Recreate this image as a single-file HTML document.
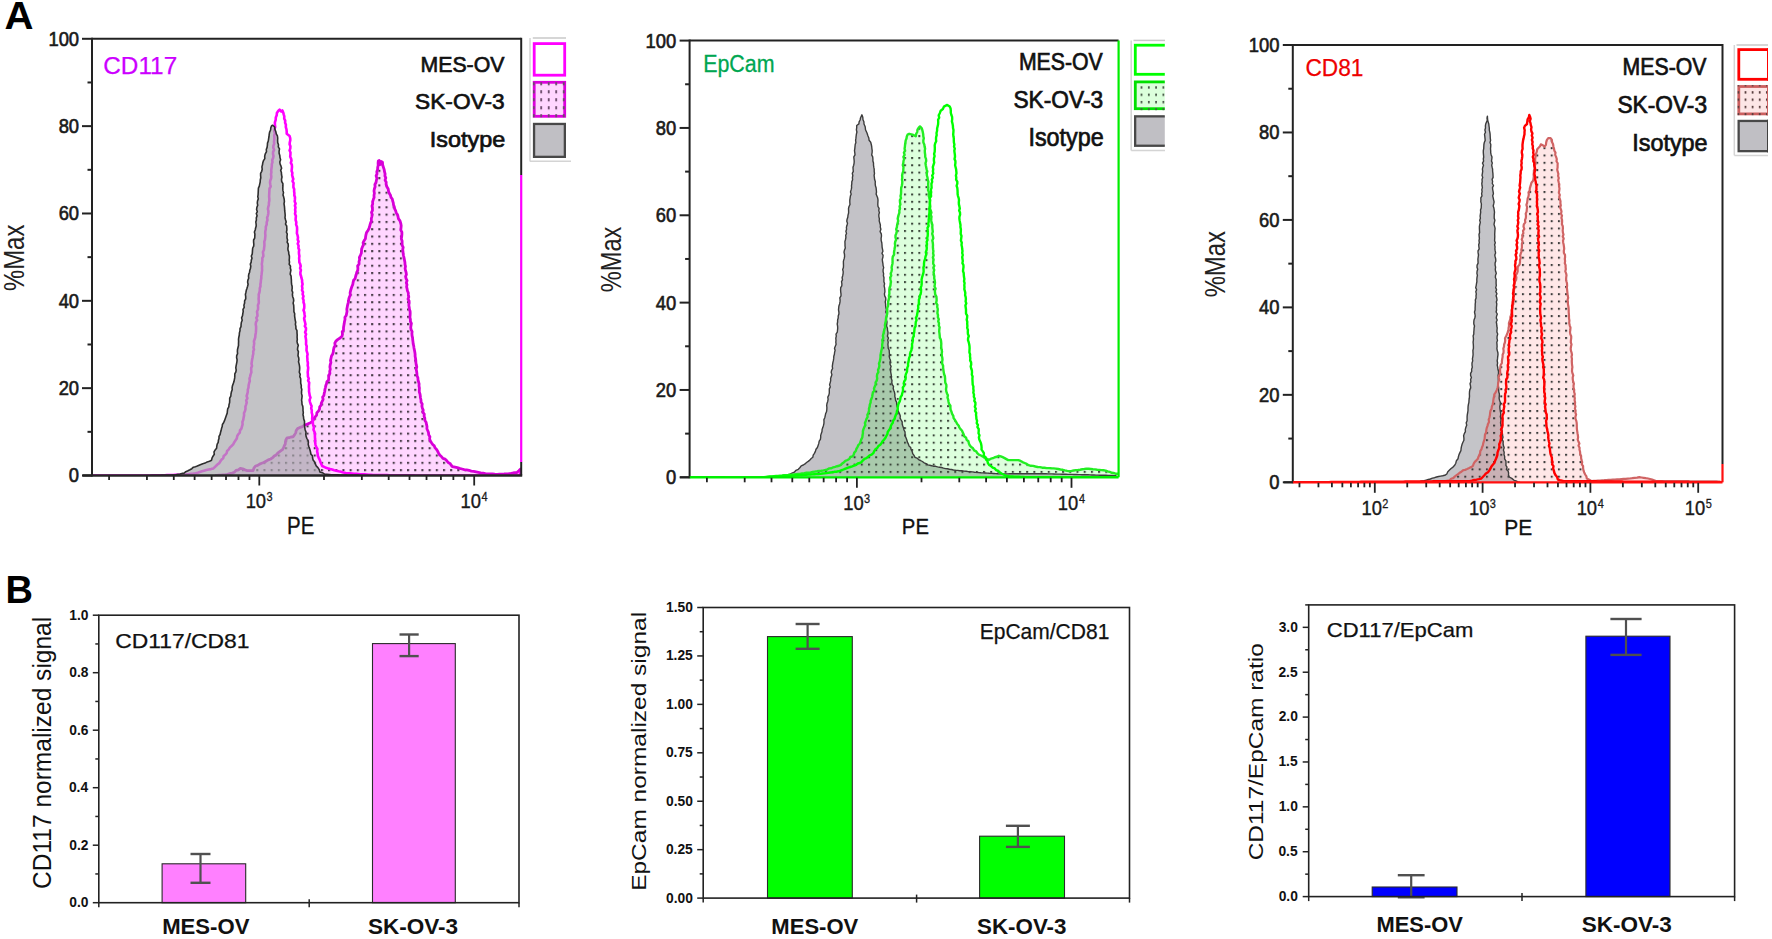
<!DOCTYPE html>
<html><head><meta charset="utf-8"><title>Figure</title>
<style>html,body{margin:0;padding:0;background:#fff;}svg{display:block;}</style>
</head><body>
<svg width="1772" height="939" viewBox="0 0 1772 939" font-family="'Liberation Sans', Arial, sans-serif">
<rect width="1772" height="939" fill="#fff"/>
<defs>
<pattern id="dotA1" patternUnits="userSpaceOnUse" x="349.6" y="301.2" width="7.18" height="7.3"><rect x="0" y="0" width="2.1" height="2.1" fill="#4a3c4a"/></pattern>
<pattern id="dotA2" patternUnits="userSpaceOnUse" x="868" y="419.8" width="7.19" height="7.3"><rect x="0" y="0" width="2" height="2" fill="#3a463a"/></pattern>
<pattern id="dotA3" patternUnits="userSpaceOnUse" x="1485.9" y="424.6" width="7.2" height="7.3"><rect x="0" y="0" width="2" height="2" fill="#3a3a3a"/></pattern>
<pattern id="dotL1" patternUnits="userSpaceOnUse" x="540.3" y="82.2" width="7.5" height="8"><rect x="0" y="0" width="1.8" height="3.2" fill="#6a4a6a"/></pattern>
<pattern id="dotL2" patternUnits="userSpaceOnUse" x="1140.6" y="86.3" width="7.3" height="7.3"><rect x="0" y="0" width="1.8" height="2.4" fill="#4a5a4a"/></pattern>
<pattern id="dotL3" patternUnits="userSpaceOnUse" x="1744.6" y="91.2" width="7.1" height="7.3"><rect x="0" y="0" width="1.8" height="2.4" fill="#5a4040"/></pattern>
<clipPath id="cL2"><rect x="1130" y="38" width="34.8" height="115"/></clipPath>
<clipPath id="cL3"><rect x="1730" y="40" width="38" height="120"/></clipPath>
<clipPath id="cA1"><rect x="92" y="38.8" width="429.2" height="436.7"/></clipPath>
<clipPath id="cA2"><rect x="689.6" y="40.6" width="429" height="436.7"/></clipPath>
<clipPath id="cA3"><rect x="1292.8" y="45" width="429.7" height="437.3"/></clipPath>
</defs>
<g clip-path="url(#cA1)">
<polygon points="215.0,475.5 217.0,475.4 219.0,475.2 221.0,475.1 223.0,474.9 225.0,474.8 227.4,474.3 229.8,473.7 232.1,473.1 234.3,472.2 236.0,470.4 238.4,469.8 240.3,468.4 242.7,468.9 245.0,469.9 247.3,470.7 250.2,470.7 253.1,470.7 253.9,468.1 255.5,466.0 257.7,465.4 259.6,464.1 261.6,463.3 263.7,462.5 266.0,461.2 268.2,459.9 270.7,459.0 272.6,457.7 274.2,456.0 276.2,454.9 277.7,453.1 280.0,451.3 282.4,449.6 283.6,447.8 284.3,445.8 285.3,444.0 285.4,441.8 285.9,439.7 287.1,437.9 289.1,437.7 291.0,437.0 293.0,436.8 294.5,434.9 295.7,432.9 296.2,430.5 297.6,428.6 300.0,427.4 302.5,426.6 304.7,425.0 306.7,424.4 308.6,423.6 310.5,422.7 312.5,421.0 313.8,418.9 315.2,416.8 316.6,415.1 316.9,412.7 318.5,411.1 319.5,409.2 319.7,406.9 321.1,405.1 321.3,403.1 322.3,401.2 323.1,399.4 322.6,397.2 323.9,395.5 324.2,393.4 324.7,391.5 324.9,389.5 325.4,387.5 325.8,385.6 326.5,383.7 326.9,381.7 328.6,380.0 328.7,377.8 328.6,375.6 329.9,373.5 329.7,371.3 330.3,369.2 329.9,366.9 330.2,364.7 330.9,362.6 330.5,360.4 331.0,358.2 331.5,356.0 332.7,354.1 333.3,351.9 333.5,349.7 334.0,347.5 335.2,345.5 334.8,343.1 335.9,341.1 337.9,339.4 340.1,338.0 342.0,336.2 342.5,334.1 342.2,331.9 343.5,330.0 343.5,327.8 343.8,325.7 344.2,323.6 344.5,321.5 345.0,319.5 344.9,317.3 346.2,315.5 346.6,313.4 347.0,311.4 346.8,309.2 347.2,307.2 347.6,305.1 348.1,303.1 348.5,301.1 348.8,299.0 349.4,297.0 350.3,295.0 350.1,292.7 350.6,290.6 351.2,288.5 351.9,286.5 352.8,284.4 353.1,282.3 353.6,280.3 355.1,278.6 355.6,276.5 356.2,274.5 356.7,272.5 357.7,270.5 357.9,268.3 357.6,265.9 359.1,264.0 359.0,261.7 359.6,259.6 359.4,257.3 360.4,255.3 361.3,253.3 361.5,251.1 361.6,248.9 362.4,246.9 363.4,244.9 363.1,242.6 364.1,240.6 365.4,238.8 365.6,236.7 366.0,234.6 366.5,232.6 367.8,230.8 368.8,228.9 369.5,227.0 370.0,224.9 370.6,222.9 371.4,221.0 371.3,218.8 371.8,216.7 372.1,214.6 371.5,212.4 372.5,210.3 372.4,208.2 372.0,206.0 372.7,203.9 372.6,201.7 373.3,199.6 374.1,197.5 374.0,195.3 374.4,193.2 374.0,190.9 374.4,188.8 375.1,186.7 374.9,184.5 376.0,182.5 376.4,180.3 376.9,178.2 376.1,175.9 377.0,173.9 376.8,171.7 377.6,169.6 377.7,167.4 378.2,165.3 378.1,163.2 378.3,161.0 379.2,160.5 379.7,162.6 380.0,164.7 381.2,161.5 382.5,162.2 382.6,164.8 383.4,167.2 384.2,169.6 384.5,171.7 385.1,173.8 384.9,175.9 385.8,177.9 385.1,180.2 386.2,182.1 386.1,184.3 386.9,186.8 388.2,189.0 388.6,191.6 389.4,193.5 390.5,195.3 391.0,197.3 392.3,199.0 392.7,201.0 393.3,202.9 393.5,204.9 394.3,206.8 394.7,208.8 395.6,210.7 396.2,212.7 397.4,214.5 398.0,216.5 398.4,218.6 400.0,220.9 400.8,223.5 401.2,225.7 401.0,227.9 400.8,230.1 401.9,232.2 401.9,234.4 401.7,236.6 401.3,238.8 402.1,240.9 402.1,243.1 402.2,245.3 403.2,247.3 402.7,249.6 403.0,251.7 403.2,253.8 403.6,256.0 404.1,258.1 404.5,260.2 404.9,262.2 405.0,264.3 405.5,266.3 405.1,268.4 405.5,270.4 406.1,272.4 406.4,274.4 405.6,276.6 406.1,278.6 407.1,280.6 406.3,282.7 407.0,284.7 406.6,286.8 407.1,288.8 407.4,290.8 408.3,292.8 408.4,294.9 408.8,296.9 408.0,299.0 409.1,301.0 409.2,303.0 408.8,305.1 409.2,307.2 409.4,309.2 410.1,311.2 410.2,313.2 410.1,315.3 409.9,317.4 410.4,319.4 410.4,321.5 411.4,323.4 411.0,325.5 410.7,327.6 411.1,329.7 412.1,331.6 411.9,333.7 412.1,335.8 412.6,337.8 412.7,339.8 413.0,341.9 413.2,343.9 413.7,345.9 414.0,348.0 414.4,350.0 414.8,352.0 415.1,354.1 415.1,356.2 415.5,358.2 415.8,360.4 415.9,362.6 416.2,364.7 416.8,366.9 416.2,369.2 416.6,371.3 416.9,373.5 417.0,375.7 417.9,377.8 418.0,380.0 418.6,382.0 419.1,383.9 419.0,386.0 419.4,388.0 419.3,390.0 419.3,392.1 420.0,394.0 420.3,396.0 420.5,398.0 421.0,400.0 421.0,402.1 422.2,404.0 421.9,406.2 422.4,408.2 423.2,410.1 422.9,412.3 424.3,414.2 424.1,416.3 424.8,418.3 424.9,420.5 426.1,422.3 426.5,424.4 427.0,426.5 426.9,428.7 427.8,430.7 428.5,432.6 428.7,434.8 429.9,436.7 429.6,438.9 430.4,440.9 431.5,442.7 432.7,444.5 434.3,445.9 435.1,447.9 436.6,449.5 437.7,451.3 438.6,453.2 439.7,455.0 441.4,456.5 442.9,458.4 445.2,459.1 446.8,460.8 448.1,462.4 450.0,463.4 451.2,465.2 452.6,466.7 455.0,467.2 457.3,467.7 459.6,468.4 462.0,469.0 464.3,469.6 466.7,469.9 469.0,470.3 471.3,471.1 473.7,471.4 476.0,471.9 478.4,472.4 480.7,472.9 483.1,473.2 485.4,473.7 487.7,473.8 490.1,474.0 492.4,474.0 494.8,474.2 497.1,474.3 499.4,474.2 501.8,474.1 504.1,474.0 506.5,473.8 508.8,473.7 510.9,473.4 512.9,473.0 514.9,472.7 517.0,472.5 518.8,470.8 520.6,469.0 521.0,471.2 520.8,473.3 521.0,475.5" fill="#ffd6ff" stroke="none" stroke-width="0" stroke-linejoin="round"/>
<polygon points="215.0,475.5 217.0,475.4 219.0,475.2 221.0,475.1 223.0,474.9 225.0,474.8 227.4,474.3 229.8,473.7 232.1,473.1 234.3,472.2 236.0,470.4 238.4,469.8 240.3,468.4 242.7,468.9 245.0,469.9 247.3,470.7 250.2,470.7 253.1,470.7 253.9,468.1 255.5,466.0 257.7,465.4 259.6,464.1 261.6,463.3 263.7,462.5 266.0,461.2 268.2,459.9 270.7,459.0 272.6,457.7 274.2,456.0 276.2,454.9 277.7,453.1 280.0,451.3 282.4,449.6 283.6,447.8 284.3,445.8 285.3,444.0 285.4,441.8 285.9,439.7 287.1,437.9 289.1,437.7 291.0,437.0 293.0,436.8 294.5,434.9 295.7,432.9 296.2,430.5 297.6,428.6 300.0,427.4 302.5,426.6 304.7,425.0 306.7,424.4 308.6,423.6 310.5,422.7 312.5,421.0 313.8,418.9 315.2,416.8 316.6,415.1 316.9,412.7 318.5,411.1 319.5,409.2 319.7,406.9 321.1,405.1 321.3,403.1 322.3,401.2 323.1,399.4 322.6,397.2 323.9,395.5 324.2,393.4 324.7,391.5 324.9,389.5 325.4,387.5 325.8,385.6 326.5,383.7 326.9,381.7 328.6,380.0 328.7,377.8 328.6,375.6 329.9,373.5 329.7,371.3 330.3,369.2 329.9,366.9 330.2,364.7 330.9,362.6 330.5,360.4 331.0,358.2 331.5,356.0 332.7,354.1 333.3,351.9 333.5,349.7 334.0,347.5 335.2,345.5 334.8,343.1 335.9,341.1 337.9,339.4 340.1,338.0 342.0,336.2 342.5,334.1 342.2,331.9 343.5,330.0 343.5,327.8 343.8,325.7 344.2,323.6 344.5,321.5 345.0,319.5 344.9,317.3 346.2,315.5 346.6,313.4 347.0,311.4 346.8,309.2 347.2,307.2 347.6,305.1 348.1,303.1 348.5,301.1 348.8,299.0 349.4,297.0 350.3,295.0 350.1,292.7 350.6,290.6 351.2,288.5 351.9,286.5 352.8,284.4 353.1,282.3 353.6,280.3 355.1,278.6 355.6,276.5 356.2,274.5 356.7,272.5 357.7,270.5 357.9,268.3 357.6,265.9 359.1,264.0 359.0,261.7 359.6,259.6 359.4,257.3 360.4,255.3 361.3,253.3 361.5,251.1 361.6,248.9 362.4,246.9 363.4,244.9 363.1,242.6 364.1,240.6 365.4,238.8 365.6,236.7 366.0,234.6 366.5,232.6 367.8,230.8 368.8,228.9 369.5,227.0 370.0,224.9 370.6,222.9 371.4,221.0 371.3,218.8 371.8,216.7 372.1,214.6 371.5,212.4 372.5,210.3 372.4,208.2 372.0,206.0 372.7,203.9 372.6,201.7 373.3,199.6 374.1,197.5 374.0,195.3 374.4,193.2 374.0,190.9 374.4,188.8 375.1,186.7 374.9,184.5 376.0,182.5 376.4,180.3 376.9,178.2 376.1,175.9 377.0,173.9 376.8,171.7 377.6,169.6 377.7,167.4 378.2,165.3 378.1,163.2 378.3,161.0 379.2,160.5 379.7,162.6 380.0,164.7 381.2,161.5 382.5,162.2 382.6,164.8 383.4,167.2 384.2,169.6 384.5,171.7 385.1,173.8 384.9,175.9 385.8,177.9 385.1,180.2 386.2,182.1 386.1,184.3 386.9,186.8 388.2,189.0 388.6,191.6 389.4,193.5 390.5,195.3 391.0,197.3 392.3,199.0 392.7,201.0 393.3,202.9 393.5,204.9 394.3,206.8 394.7,208.8 395.6,210.7 396.2,212.7 397.4,214.5 398.0,216.5 398.4,218.6 400.0,220.9 400.8,223.5 401.2,225.7 401.0,227.9 400.8,230.1 401.9,232.2 401.9,234.4 401.7,236.6 401.3,238.8 402.1,240.9 402.1,243.1 402.2,245.3 403.2,247.3 402.7,249.6 403.0,251.7 403.2,253.8 403.6,256.0 404.1,258.1 404.5,260.2 404.9,262.2 405.0,264.3 405.5,266.3 405.1,268.4 405.5,270.4 406.1,272.4 406.4,274.4 405.6,276.6 406.1,278.6 407.1,280.6 406.3,282.7 407.0,284.7 406.6,286.8 407.1,288.8 407.4,290.8 408.3,292.8 408.4,294.9 408.8,296.9 408.0,299.0 409.1,301.0 409.2,303.0 408.8,305.1 409.2,307.2 409.4,309.2 410.1,311.2 410.2,313.2 410.1,315.3 409.9,317.4 410.4,319.4 410.4,321.5 411.4,323.4 411.0,325.5 410.7,327.6 411.1,329.7 412.1,331.6 411.9,333.7 412.1,335.8 412.6,337.8 412.7,339.8 413.0,341.9 413.2,343.9 413.7,345.9 414.0,348.0 414.4,350.0 414.8,352.0 415.1,354.1 415.1,356.2 415.5,358.2 415.8,360.4 415.9,362.6 416.2,364.7 416.8,366.9 416.2,369.2 416.6,371.3 416.9,373.5 417.0,375.7 417.9,377.8 418.0,380.0 418.6,382.0 419.1,383.9 419.0,386.0 419.4,388.0 419.3,390.0 419.3,392.1 420.0,394.0 420.3,396.0 420.5,398.0 421.0,400.0 421.0,402.1 422.2,404.0 421.9,406.2 422.4,408.2 423.2,410.1 422.9,412.3 424.3,414.2 424.1,416.3 424.8,418.3 424.9,420.5 426.1,422.3 426.5,424.4 427.0,426.5 426.9,428.7 427.8,430.7 428.5,432.6 428.7,434.8 429.9,436.7 429.6,438.9 430.4,440.9 431.5,442.7 432.7,444.5 434.3,445.9 435.1,447.9 436.6,449.5 437.7,451.3 438.6,453.2 439.7,455.0 441.4,456.5 442.9,458.4 445.2,459.1 446.8,460.8 448.1,462.4 450.0,463.4 451.2,465.2 452.6,466.7 455.0,467.2 457.3,467.7 459.6,468.4 462.0,469.0 464.3,469.6 466.7,469.9 469.0,470.3 471.3,471.1 473.7,471.4 476.0,471.9 478.4,472.4 480.7,472.9 483.1,473.2 485.4,473.7 487.7,473.8 490.1,474.0 492.4,474.0 494.8,474.2 497.1,474.3 499.4,474.2 501.8,474.1 504.1,474.0 506.5,473.8 508.8,473.7 510.9,473.4 512.9,473.0 514.9,472.7 517.0,472.5 518.8,470.8 520.6,469.0 521.0,471.2 520.8,473.3 521.0,475.5" fill="url(#dotA1)" stroke="none" stroke-width="0" stroke-linejoin="round"/>
<polyline points="215.0,475.5 217.0,475.4 219.0,475.2 221.0,475.1 223.0,474.9 225.0,474.8 227.4,474.3 229.8,473.7 232.1,473.1 234.3,472.2 236.0,470.4 238.4,469.8 240.3,468.4 242.7,468.9 245.0,469.9 247.3,470.7 250.2,470.7 253.1,470.7 253.9,468.1 255.5,466.0 257.7,465.4 259.6,464.1 261.6,463.3 263.7,462.5 266.0,461.2 268.2,459.9 270.7,459.0 272.6,457.7 274.2,456.0 276.2,454.9 277.7,453.1 280.0,451.3 282.4,449.6 283.6,447.8 284.3,445.8 285.3,444.0 285.4,441.8 285.9,439.7 287.1,437.9 289.1,437.7 291.0,437.0 293.0,436.8 294.5,434.9 295.7,432.9 296.2,430.5 297.6,428.6 300.0,427.4 302.5,426.6 304.7,425.0 306.7,424.4 308.6,423.6 310.5,422.7 312.5,421.0 313.8,418.9 315.2,416.8 316.6,415.1 316.9,412.7 318.5,411.1 319.5,409.2 319.7,406.9 321.1,405.1 321.3,403.1 322.3,401.2 323.1,399.4 322.6,397.2 323.9,395.5 324.2,393.4 324.7,391.5 324.9,389.5 325.4,387.5 325.8,385.6 326.5,383.7 326.9,381.7 328.6,380.0 328.7,377.8 328.6,375.6 329.9,373.5 329.7,371.3 330.3,369.2 329.9,366.9 330.2,364.7 330.9,362.6 330.5,360.4 331.0,358.2 331.5,356.0 332.7,354.1 333.3,351.9 333.5,349.7 334.0,347.5 335.2,345.5 334.8,343.1 335.9,341.1 337.9,339.4 340.1,338.0 342.0,336.2 342.5,334.1 342.2,331.9 343.5,330.0 343.5,327.8 343.8,325.7 344.2,323.6 344.5,321.5 345.0,319.5 344.9,317.3 346.2,315.5 346.6,313.4 347.0,311.4 346.8,309.2 347.2,307.2 347.6,305.1 348.1,303.1 348.5,301.1 348.8,299.0 349.4,297.0 350.3,295.0 350.1,292.7 350.6,290.6 351.2,288.5 351.9,286.5 352.8,284.4 353.1,282.3 353.6,280.3 355.1,278.6 355.6,276.5 356.2,274.5 356.7,272.5 357.7,270.5 357.9,268.3 357.6,265.9 359.1,264.0 359.0,261.7 359.6,259.6 359.4,257.3 360.4,255.3 361.3,253.3 361.5,251.1 361.6,248.9 362.4,246.9 363.4,244.9 363.1,242.6 364.1,240.6 365.4,238.8 365.6,236.7 366.0,234.6 366.5,232.6 367.8,230.8 368.8,228.9 369.5,227.0 370.0,224.9 370.6,222.9 371.4,221.0 371.3,218.8 371.8,216.7 372.1,214.6 371.5,212.4 372.5,210.3 372.4,208.2 372.0,206.0 372.7,203.9 372.6,201.7 373.3,199.6 374.1,197.5 374.0,195.3 374.4,193.2 374.0,190.9 374.4,188.8 375.1,186.7 374.9,184.5 376.0,182.5 376.4,180.3 376.9,178.2 376.1,175.9 377.0,173.9 376.8,171.7 377.6,169.6 377.7,167.4 378.2,165.3 378.1,163.2 378.3,161.0 379.2,160.5 379.7,162.6 380.0,164.7 381.2,161.5 382.5,162.2 382.6,164.8 383.4,167.2 384.2,169.6 384.5,171.7 385.1,173.8 384.9,175.9 385.8,177.9 385.1,180.2 386.2,182.1 386.1,184.3 386.9,186.8 388.2,189.0 388.6,191.6 389.4,193.5 390.5,195.3 391.0,197.3 392.3,199.0 392.7,201.0 393.3,202.9 393.5,204.9 394.3,206.8 394.7,208.8 395.6,210.7 396.2,212.7 397.4,214.5 398.0,216.5 398.4,218.6 400.0,220.9 400.8,223.5 401.2,225.7 401.0,227.9 400.8,230.1 401.9,232.2 401.9,234.4 401.7,236.6 401.3,238.8 402.1,240.9 402.1,243.1 402.2,245.3 403.2,247.3 402.7,249.6 403.0,251.7 403.2,253.8 403.6,256.0 404.1,258.1 404.5,260.2 404.9,262.2 405.0,264.3 405.5,266.3 405.1,268.4 405.5,270.4 406.1,272.4 406.4,274.4 405.6,276.6 406.1,278.6 407.1,280.6 406.3,282.7 407.0,284.7 406.6,286.8 407.1,288.8 407.4,290.8 408.3,292.8 408.4,294.9 408.8,296.9 408.0,299.0 409.1,301.0 409.2,303.0 408.8,305.1 409.2,307.2 409.4,309.2 410.1,311.2 410.2,313.2 410.1,315.3 409.9,317.4 410.4,319.4 410.4,321.5 411.4,323.4 411.0,325.5 410.7,327.6 411.1,329.7 412.1,331.6 411.9,333.7 412.1,335.8 412.6,337.8 412.7,339.8 413.0,341.9 413.2,343.9 413.7,345.9 414.0,348.0 414.4,350.0 414.8,352.0 415.1,354.1 415.1,356.2 415.5,358.2 415.8,360.4 415.9,362.6 416.2,364.7 416.8,366.9 416.2,369.2 416.6,371.3 416.9,373.5 417.0,375.7 417.9,377.8 418.0,380.0 418.6,382.0 419.1,383.9 419.0,386.0 419.4,388.0 419.3,390.0 419.3,392.1 420.0,394.0 420.3,396.0 420.5,398.0 421.0,400.0 421.0,402.1 422.2,404.0 421.9,406.2 422.4,408.2 423.2,410.1 422.9,412.3 424.3,414.2 424.1,416.3 424.8,418.3 424.9,420.5 426.1,422.3 426.5,424.4 427.0,426.5 426.9,428.7 427.8,430.7 428.5,432.6 428.7,434.8 429.9,436.7 429.6,438.9 430.4,440.9 431.5,442.7 432.7,444.5 434.3,445.9 435.1,447.9 436.6,449.5 437.7,451.3 438.6,453.2 439.7,455.0 441.4,456.5 442.9,458.4 445.2,459.1 446.8,460.8 448.1,462.4 450.0,463.4 451.2,465.2 452.6,466.7 455.0,467.2 457.3,467.7 459.6,468.4 462.0,469.0 464.3,469.6 466.7,469.9 469.0,470.3 471.3,471.1 473.7,471.4 476.0,471.9 478.4,472.4 480.7,472.9 483.1,473.2 485.4,473.7 487.7,473.8 490.1,474.0 492.4,474.0 494.8,474.2 497.1,474.3 499.4,474.2 501.8,474.1 504.1,474.0 506.5,473.8 508.8,473.7 510.9,473.4 512.9,473.0 514.9,472.7 517.0,472.5 518.8,470.8 520.6,469.0 521.0,471.2 520.8,473.3" fill="none" stroke="#d800d8" stroke-width="2.8" stroke-linejoin="round"/>
<polyline points="92.0,475.5 94.0,475.5 96.0,475.5 98.0,475.5 100.0,475.5 102.0,475.5 104.0,475.5 106.0,475.5 108.0,475.5 110.0,475.5 112.0,475.5 114.0,475.5 116.0,475.5 118.0,475.5 120.0,475.5 122.0,475.5 124.0,475.5 126.0,475.5 128.0,475.5 130.0,475.5 132.0,475.5 134.0,475.5 136.0,475.5 138.0,475.5 140.0,475.5 142.0,475.5 144.0,475.5 146.0,475.5 148.0,475.5 150.0,475.5 152.1,475.4 154.2,475.4 156.3,475.4 158.5,475.3 160.6,475.3 162.7,475.2 164.8,475.2 166.9,475.1 169.0,475.1 171.1,475.0 173.2,475.0 175.4,474.9 177.5,474.9 179.6,474.9 181.7,474.8 184.0,474.5 186.4,474.4 188.7,474.2 191.1,473.8 193.4,473.6 195.6,473.2 197.7,472.7 199.8,472.0 201.9,471.3 204.0,470.7 206.3,470.0 208.6,469.5 211.0,469.1 213.3,468.4 214.9,467.1 216.2,465.7 217.7,464.3 219.3,463.1 220.4,461.3 221.5,459.6 223.2,458.3 223.7,456.1 225.3,454.8 226.6,453.2 227.1,451.0 228.6,449.6 229.8,447.6 231.5,446.0 233.2,444.3 234.3,442.2 235.6,440.3 236.8,438.5 237.2,436.2 238.2,434.3 239.8,432.7 240.0,430.3 241.4,428.6 242.0,426.4 242.6,424.3 242.4,421.9 243.3,419.8 243.6,417.6 244.1,415.4 244.0,413.1 245.0,411.0 245.5,408.9 245.4,406.7 246.1,404.6 246.7,402.6 246.2,400.3 247.4,398.3 246.6,396.0 247.3,394.0 247.8,391.8 247.8,389.7 248.5,387.6 248.6,385.4 249.1,383.2 249.8,381.0 249.5,378.7 250.1,376.6 250.6,374.4 251.4,372.3 251.2,370.0 251.2,367.9 252.0,365.9 251.5,363.8 251.8,361.8 252.1,359.7 252.5,357.7 252.8,355.7 253.3,353.7 253.2,351.6 254.0,349.6 253.5,347.5 253.9,345.4 254.2,343.4 253.9,341.3 254.7,339.3 255.3,337.2 255.4,335.1 255.8,332.9 256.0,330.8 256.1,328.7 256.1,326.5 255.7,324.3 256.0,322.2 257.2,320.2 256.3,317.9 257.5,315.9 257.3,313.7 257.0,311.5 258.0,309.5 258.1,307.3 257.9,305.2 258.8,303.1 258.8,301.0 258.6,298.8 258.8,296.7 258.7,294.5 259.4,292.5 259.8,290.3 259.8,288.2 260.5,286.2 260.4,284.2 260.8,282.2 260.9,280.2 261.3,278.2 261.3,276.2 261.6,274.2 261.8,272.2 262.1,270.2 262.0,268.2 262.1,266.1 261.8,264.1 262.1,262.1 262.4,260.1 262.3,258.1 263.4,256.1 263.2,254.1 262.9,252.0 263.9,250.0 264.1,247.9 264.4,245.8 264.4,243.7 264.3,241.6 265.0,239.6 265.2,237.5 265.4,235.4 265.2,233.3 265.3,231.2 265.8,229.2 265.8,226.8 266.7,224.6 266.7,222.2 267.5,220.0 267.1,217.8 267.9,215.6 268.3,213.4 268.4,211.2 267.9,209.0 268.3,206.8 268.9,204.8 268.9,202.8 269.3,200.8 269.3,198.7 269.1,196.7 269.2,194.6 269.3,192.6 269.4,190.6 269.5,188.5 270.7,186.6 270.3,184.5 270.0,182.4 270.3,180.4 271.1,178.4 271.3,176.4 271.0,174.3 271.4,172.3 271.2,170.2 271.5,168.2 271.8,166.1 271.8,164.1 272.5,162.1 272.2,160.0 273.1,158.1 273.5,156.0 273.0,153.9 273.1,151.9 274.1,149.9 273.3,147.8 273.4,145.8 274.2,143.8 274.0,141.7 274.3,139.7 274.4,137.6 274.2,135.4 275.0,133.3 274.2,131.2 274.6,129.1 275.2,126.9 274.9,124.8 274.9,122.3 275.7,119.9 275.8,117.4 276.7,115.3 276.9,112.9 278.2,111.0 279.6,109.6 281.2,111.5 282.4,110.5 283.2,112.4 283.7,114.4 284.3,116.4 284.2,118.6 285.2,120.6 285.1,122.8 285.9,124.8 285.8,127.1 286.5,129.3 286.7,131.5 286.7,133.8 289.6,136.0 290.2,138.0 290.3,140.1 289.8,142.2 289.6,144.3 290.4,146.3 290.3,148.4 289.6,150.5 290.5,152.5 290.4,154.6 290.2,156.7 291.1,158.6 291.5,160.7 290.8,162.8 291.8,164.7 292.0,166.8 291.8,168.9 291.6,170.9 292.4,172.9 292.1,175.0 292.6,177.0 293.3,179.0 292.5,181.1 293.6,183.1 293.4,185.1 293.4,187.2 294.2,189.2 294.1,191.3 294.4,193.3 294.3,195.3 295.0,197.3 294.9,199.4 294.7,201.5 295.6,203.5 294.9,205.6 295.5,207.6 295.1,209.7 295.4,211.8 295.0,213.8 295.9,215.9 295.7,217.9 295.6,220.0 296.3,222.2 296.1,224.6 297.0,226.9 297.1,229.2 297.0,231.3 296.9,233.4 297.6,235.4 298.0,237.5 297.7,239.6 298.6,241.6 297.7,243.8 298.6,245.8 298.4,247.9 299.2,249.9 298.9,252.0 299.0,254.1 299.4,256.1 299.1,258.1 299.3,260.1 299.3,262.2 300.2,264.1 300.7,266.1 300.1,268.2 300.9,270.1 300.4,272.2 300.4,274.2 301.1,276.2 301.5,278.2 302.1,280.1 302.1,282.1 302.6,284.1 302.0,286.2 302.4,288.2 302.0,290.2 303.0,292.2 302.6,294.2 303.5,296.2 302.8,298.2 303.6,300.2 303.5,302.2 304.2,304.2 304.3,306.2 304.2,308.2 303.5,310.2 304.3,312.2 304.5,314.2 304.9,316.2 304.1,318.2 304.4,320.2 305.0,322.2 305.5,324.2 304.8,326.2 306.0,328.2 305.9,330.2 305.1,332.3 306.1,334.2 305.4,336.3 305.8,338.3 306.1,340.3 306.1,342.3 306.0,344.3 306.7,346.3 306.6,348.3 306.5,350.3 307.1,352.3 307.6,354.3 307.2,356.3 307.4,358.6 307.5,360.9 307.9,363.1 307.7,365.4 308.2,367.7 308.0,370.0 307.7,372.2 307.9,374.3 307.9,376.4 308.8,378.5 308.1,380.7 309.2,382.7 309.0,384.9 308.9,387.0 309.1,389.2 309.0,391.3 309.4,393.4 309.7,395.5 310.5,397.6 309.6,399.9 310.0,402.0 310.6,404.0 311.6,406.1 311.2,408.3 311.8,410.4 311.7,412.6 312.3,414.6 312.3,416.8 312.1,419.0 312.9,421.1 312.8,423.2 313.3,425.4 313.9,427.4 313.5,429.7 314.4,431.7 315.0,433.8 314.9,436.0 315.0,438.2 315.2,440.3 315.2,442.6 315.5,444.8 316.2,446.9 317.4,449.0 317.1,451.3 317.6,453.5 317.8,455.7 318.7,457.8 319.7,459.8 320.4,461.9 321.3,464.0 322.2,466.0 324.1,466.9 326.0,467.8 328.1,468.4 330.1,469.1 332.2,469.6 334.2,470.3 336.3,470.7 338.6,471.3 341.0,471.8 343.3,472.6 345.7,473.1 347.8,473.2 349.9,473.4 352.0,473.6 354.1,473.8 356.2,473.9 358.3,474.0 360.4,474.2 362.5,474.3 364.6,474.4 366.7,474.6 368.8,474.8 370.9,474.8 373.0,475.0 375.0,475.0 377.1,475.0 379.1,475.1 381.2,475.1 383.2,475.1 385.3,475.1 387.3,475.1 389.3,475.2 391.4,475.2 393.4,475.2 395.5,475.2 397.5,475.3 399.6,475.3 401.6,475.3 403.7,475.3 405.7,475.3 407.7,475.4 409.8,475.4 411.8,475.4 413.9,475.4 415.9,475.5 418.0,475.5 420.0,475.5 422.0,475.5 424.0,475.5 426.1,475.5 428.1,475.5 430.1,475.5 432.1,475.5 434.1,475.5 436.2,475.5 438.2,475.5 440.2,475.5 442.2,475.5 444.2,475.5 446.3,475.5 448.3,475.5 450.3,475.5 452.3,475.5 454.3,475.5 456.4,475.5 458.4,475.5 460.4,475.5 462.4,475.5 464.4,475.5 466.5,475.5 468.5,475.5 470.5,475.5 472.5,475.5 474.6,475.5 476.6,475.5 478.6,475.5 480.6,475.5 482.6,475.5 484.7,475.5 486.7,475.5 488.7,475.5 490.7,475.5 492.7,475.5 494.8,475.5 496.8,475.5 498.8,475.5 500.8,475.5 502.8,475.5 504.9,475.5 506.9,475.5 508.9,475.5 510.9,475.5 512.9,475.5 515.0,475.5 517.0,475.5 519.0,475.5 520.1,473.8 521.0,472.0" fill="none" stroke="#ff00ff" stroke-width="2.6" stroke-linejoin="round"/>
<polygon points="150.0,475.5 152.0,475.5 154.0,475.5 156.0,475.5 158.0,475.5 160.0,475.5 162.0,475.4 164.0,475.4 166.0,475.4 168.0,475.4 170.0,475.4 172.9,475.1 175.9,474.8 177.9,474.4 180.0,474.0 182.0,473.4 184.1,473.1 185.8,471.7 187.9,470.8 189.9,469.8 191.8,468.7 193.4,467.2 195.4,466.8 197.3,466.1 199.1,465.3 200.9,464.5 202.8,463.7 205.1,463.1 207.2,461.9 209.5,461.3 211.6,460.2 212.0,458.1 213.0,456.2 214.3,454.3 214.0,451.9 215.1,450.1 216.6,448.3 216.8,446.1 217.2,444.1 218.2,442.3 218.4,440.3 219.0,438.4 219.0,436.3 220.1,434.5 220.5,432.5 221.1,430.6 221.5,428.6 222.2,426.6 222.4,424.5 223.6,422.8 224.4,420.9 225.1,418.9 225.8,417.0 226.5,415.0 227.2,413.1 227.4,411.0 227.7,408.8 228.8,406.9 229.0,404.7 229.6,402.6 229.7,400.4 229.7,398.2 230.8,396.2 231.0,394.0 231.4,391.9 232.2,389.8 232.1,387.6 232.5,385.6 233.2,383.7 233.9,381.8 234.3,379.9 234.7,377.9 234.8,375.9 234.8,373.8 235.8,372.0 236.2,370.0 235.8,367.9 236.1,365.9 236.5,363.9 236.9,361.8 237.1,359.8 236.6,357.7 236.7,355.6 237.6,353.6 237.4,351.6 237.5,349.5 238.0,347.5 238.5,345.5 238.5,343.4 238.6,341.4 238.5,339.3 238.8,337.2 239.3,335.0 239.4,332.9 240.0,330.8 240.0,328.6 241.0,326.6 241.1,324.4 241.4,322.2 242.2,320.2 241.6,317.9 242.5,315.8 242.8,313.7 243.2,311.6 243.0,309.4 244.2,307.4 243.9,305.2 244.6,303.1 244.6,300.9 245.7,298.9 245.7,296.7 245.4,294.5 245.9,292.4 246.3,290.3 247.0,288.2 247.6,286.2 248.1,284.3 247.6,282.1 247.9,280.1 248.7,278.2 248.5,276.1 248.8,274.1 249.6,272.2 249.8,270.2 250.5,268.2 250.8,266.2 250.3,264.1 251.2,262.2 251.3,260.1 252.0,258.2 251.3,256.0 252.2,254.1 252.4,252.1 252.5,250.1 252.7,248.0 253.7,246.1 253.8,244.1 253.6,242.1 253.6,240.0 254.7,238.1 254.8,236.1 254.9,234.1 254.4,232.0 255.2,230.0 255.6,228.0 256.2,226.1 256.1,224.0 255.8,222.0 256.4,220.0 256.3,217.9 257.1,215.8 256.3,213.6 257.3,211.6 256.6,209.4 256.9,207.3 257.7,205.2 257.3,203.1 257.5,201.0 258.3,198.9 257.8,196.7 258.1,194.6 258.2,192.5 258.3,190.4 258.4,188.2 259.3,186.2 259.7,184.1 260.2,182.0 260.3,179.8 260.8,177.7 260.6,175.5 260.6,173.3 261.7,171.3 262.2,169.2 261.9,166.9 262.5,164.8 262.8,162.7 263.5,160.6 264.8,158.6 264.7,156.1 265.3,153.8 266.5,151.7 266.3,149.5 267.1,147.4 267.4,145.2 267.5,143.1 268.3,141.0 268.6,138.8 269.0,136.7 269.2,134.4 269.6,132.1 270.6,130.0 270.8,127.7 271.7,125.6 272.5,125.2 274.7,127.0 274.9,129.4 275.8,131.5 276.3,133.8 277.4,135.9 277.7,138.2 277.6,140.4 277.7,142.6 278.5,144.7 278.3,146.9 279.5,148.9 279.1,151.1 279.1,153.3 279.8,155.4 280.0,157.6 280.6,159.7 279.8,161.9 280.1,164.0 281.0,166.1 281.6,168.2 280.7,170.4 281.4,172.5 281.5,174.7 282.0,177.0 281.5,179.3 281.7,181.5 282.9,183.6 282.9,185.9 282.8,188.2 282.9,190.4 283.5,192.6 283.0,194.9 283.7,197.1 284.2,199.3 284.4,201.5 284.0,203.8 284.4,206.1 284.6,208.3 284.7,210.7 285.0,213.0 285.2,215.3 285.0,217.7 285.6,220.0 286.2,222.0 285.5,224.1 286.7,226.0 286.8,228.0 286.9,230.0 286.4,232.1 287.3,234.0 287.0,236.1 287.0,238.1 287.6,240.0 287.1,242.1 288.2,244.0 288.3,246.1 287.9,248.1 288.0,250.1 288.7,252.1 288.8,254.1 289.4,256.1 289.4,258.1 289.2,260.1 289.5,262.1 289.2,264.2 290.5,266.1 290.3,268.1 290.9,270.1 290.5,272.2 290.2,274.2 291.1,276.2 291.2,278.2 291.4,280.2 291.4,282.2 291.6,284.2 292.1,286.2 292.2,288.2 291.9,290.4 292.7,292.4 292.4,294.6 292.7,296.7 293.5,298.8 293.7,300.9 293.1,303.1 293.7,305.2 293.8,307.4 293.9,309.5 293.9,311.6 294.7,313.7 294.6,315.9 294.9,318.0 295.2,320.1 295.7,322.2 295.4,324.4 295.9,326.5 295.9,328.7 297.0,330.7 297.0,332.9 297.2,335.0 297.1,337.2 297.3,339.3 297.0,341.4 297.4,343.4 298.3,345.4 297.7,347.5 297.5,349.6 298.4,351.6 298.2,353.6 298.0,355.7 298.7,357.7 298.9,359.8 298.5,361.8 299.1,363.9 299.5,365.9 299.7,367.9 299.6,370.0 299.3,372.2 300.2,374.4 299.8,376.6 300.7,378.8 300.7,381.0 300.7,383.2 301.3,385.4 301.2,387.6 301.8,389.6 301.5,391.8 301.6,393.9 302.1,395.9 301.9,398.0 301.6,400.2 301.9,402.2 302.0,404.3 302.8,406.4 303.0,408.4 303.0,410.5 303.3,412.6 303.0,414.7 303.5,416.8 303.7,419.0 304.5,421.1 304.5,423.4 304.5,425.6 304.8,427.8 305.2,430.0 306.0,432.1 305.8,434.4 306.1,436.4 306.8,438.3 307.9,440.1 308.4,442.1 308.2,444.2 308.7,446.2 309.4,448.1 310.0,450.0 310.5,452.0 310.9,454.1 312.4,455.8 312.6,458.0 313.1,460.0 314.5,461.7 315.2,463.7 316.2,465.9 317.9,467.6 319.2,469.6 319.9,471.9 322.4,472.7 324.6,474.2 327.0,474.3 329.3,474.5 331.6,474.7 334.0,474.8 336.0,474.8 338.0,474.9 340.0,475.0 342.0,475.0 344.0,475.1 346.0,475.1 348.0,475.2 350.0,475.2 352.0,475.3 354.0,475.3 356.0,475.4 358.0,475.4 360.0,475.5" fill="rgba(168,168,172,0.69)" stroke="none" stroke-width="0" stroke-linejoin="round"/>
<polyline points="150.0,475.5 152.0,475.5 154.0,475.5 156.0,475.5 158.0,475.5 160.0,475.5 162.0,475.4 164.0,475.4 166.0,475.4 168.0,475.4 170.0,475.4 172.9,475.1 175.9,474.8 177.9,474.4 180.0,474.0 182.0,473.4 184.1,473.1 185.8,471.7 187.9,470.8 189.9,469.8 191.8,468.7 193.4,467.2 195.4,466.8 197.3,466.1 199.1,465.3 200.9,464.5 202.8,463.7 205.1,463.1 207.2,461.9 209.5,461.3 211.6,460.2 212.0,458.1 213.0,456.2 214.3,454.3 214.0,451.9 215.1,450.1 216.6,448.3 216.8,446.1 217.2,444.1 218.2,442.3 218.4,440.3 219.0,438.4 219.0,436.3 220.1,434.5 220.5,432.5 221.1,430.6 221.5,428.6 222.2,426.6 222.4,424.5 223.6,422.8 224.4,420.9 225.1,418.9 225.8,417.0 226.5,415.0 227.2,413.1 227.4,411.0 227.7,408.8 228.8,406.9 229.0,404.7 229.6,402.6 229.7,400.4 229.7,398.2 230.8,396.2 231.0,394.0 231.4,391.9 232.2,389.8 232.1,387.6 232.5,385.6 233.2,383.7 233.9,381.8 234.3,379.9 234.7,377.9 234.8,375.9 234.8,373.8 235.8,372.0 236.2,370.0 235.8,367.9 236.1,365.9 236.5,363.9 236.9,361.8 237.1,359.8 236.6,357.7 236.7,355.6 237.6,353.6 237.4,351.6 237.5,349.5 238.0,347.5 238.5,345.5 238.5,343.4 238.6,341.4 238.5,339.3 238.8,337.2 239.3,335.0 239.4,332.9 240.0,330.8 240.0,328.6 241.0,326.6 241.1,324.4 241.4,322.2 242.2,320.2 241.6,317.9 242.5,315.8 242.8,313.7 243.2,311.6 243.0,309.4 244.2,307.4 243.9,305.2 244.6,303.1 244.6,300.9 245.7,298.9 245.7,296.7 245.4,294.5 245.9,292.4 246.3,290.3 247.0,288.2 247.6,286.2 248.1,284.3 247.6,282.1 247.9,280.1 248.7,278.2 248.5,276.1 248.8,274.1 249.6,272.2 249.8,270.2 250.5,268.2 250.8,266.2 250.3,264.1 251.2,262.2 251.3,260.1 252.0,258.2 251.3,256.0 252.2,254.1 252.4,252.1 252.5,250.1 252.7,248.0 253.7,246.1 253.8,244.1 253.6,242.1 253.6,240.0 254.7,238.1 254.8,236.1 254.9,234.1 254.4,232.0 255.2,230.0 255.6,228.0 256.2,226.1 256.1,224.0 255.8,222.0 256.4,220.0 256.3,217.9 257.1,215.8 256.3,213.6 257.3,211.6 256.6,209.4 256.9,207.3 257.7,205.2 257.3,203.1 257.5,201.0 258.3,198.9 257.8,196.7 258.1,194.6 258.2,192.5 258.3,190.4 258.4,188.2 259.3,186.2 259.7,184.1 260.2,182.0 260.3,179.8 260.8,177.7 260.6,175.5 260.6,173.3 261.7,171.3 262.2,169.2 261.9,166.9 262.5,164.8 262.8,162.7 263.5,160.6 264.8,158.6 264.7,156.1 265.3,153.8 266.5,151.7 266.3,149.5 267.1,147.4 267.4,145.2 267.5,143.1 268.3,141.0 268.6,138.8 269.0,136.7 269.2,134.4 269.6,132.1 270.6,130.0 270.8,127.7 271.7,125.6 272.5,125.2 274.7,127.0 274.9,129.4 275.8,131.5 276.3,133.8 277.4,135.9 277.7,138.2 277.6,140.4 277.7,142.6 278.5,144.7 278.3,146.9 279.5,148.9 279.1,151.1 279.1,153.3 279.8,155.4 280.0,157.6 280.6,159.7 279.8,161.9 280.1,164.0 281.0,166.1 281.6,168.2 280.7,170.4 281.4,172.5 281.5,174.7 282.0,177.0 281.5,179.3 281.7,181.5 282.9,183.6 282.9,185.9 282.8,188.2 282.9,190.4 283.5,192.6 283.0,194.9 283.7,197.1 284.2,199.3 284.4,201.5 284.0,203.8 284.4,206.1 284.6,208.3 284.7,210.7 285.0,213.0 285.2,215.3 285.0,217.7 285.6,220.0 286.2,222.0 285.5,224.1 286.7,226.0 286.8,228.0 286.9,230.0 286.4,232.1 287.3,234.0 287.0,236.1 287.0,238.1 287.6,240.0 287.1,242.1 288.2,244.0 288.3,246.1 287.9,248.1 288.0,250.1 288.7,252.1 288.8,254.1 289.4,256.1 289.4,258.1 289.2,260.1 289.5,262.1 289.2,264.2 290.5,266.1 290.3,268.1 290.9,270.1 290.5,272.2 290.2,274.2 291.1,276.2 291.2,278.2 291.4,280.2 291.4,282.2 291.6,284.2 292.1,286.2 292.2,288.2 291.9,290.4 292.7,292.4 292.4,294.6 292.7,296.7 293.5,298.8 293.7,300.9 293.1,303.1 293.7,305.2 293.8,307.4 293.9,309.5 293.9,311.6 294.7,313.7 294.6,315.9 294.9,318.0 295.2,320.1 295.7,322.2 295.4,324.4 295.9,326.5 295.9,328.7 297.0,330.7 297.0,332.9 297.2,335.0 297.1,337.2 297.3,339.3 297.0,341.4 297.4,343.4 298.3,345.4 297.7,347.5 297.5,349.6 298.4,351.6 298.2,353.6 298.0,355.7 298.7,357.7 298.9,359.8 298.5,361.8 299.1,363.9 299.5,365.9 299.7,367.9 299.6,370.0 299.3,372.2 300.2,374.4 299.8,376.6 300.7,378.8 300.7,381.0 300.7,383.2 301.3,385.4 301.2,387.6 301.8,389.6 301.5,391.8 301.6,393.9 302.1,395.9 301.9,398.0 301.6,400.2 301.9,402.2 302.0,404.3 302.8,406.4 303.0,408.4 303.0,410.5 303.3,412.6 303.0,414.7 303.5,416.8 303.7,419.0 304.5,421.1 304.5,423.4 304.5,425.6 304.8,427.8 305.2,430.0 306.0,432.1 305.8,434.4 306.1,436.4 306.8,438.3 307.9,440.1 308.4,442.1 308.2,444.2 308.7,446.2 309.4,448.1 310.0,450.0 310.5,452.0 310.9,454.1 312.4,455.8 312.6,458.0 313.1,460.0 314.5,461.7 315.2,463.7 316.2,465.9 317.9,467.6 319.2,469.6 319.9,471.9 322.4,472.7 324.6,474.2 327.0,474.3 329.3,474.5 331.6,474.7 334.0,474.8 336.0,474.8 338.0,474.9 340.0,475.0 342.0,475.0 344.0,475.1 346.0,475.1 348.0,475.2 350.0,475.2 352.0,475.3 354.0,475.3 356.0,475.4 358.0,475.4 360.0,475.5" fill="none" stroke="#2e2e2e" stroke-width="1.6" stroke-linejoin="round"/>
</g>
<line x1="521.2" y1="175" x2="521.2" y2="462" stroke="#ff00ff" stroke-width="2.2"/>
<line x1="92" y1="38.8" x2="521.2" y2="38.8" stroke="#222" stroke-width="2"/>
<line x1="92" y1="37.8" x2="92" y2="476.5" stroke="#222" stroke-width="2"/>
<line x1="82.5" y1="475.5" x2="522.2" y2="475.5" stroke="#262626" stroke-width="2.3"/>
<line x1="521.2" y1="37.8" x2="521.2" y2="175" stroke="#222" stroke-width="2"/>
<line x1="521.2" y1="462" x2="521.2" y2="475.5" stroke="#222" stroke-width="2"/>
<line x1="82" y1="475.5" x2="92" y2="475.5" stroke="#222" stroke-width="2"/>
<line x1="87.5" y1="431.83" x2="92" y2="431.83" stroke="#222" stroke-width="2"/>
<line x1="82" y1="388.15999999999997" x2="92" y2="388.15999999999997" stroke="#222" stroke-width="2"/>
<line x1="87.5" y1="344.49" x2="92" y2="344.49" stroke="#222" stroke-width="2"/>
<line x1="82" y1="300.82" x2="92" y2="300.82" stroke="#222" stroke-width="2"/>
<line x1="87.5" y1="257.15" x2="92" y2="257.15" stroke="#222" stroke-width="2"/>
<line x1="82" y1="213.48000000000002" x2="92" y2="213.48000000000002" stroke="#222" stroke-width="2"/>
<line x1="87.5" y1="169.81" x2="92" y2="169.81" stroke="#222" stroke-width="2"/>
<line x1="82" y1="126.13999999999999" x2="92" y2="126.13999999999999" stroke="#222" stroke-width="2"/>
<line x1="87.5" y1="82.47000000000003" x2="92" y2="82.47000000000003" stroke="#222" stroke-width="2"/>
<line x1="82" y1="38.80000000000001" x2="92" y2="38.80000000000001" stroke="#222" stroke-width="2"/>
<line x1="109.09134606818958" y1="475.5" x2="109.09134606818958" y2="480.0" stroke="#222" stroke-width="1.8"/>
<line x1="146.93335763925552" y1="475.5" x2="146.93335763925552" y2="480.0" stroke="#222" stroke-width="1.8"/>
<line x1="173.78269213637915" y1="475.5" x2="173.78269213637915" y2="480.0" stroke="#222" stroke-width="1.8"/>
<line x1="194.60865393181044" y1="475.5" x2="194.60865393181044" y2="480.0" stroke="#222" stroke-width="1.8"/>
<line x1="211.62470370744506" y1="475.5" x2="211.62470370744506" y2="480.0" stroke="#222" stroke-width="1.8"/>
<line x1="226.0115687990638" y1="475.5" x2="226.0115687990638" y2="480.0" stroke="#222" stroke-width="1.8"/>
<line x1="238.47403820456873" y1="475.5" x2="238.47403820456873" y2="480.0" stroke="#222" stroke-width="1.8"/>
<line x1="249.4667152785109" y1="475.5" x2="249.4667152785109" y2="480.0" stroke="#222" stroke-width="1.8"/>
<line x1="259.3" y1="475.5" x2="259.3" y2="485.5" stroke="#222" stroke-width="1.8"/>
<line x1="323.9913460681896" y1="475.5" x2="323.9913460681896" y2="480.0" stroke="#222" stroke-width="1.8"/>
<line x1="361.8333576392555" y1="475.5" x2="361.8333576392555" y2="480.0" stroke="#222" stroke-width="1.8"/>
<line x1="388.68269213637916" y1="475.5" x2="388.68269213637916" y2="480.0" stroke="#222" stroke-width="1.8"/>
<line x1="409.50865393181044" y1="475.5" x2="409.50865393181044" y2="480.0" stroke="#222" stroke-width="1.8"/>
<line x1="426.52470370744504" y1="475.5" x2="426.52470370744504" y2="480.0" stroke="#222" stroke-width="1.8"/>
<line x1="440.91156879906384" y1="475.5" x2="440.91156879906384" y2="480.0" stroke="#222" stroke-width="1.8"/>
<line x1="453.3740382045687" y1="475.5" x2="453.3740382045687" y2="480.0" stroke="#222" stroke-width="1.8"/>
<line x1="464.3667152785109" y1="475.5" x2="464.3667152785109" y2="480.0" stroke="#222" stroke-width="1.8"/>
<line x1="474.20000000000005" y1="475.5" x2="474.20000000000005" y2="485.5" stroke="#222" stroke-width="1.8"/>
<text x="68.84" y="482.40" font-size="20.90" textLength="10.23" lengthAdjust="spacingAndGlyphs" fill="#1a1a1a" stroke="#1a1a1a" stroke-width="0.65">0</text>
<text x="58.63" y="395.06" font-size="20.90" textLength="20.46" lengthAdjust="spacingAndGlyphs" fill="#1a1a1a" stroke="#1a1a1a" stroke-width="0.65">20</text>
<text x="58.63" y="307.72" font-size="20.90" textLength="20.46" lengthAdjust="spacingAndGlyphs" fill="#1a1a1a" stroke="#1a1a1a" stroke-width="0.65">40</text>
<text x="58.63" y="220.38" font-size="20.90" textLength="20.46" lengthAdjust="spacingAndGlyphs" fill="#1a1a1a" stroke="#1a1a1a" stroke-width="0.65">60</text>
<text x="58.63" y="133.04" font-size="20.90" textLength="20.46" lengthAdjust="spacingAndGlyphs" fill="#1a1a1a" stroke="#1a1a1a" stroke-width="0.65">80</text>
<text x="48.42" y="45.70" font-size="20.90" textLength="30.69" lengthAdjust="spacingAndGlyphs" fill="#1a1a1a" stroke="#1a1a1a" stroke-width="0.65">100</text>
<text x="245.63" y="507.90" font-size="20.90" textLength="20.46" lengthAdjust="spacingAndGlyphs" fill="#1a1a1a" stroke="#1a1a1a" stroke-width="0.4">10</text>
<text x="266.46" y="500.60" font-size="12.90" textLength="6.10" lengthAdjust="spacingAndGlyphs" fill="#1a1a1a" stroke="#1a1a1a" stroke-width="0.3">3</text>
<text x="460.53" y="507.90" font-size="20.90" textLength="20.46" lengthAdjust="spacingAndGlyphs" fill="#1a1a1a" stroke="#1a1a1a" stroke-width="0.4">10</text>
<text x="481.58" y="500.60" font-size="12.90" textLength="6.10" lengthAdjust="spacingAndGlyphs" fill="#1a1a1a" stroke="#1a1a1a" stroke-width="0.3">4</text>
<text x="287.06" y="534.3" font-size="23.62" textLength="27.34" lengthAdjust="spacingAndGlyphs" fill="#111" stroke="#111" stroke-width="0.3">PE</text>
<text transform="rotate(-90)" x="-290.93" y="24.3" font-size="30.36" textLength="66.23" lengthAdjust="spacingAndGlyphs" fill="#222">%Max</text>
<text x="103.28" y="74.46" font-size="23.52" textLength="73.9" lengthAdjust="spacingAndGlyphs" fill="#cc00ff" stroke="#cc00ff" stroke-width="0.25">CD117</text>
<text x="420.5" y="71.97" font-size="22.82" textLength="83.91" lengthAdjust="spacingAndGlyphs" fill="#111" stroke="#111" stroke-width="0.7">MES-OV</text>
<text x="415.08" y="109.47" font-size="22.96" textLength="89.55" lengthAdjust="spacingAndGlyphs" fill="#111" stroke="#111" stroke-width="0.7">SK-OV-3</text>
<text x="429.89" y="146.7" font-size="22.32" textLength="75.44" lengthAdjust="spacingAndGlyphs" fill="#111" stroke="#111" stroke-width="0.7">Isotype</text>
<line x1="530" y1="38" x2="530" y2="161.6" stroke="#d4d4d4" stroke-width="1.5"/>
<line x1="532.8" y1="38" x2="566" y2="38" stroke="#c8c8c8" stroke-width="1.5"/>
<line x1="530" y1="161.2" x2="571" y2="161.2" stroke="#d4d4d4" stroke-width="1.5"/>
<rect x="534.2" y="43.6" width="30.5" height="31.6" fill="#fff" stroke="#ff00ff" stroke-width="2.8"/>
<rect x="534.2" y="82.3" width="30.5" height="34" fill="#ffd6ff" stroke="none" stroke-width="0"/>
<rect x="534.2" y="82.3" width="30.5" height="34" fill="none" stroke="#dd00dd" stroke-width="2.8"/>
<rect x="532.8" y="80.9" width="33.3" height="36.8" fill="url(#dotL1)"/>
<rect x="534.05" y="123.95" width="30.8" height="32.9" fill="#c0bfc4" stroke="#484848" stroke-width="2.3"/>
<text x="4.4" y="29.3" font-size="39.71" textLength="29.0" lengthAdjust="spacingAndGlyphs" fill="#000" font-weight="bold">A</text>
<g clip-path="url(#cA2)">
<polygon points="760.0,477.3 762.1,477.2 764.3,477.2 766.4,477.0 768.5,477.0 770.6,476.9 772.8,476.8 774.9,476.7 777.0,476.7 779.1,476.6 781.3,476.5 783.4,476.4 785.5,475.4 787.7,474.9 789.9,474.2 792.0,473.2 794.3,472.2 796.0,470.3 798.3,469.3 800.0,467.5 801.2,465.8 803.3,465.0 805.0,463.9 806.5,462.5 808.2,461.4 809.8,460.1 811.2,458.5 812.8,457.3 813.2,455.1 814.4,453.3 815.4,451.4 816.0,449.3 817.4,447.5 818.1,445.5 818.8,443.4 819.2,441.2 820.4,439.4 820.7,437.4 820.7,435.4 821.3,433.4 822.0,431.5 822.1,429.5 822.8,427.6 823.4,425.7 823.9,423.7 824.0,421.7 823.9,419.6 824.8,417.7 825.2,415.8 825.6,413.8 826.5,411.8 826.8,409.7 826.9,407.6 826.7,405.5 827.0,403.4 827.7,401.4 828.1,399.3 827.8,397.1 828.8,395.2 829.3,393.1 829.3,391.0 829.3,388.9 830.3,386.9 829.6,384.7 830.2,382.6 830.7,380.6 830.6,378.5 831.3,376.6 831.9,374.6 831.2,372.4 831.6,370.4 832.6,368.5 832.3,366.4 832.6,364.4 832.9,362.4 833.4,360.4 833.7,358.4 833.8,356.3 834.4,354.3 834.6,352.3 835.1,350.3 834.5,348.2 835.3,346.2 836.1,344.3 835.8,342.2 836.0,340.2 835.8,338.1 836.3,336.1 836.0,334.1 837.3,332.2 837.5,330.2 837.7,328.1 837.6,326.1 837.2,324.0 837.6,322.0 837.6,320.0 838.2,318.0 838.2,316.0 838.9,314.0 838.9,312.0 838.5,309.9 838.7,307.9 838.9,305.9 839.6,303.9 840.0,301.9 840.1,299.9 839.8,297.8 841.0,295.9 841.0,293.9 840.7,291.8 840.6,289.7 840.7,287.7 841.8,285.8 841.9,283.8 841.5,281.7 842.5,279.8 842.1,277.7 842.7,275.7 843.1,273.7 843.2,271.7 842.7,269.6 843.4,267.6 843.5,265.6 843.4,263.4 843.4,261.1 844.1,258.9 844.6,256.7 844.5,254.5 844.0,252.2 844.5,250.0 845.3,247.9 845.0,245.8 845.0,243.7 844.9,241.6 845.5,239.5 845.9,237.4 845.7,235.3 846.5,233.4 845.9,231.3 846.6,229.3 846.4,227.2 847.0,225.3 847.5,223.3 846.8,221.2 847.1,219.2 847.8,217.2 848.0,215.1 848.6,213.0 848.6,210.8 848.5,208.6 849.0,206.5 850.0,204.5 849.8,202.3 849.8,200.2 850.1,198.2 850.4,196.1 851.2,194.1 850.5,192.0 851.1,189.9 851.6,187.9 851.5,185.8 851.8,183.7 851.8,181.7 852.6,179.7 852.4,177.6 852.8,175.5 852.3,173.4 853.3,171.4 853.1,169.3 853.0,167.2 853.7,165.2 854.1,163.2 854.2,161.1 854.0,159.0 853.8,156.9 855.0,154.9 854.8,152.8 854.5,150.7 854.8,148.6 855.0,146.6 855.2,144.5 855.9,142.5 855.6,140.4 855.9,138.4 856.1,136.3 856.4,134.1 856.9,132.0 856.4,129.8 856.7,127.7 856.7,125.5 858.9,123.9 859.1,121.8 860.1,120.0 860.5,118.0 861.9,114.8 862.8,117.2 863.0,119.8 863.9,121.8 864.0,124.0 865.2,126.7 865.5,129.7 867.0,133.0 867.8,135.5 868.8,137.9 869.1,140.3 870.7,142.2 871.3,144.5 871.7,146.5 871.9,148.6 872.2,150.7 872.1,152.7 871.7,154.9 872.7,156.9 872.9,158.9 872.9,161.0 873.5,163.0 873.5,165.1 873.8,167.2 874.2,169.2 874.2,171.3 874.5,173.4 874.1,175.5 874.4,177.6 874.6,179.6 875.3,181.6 875.2,183.7 875.4,185.8 876.1,187.8 876.3,189.9 876.5,192.0 876.1,194.1 876.9,196.1 877.7,198.1 878.0,200.2 877.9,202.3 877.8,204.4 878.0,206.5 879.1,208.4 878.8,210.6 879.4,212.6 878.8,214.7 878.9,216.8 879.4,218.8 879.2,220.9 879.8,223.0 880.4,225.0 880.3,227.1 880.9,229.3 880.1,231.6 881.3,233.8 881.5,236.0 881.1,238.3 881.2,240.6 881.8,242.8 882.0,245.0 882.1,247.1 882.5,249.1 882.9,251.2 882.0,253.3 883.1,255.3 882.9,257.3 882.3,259.4 882.5,261.5 882.9,263.5 883.1,265.6 883.7,267.6 883.1,269.6 883.1,271.7 883.6,273.7 883.4,275.7 884.0,277.7 883.9,279.7 883.9,281.7 884.6,283.7 884.1,285.8 884.6,287.8 884.8,289.8 884.9,291.8 884.4,293.9 884.7,295.9 885.7,297.8 885.8,299.8 885.2,301.9 885.6,303.9 885.6,305.9 885.9,307.9 886.4,309.9 885.7,312.0 886.7,314.0 886.9,316.0 886.4,318.0 886.5,320.0 887.0,322.0 886.8,324.1 886.5,326.1 887.4,328.1 887.5,330.1 888.0,332.1 887.9,334.1 887.4,336.2 888.5,338.1 887.7,340.2 888.2,342.2 887.9,344.3 888.1,346.3 888.2,348.3 889.2,350.3 889.3,352.3 889.5,354.3 889.2,356.4 889.7,358.4 890.5,360.3 890.1,362.4 890.1,364.5 891.1,366.4 890.4,368.5 890.5,370.5 890.8,372.6 891.2,374.6 891.5,376.6 891.3,378.6 892.0,380.6 891.8,382.7 892.3,384.6 893.5,386.4 893.2,388.5 893.8,390.4 894.5,392.3 894.9,394.3 894.8,396.4 895.3,398.3 895.6,400.3 896.6,402.1 896.7,404.1 897.1,406.1 897.8,408.1 897.9,410.2 898.7,412.1 899.6,414.0 900.3,415.9 900.1,418.2 901.1,420.0 902.2,421.9 902.2,424.0 902.8,426.0 903.5,427.9 904.0,430.0 905.0,431.8 905.1,433.9 905.2,436.1 906.1,438.0 906.8,439.9 907.3,441.9 908.3,443.8 909.0,445.9 910.7,447.4 911.1,449.6 912.2,451.5 912.7,453.6 914.0,455.4 915.0,457.3 917.0,458.1 918.6,459.6 920.5,460.5 922.4,461.5 924.1,462.8 926.1,463.6 927.8,464.9 929.8,465.2 931.7,465.7 933.7,466.3 935.7,466.3 937.6,466.9 939.6,467.2 941.6,467.5 943.5,468.1 945.5,468.6 947.5,468.8 949.4,469.3 951.5,469.5 953.4,470.0 955.5,470.3 957.7,470.4 959.8,470.7 961.9,470.8 964.0,471.1 966.2,471.3 968.3,471.6 970.4,471.7 972.5,471.9 974.6,472.2 976.8,472.4 978.9,472.6 981.0,472.8 983.1,472.9 985.2,473.0 987.3,473.1 989.4,473.3 991.6,473.4 993.7,473.5 995.8,473.6 997.9,473.8 1000.0,473.9 1002.0,473.9 1004.0,473.9 1006.0,473.9 1008.0,473.9 1010.0,473.8 1012.0,473.8 1014.0,473.8 1016.0,473.8 1018.0,473.8 1020.0,473.8 1022.0,473.8 1024.0,473.8 1026.0,473.8 1028.0,473.8 1030.0,473.8 1032.0,473.7 1034.0,473.7 1036.0,473.7 1038.0,473.7 1040.0,473.7 1042.0,473.7 1044.0,473.7 1046.0,473.8 1048.0,473.9 1050.0,473.9 1052.0,473.9 1054.0,474.0 1056.0,474.1 1058.0,474.1 1060.0,474.1 1062.0,474.2 1064.0,474.2 1066.0,474.3 1068.0,474.4 1070.0,474.4 1072.0,474.4 1074.0,474.5 1076.0,474.5 1078.0,474.6 1080.0,474.6 1082.0,474.7 1084.0,474.8 1086.0,474.8 1088.0,474.8 1090.0,474.9 1092.0,475.0 1094.0,475.0 1096.0,475.1 1098.0,475.1 1100.0,475.2 1102.0,475.2 1104.0,475.2 1106.0,475.3 1108.0,475.4 1110.0,475.4 1112.2,475.5 1114.3,475.7 1116.5,475.8 1118.6,476.0 1118.6,477.3" fill="#c3c2c7" stroke="none" stroke-width="0" stroke-linejoin="round"/>
<polygon points="689.6,477.3 691.6,477.3 693.6,477.3 695.6,477.3 697.6,477.3 699.7,477.3 701.7,477.3 703.7,477.3 705.7,477.3 707.7,477.3 709.7,477.3 711.7,477.3 713.7,477.3 715.7,477.3 717.8,477.3 719.8,477.3 721.8,477.3 723.8,477.3 725.8,477.4 727.8,477.4 729.8,477.4 731.8,477.4 733.9,477.4 735.9,477.4 737.9,477.4 739.9,477.4 741.9,477.4 743.9,477.4 745.9,477.4 747.9,477.4 749.9,477.4 752.0,477.4 754.0,477.4 756.0,477.4 758.0,477.4 760.0,477.4 762.0,477.2 764.0,477.1 766.0,476.9 768.0,476.7 770.0,476.5 772.0,476.4 774.0,476.2 776.0,476.0 778.0,475.9 780.0,475.6 782.0,475.5 784.0,475.3 786.0,475.1 788.0,475.0 790.0,474.8 792.0,474.6 794.0,474.4 796.0,474.2 798.0,474.0 800.0,473.9 802.1,473.5 804.3,473.2 806.4,472.8 808.6,472.7 810.7,472.4 812.8,471.9 814.9,471.6 817.1,471.3 819.2,470.9 821.3,470.7 823.5,470.4 825.6,470.0 827.5,469.3 829.3,468.4 831.4,468.2 833.2,467.3 835.1,466.8 837.1,466.2 839.1,465.8 840.9,464.9 842.3,463.4 844.0,462.2 845.4,460.8 847.5,460.0 849.3,459.0 850.3,457.0 852.4,456.4 853.7,454.7 854.3,452.6 855.8,451.0 856.4,448.9 857.5,447.0 858.3,445.1 859.9,443.5 860.6,441.4 861.3,439.4 862.3,437.5 862.5,435.3 862.9,433.3 862.9,431.1 863.5,429.1 864.3,427.1 865.4,425.2 864.9,422.9 865.8,420.9 866.5,418.9 867.6,417.0 867.4,414.8 868.3,412.9 869.0,410.9 869.0,408.7 869.6,406.7 869.8,404.6 870.6,402.6 870.7,400.4 871.6,398.5 872.2,396.5 872.5,394.5 872.9,392.4 874.4,390.7 874.0,388.4 874.8,386.5 875.6,384.6 875.6,382.4 876.7,380.6 877.2,378.5 876.9,376.3 877.2,374.1 878.4,372.1 878.0,369.9 878.9,367.9 879.4,365.7 879.0,363.5 879.8,361.4 880.2,359.3 880.5,357.2 880.5,355.0 881.0,352.9 881.3,350.8 881.9,348.7 882.2,346.6 882.2,344.4 882.6,342.3 882.3,340.1 883.3,338.0 882.9,335.8 883.4,333.7 883.9,331.6 884.3,329.5 885.2,327.4 884.9,325.2 885.3,323.1 885.8,321.0 886.0,318.8 886.3,316.7 887.0,314.6 887.3,312.5 887.2,310.3 887.2,308.1 888.0,306.1 888.2,303.9 888.1,301.9 888.6,299.9 889.1,297.9 888.9,295.8 889.4,293.8 889.3,291.8 889.3,289.8 889.6,287.8 890.4,285.8 890.6,283.8 890.9,281.8 890.5,279.7 890.2,277.6 891.2,275.7 890.7,273.6 891.4,271.6 891.9,269.7 891.6,267.6 892.0,265.6 892.5,263.4 892.6,261.1 892.5,258.8 892.8,256.6 894.1,254.5 894.0,252.2 894.4,250.0 894.7,247.9 895.2,245.9 894.9,243.7 895.2,241.7 896.1,239.7 895.5,237.5 895.5,235.4 896.3,233.4 896.8,231.3 896.2,229.1 896.9,227.1 897.1,225.0 897.6,223.0 898.2,220.9 897.7,218.7 898.1,216.7 898.7,214.6 899.4,212.6 899.3,210.5 900.0,208.5 899.6,206.4 900.4,204.4 900.0,202.2 899.9,200.1 901.0,198.2 900.5,196.0 901.0,194.0 901.1,191.9 901.1,189.9 901.2,187.8 901.8,185.8 902.2,183.7 902.3,181.6 902.0,179.6 902.3,177.5 902.1,175.4 902.5,173.4 903.3,171.3 903.3,169.3 903.5,167.2 902.8,165.1 903.3,163.1 903.5,161.0 904.1,159.0 903.4,156.8 904.6,154.9 903.9,152.7 904.9,150.7 904.6,148.6 904.9,146.6 905.1,144.5 905.4,142.5 905.7,140.4 906.5,138.5 906.8,136.5 907.6,134.6 909.2,133.8 912.5,134.6 915.8,136.3 916.1,134.0 917.2,132.0 917.5,129.7 918.6,127.9 920.0,126.4 921.6,128.0 922.3,130.0 922.8,132.1 923.2,134.2 923.3,136.3 923.8,138.3 923.3,140.5 923.4,142.5 924.3,144.5 924.6,146.6 925.1,148.6 924.8,150.7 924.9,152.8 925.2,154.9 925.2,156.9 926.0,158.9 926.2,161.0 925.5,163.2 925.8,165.2 926.2,167.3 926.6,169.3 927.3,171.3 926.8,173.4 926.9,175.5 927.5,177.5 927.7,179.6 928.4,181.6 928.2,183.7 928.2,185.8 928.4,187.9 928.0,190.0 928.9,192.0 928.9,194.1 928.8,196.2 929.5,198.2 930.2,200.2 929.9,202.3 929.8,204.4 930.3,206.4 930.0,208.6 930.8,210.6 931.4,212.6 930.7,214.7 931.5,216.7 931.2,218.9 931.3,220.9 931.7,223.0 932.4,225.0 932.3,227.1 932.5,229.3 932.8,231.6 932.2,233.8 932.9,236.0 933.3,238.3 932.3,240.5 932.8,242.8 933.0,245.0 932.9,247.1 933.1,249.2 933.4,251.2 933.1,253.3 933.6,255.4 932.9,257.5 933.6,259.6 933.2,261.7 933.2,263.7 934.3,265.8 933.4,267.9 934.2,270.0 933.6,272.1 933.8,274.1 934.3,276.2 934.2,278.3 934.7,280.3 935.0,282.4 934.8,284.4 934.5,286.5 935.6,288.5 934.9,290.6 935.0,292.7 935.3,294.7 936.4,296.7 936.6,298.7 936.6,300.8 936.1,302.9 937.4,304.9 937.2,307.0 937.8,309.0 937.6,311.1 937.4,313.1 938.0,315.2 937.9,317.2 938.8,319.2 938.2,321.3 939.0,323.3 938.8,325.4 939.6,327.4 939.3,329.5 939.2,331.6 939.5,333.6 939.7,335.6 939.8,337.6 940.8,339.5 941.1,341.5 941.3,343.6 941.2,345.6 941.3,347.6 941.6,349.6 942.0,351.6 941.7,353.7 941.8,355.7 942.3,357.7 942.5,359.7 942.1,361.8 942.2,363.8 943.1,365.8 943.1,367.8 943.4,369.9 943.7,372.1 944.1,374.2 944.9,376.3 945.1,378.4 945.1,380.6 945.3,382.7 946.3,384.8 946.4,386.9 946.0,389.2 946.3,391.3 947.0,393.4 947.9,395.3 947.5,397.6 948.2,399.6 948.5,401.7 949.0,403.7 950.4,405.6 950.4,407.7 950.6,409.8 951.5,411.8 952.1,413.8 953.3,415.8 953.6,418.1 955.0,420.0 956.2,422.0 957.2,424.0 958.6,425.5 959.3,427.4 960.5,429.1 961.9,430.5 962.7,432.4 963.6,434.2 964.2,436.3 966.1,437.7 966.6,439.8 968.4,441.2 968.9,443.4 969.8,445.4 971.2,447.0 973.0,448.3 974.1,450.3 976.2,451.3 977.3,453.2 978.9,454.7 981.0,455.5 983.0,456.7 985.1,457.6 987.0,458.9 989.1,459.8 990.9,458.7 993.0,458.2 994.8,457.2 997.0,456.8 998.8,455.8 1000.8,456.4 1002.7,457.2 1004.6,458.1 1006.4,459.1 1008.2,460.1 1010.2,460.1 1012.3,460.1 1014.3,460.1 1016.4,460.1 1018.4,460.1 1020.6,460.9 1022.5,462.1 1024.6,463.0 1026.7,463.9 1028.6,465.2 1030.8,465.8 1033.2,465.9 1035.4,466.5 1037.6,467.0 1040.0,467.1 1042.2,467.7 1044.5,467.8 1046.8,468.1 1049.1,468.1 1051.3,468.3 1053.6,468.4 1055.9,468.6 1058.2,469.0 1060.4,469.5 1062.7,469.8 1064.9,470.4 1067.2,470.9 1069.5,471.2 1071.6,470.9 1073.7,470.5 1075.9,470.1 1078.0,470.0 1080.1,469.7 1082.3,469.3 1084.4,469.0 1086.5,468.6 1088.6,468.7 1090.8,469.0 1092.9,469.3 1095.1,469.4 1097.2,469.7 1099.3,469.9 1101.5,470.1 1103.6,470.3 1105.7,470.6 1107.6,471.3 1109.6,471.8 1111.5,472.8 1113.5,473.0 1115.5,473.7 1118.6,473.7 1118.6,477.3" fill="rgba(0,255,0,0.135)" stroke="none" stroke-width="0" stroke-linejoin="round"/>
<polygon points="689.6,477.3 691.6,477.3 693.6,477.3 695.6,477.3 697.6,477.3 699.7,477.3 701.7,477.3 703.7,477.3 705.7,477.3 707.7,477.3 709.7,477.3 711.7,477.3 713.7,477.3 715.7,477.3 717.8,477.3 719.8,477.3 721.8,477.3 723.8,477.3 725.8,477.4 727.8,477.4 729.8,477.4 731.8,477.4 733.9,477.4 735.9,477.4 737.9,477.4 739.9,477.4 741.9,477.4 743.9,477.4 745.9,477.4 747.9,477.4 749.9,477.4 752.0,477.4 754.0,477.4 756.0,477.4 758.0,477.4 760.0,477.4 762.0,477.2 764.0,477.1 766.0,476.9 768.0,476.7 770.0,476.5 772.0,476.4 774.0,476.2 776.0,476.0 778.0,475.9 780.0,475.6 782.0,475.5 784.0,475.3 786.0,475.1 788.0,475.0 790.0,474.8 792.0,474.6 794.0,474.4 796.0,474.2 798.0,474.0 800.0,473.9 802.1,473.5 804.3,473.2 806.4,472.8 808.6,472.7 810.7,472.4 812.8,471.9 814.9,471.6 817.1,471.3 819.2,470.9 821.3,470.7 823.5,470.4 825.6,470.0 827.5,469.3 829.3,468.4 831.4,468.2 833.2,467.3 835.1,466.8 837.1,466.2 839.1,465.8 840.9,464.9 842.3,463.4 844.0,462.2 845.4,460.8 847.5,460.0 849.3,459.0 850.3,457.0 852.4,456.4 853.7,454.7 854.3,452.6 855.8,451.0 856.4,448.9 857.5,447.0 858.3,445.1 859.9,443.5 860.6,441.4 861.3,439.4 862.3,437.5 862.5,435.3 862.9,433.3 862.9,431.1 863.5,429.1 864.3,427.1 865.4,425.2 864.9,422.9 865.8,420.9 866.5,418.9 867.6,417.0 867.4,414.8 868.3,412.9 869.0,410.9 869.0,408.7 869.6,406.7 869.8,404.6 870.6,402.6 870.7,400.4 871.6,398.5 872.2,396.5 872.5,394.5 872.9,392.4 874.4,390.7 874.0,388.4 874.8,386.5 875.6,384.6 875.6,382.4 876.7,380.6 877.2,378.5 876.9,376.3 877.2,374.1 878.4,372.1 878.0,369.9 878.9,367.9 879.4,365.7 879.0,363.5 879.8,361.4 880.2,359.3 880.5,357.2 880.5,355.0 881.0,352.9 881.3,350.8 881.9,348.7 882.2,346.6 882.2,344.4 882.6,342.3 882.3,340.1 883.3,338.0 882.9,335.8 883.4,333.7 883.9,331.6 884.3,329.5 885.2,327.4 884.9,325.2 885.3,323.1 885.8,321.0 886.0,318.8 886.3,316.7 887.0,314.6 887.3,312.5 887.2,310.3 887.2,308.1 888.0,306.1 888.2,303.9 888.1,301.9 888.6,299.9 889.1,297.9 888.9,295.8 889.4,293.8 889.3,291.8 889.3,289.8 889.6,287.8 890.4,285.8 890.6,283.8 890.9,281.8 890.5,279.7 890.2,277.6 891.2,275.7 890.7,273.6 891.4,271.6 891.9,269.7 891.6,267.6 892.0,265.6 892.5,263.4 892.6,261.1 892.5,258.8 892.8,256.6 894.1,254.5 894.0,252.2 894.4,250.0 894.7,247.9 895.2,245.9 894.9,243.7 895.2,241.7 896.1,239.7 895.5,237.5 895.5,235.4 896.3,233.4 896.8,231.3 896.2,229.1 896.9,227.1 897.1,225.0 897.6,223.0 898.2,220.9 897.7,218.7 898.1,216.7 898.7,214.6 899.4,212.6 899.3,210.5 900.0,208.5 899.6,206.4 900.4,204.4 900.0,202.2 899.9,200.1 901.0,198.2 900.5,196.0 901.0,194.0 901.1,191.9 901.1,189.9 901.2,187.8 901.8,185.8 902.2,183.7 902.3,181.6 902.0,179.6 902.3,177.5 902.1,175.4 902.5,173.4 903.3,171.3 903.3,169.3 903.5,167.2 902.8,165.1 903.3,163.1 903.5,161.0 904.1,159.0 903.4,156.8 904.6,154.9 903.9,152.7 904.9,150.7 904.6,148.6 904.9,146.6 905.1,144.5 905.4,142.5 905.7,140.4 906.5,138.5 906.8,136.5 907.6,134.6 909.2,133.8 912.5,134.6 915.8,136.3 916.1,134.0 917.2,132.0 917.5,129.7 918.6,127.9 920.0,126.4 921.6,128.0 922.3,130.0 922.8,132.1 923.2,134.2 923.3,136.3 923.8,138.3 923.3,140.5 923.4,142.5 924.3,144.5 924.6,146.6 925.1,148.6 924.8,150.7 924.9,152.8 925.2,154.9 925.2,156.9 926.0,158.9 926.2,161.0 925.5,163.2 925.8,165.2 926.2,167.3 926.6,169.3 927.3,171.3 926.8,173.4 926.9,175.5 927.5,177.5 927.7,179.6 928.4,181.6 928.2,183.7 928.2,185.8 928.4,187.9 928.0,190.0 928.9,192.0 928.9,194.1 928.8,196.2 929.5,198.2 930.2,200.2 929.9,202.3 929.8,204.4 930.3,206.4 930.0,208.6 930.8,210.6 931.4,212.6 930.7,214.7 931.5,216.7 931.2,218.9 931.3,220.9 931.7,223.0 932.4,225.0 932.3,227.1 932.5,229.3 932.8,231.6 932.2,233.8 932.9,236.0 933.3,238.3 932.3,240.5 932.8,242.8 933.0,245.0 932.9,247.1 933.1,249.2 933.4,251.2 933.1,253.3 933.6,255.4 932.9,257.5 933.6,259.6 933.2,261.7 933.2,263.7 934.3,265.8 933.4,267.9 934.2,270.0 933.6,272.1 933.8,274.1 934.3,276.2 934.2,278.3 934.7,280.3 935.0,282.4 934.8,284.4 934.5,286.5 935.6,288.5 934.9,290.6 935.0,292.7 935.3,294.7 936.4,296.7 936.6,298.7 936.6,300.8 936.1,302.9 937.4,304.9 937.2,307.0 937.8,309.0 937.6,311.1 937.4,313.1 938.0,315.2 937.9,317.2 938.8,319.2 938.2,321.3 939.0,323.3 938.8,325.4 939.6,327.4 939.3,329.5 939.2,331.6 939.5,333.6 939.7,335.6 939.8,337.6 940.8,339.5 941.1,341.5 941.3,343.6 941.2,345.6 941.3,347.6 941.6,349.6 942.0,351.6 941.7,353.7 941.8,355.7 942.3,357.7 942.5,359.7 942.1,361.8 942.2,363.8 943.1,365.8 943.1,367.8 943.4,369.9 943.7,372.1 944.1,374.2 944.9,376.3 945.1,378.4 945.1,380.6 945.3,382.7 946.3,384.8 946.4,386.9 946.0,389.2 946.3,391.3 947.0,393.4 947.9,395.3 947.5,397.6 948.2,399.6 948.5,401.7 949.0,403.7 950.4,405.6 950.4,407.7 950.6,409.8 951.5,411.8 952.1,413.8 953.3,415.8 953.6,418.1 955.0,420.0 956.2,422.0 957.2,424.0 958.6,425.5 959.3,427.4 960.5,429.1 961.9,430.5 962.7,432.4 963.6,434.2 964.2,436.3 966.1,437.7 966.6,439.8 968.4,441.2 968.9,443.4 969.8,445.4 971.2,447.0 973.0,448.3 974.1,450.3 976.2,451.3 977.3,453.2 978.9,454.7 981.0,455.5 983.0,456.7 985.1,457.6 987.0,458.9 989.1,459.8 990.9,458.7 993.0,458.2 994.8,457.2 997.0,456.8 998.8,455.8 1000.8,456.4 1002.7,457.2 1004.6,458.1 1006.4,459.1 1008.2,460.1 1010.2,460.1 1012.3,460.1 1014.3,460.1 1016.4,460.1 1018.4,460.1 1020.6,460.9 1022.5,462.1 1024.6,463.0 1026.7,463.9 1028.6,465.2 1030.8,465.8 1033.2,465.9 1035.4,466.5 1037.6,467.0 1040.0,467.1 1042.2,467.7 1044.5,467.8 1046.8,468.1 1049.1,468.1 1051.3,468.3 1053.6,468.4 1055.9,468.6 1058.2,469.0 1060.4,469.5 1062.7,469.8 1064.9,470.4 1067.2,470.9 1069.5,471.2 1071.6,470.9 1073.7,470.5 1075.9,470.1 1078.0,470.0 1080.1,469.7 1082.3,469.3 1084.4,469.0 1086.5,468.6 1088.6,468.7 1090.8,469.0 1092.9,469.3 1095.1,469.4 1097.2,469.7 1099.3,469.9 1101.5,470.1 1103.6,470.3 1105.7,470.6 1107.6,471.3 1109.6,471.8 1111.5,472.8 1113.5,473.0 1115.5,473.7 1118.6,473.7 1118.6,477.3" fill="url(#dotA2)" stroke="none" stroke-width="0" stroke-linejoin="round"/>
<polyline points="760.0,477.3 762.1,477.2 764.3,477.2 766.4,477.0 768.5,477.0 770.6,476.9 772.8,476.8 774.9,476.7 777.0,476.7 779.1,476.6 781.3,476.5 783.4,476.4 785.5,475.4 787.7,474.9 789.9,474.2 792.0,473.2 794.3,472.2 796.0,470.3 798.3,469.3 800.0,467.5 801.2,465.8 803.3,465.0 805.0,463.9 806.5,462.5 808.2,461.4 809.8,460.1 811.2,458.5 812.8,457.3 813.2,455.1 814.4,453.3 815.4,451.4 816.0,449.3 817.4,447.5 818.1,445.5 818.8,443.4 819.2,441.2 820.4,439.4 820.7,437.4 820.7,435.4 821.3,433.4 822.0,431.5 822.1,429.5 822.8,427.6 823.4,425.7 823.9,423.7 824.0,421.7 823.9,419.6 824.8,417.7 825.2,415.8 825.6,413.8 826.5,411.8 826.8,409.7 826.9,407.6 826.7,405.5 827.0,403.4 827.7,401.4 828.1,399.3 827.8,397.1 828.8,395.2 829.3,393.1 829.3,391.0 829.3,388.9 830.3,386.9 829.6,384.7 830.2,382.6 830.7,380.6 830.6,378.5 831.3,376.6 831.9,374.6 831.2,372.4 831.6,370.4 832.6,368.5 832.3,366.4 832.6,364.4 832.9,362.4 833.4,360.4 833.7,358.4 833.8,356.3 834.4,354.3 834.6,352.3 835.1,350.3 834.5,348.2 835.3,346.2 836.1,344.3 835.8,342.2 836.0,340.2 835.8,338.1 836.3,336.1 836.0,334.1 837.3,332.2 837.5,330.2 837.7,328.1 837.6,326.1 837.2,324.0 837.6,322.0 837.6,320.0 838.2,318.0 838.2,316.0 838.9,314.0 838.9,312.0 838.5,309.9 838.7,307.9 838.9,305.9 839.6,303.9 840.0,301.9 840.1,299.9 839.8,297.8 841.0,295.9 841.0,293.9 840.7,291.8 840.6,289.7 840.7,287.7 841.8,285.8 841.9,283.8 841.5,281.7 842.5,279.8 842.1,277.7 842.7,275.7 843.1,273.7 843.2,271.7 842.7,269.6 843.4,267.6 843.5,265.6 843.4,263.4 843.4,261.1 844.1,258.9 844.6,256.7 844.5,254.5 844.0,252.2 844.5,250.0 845.3,247.9 845.0,245.8 845.0,243.7 844.9,241.6 845.5,239.5 845.9,237.4 845.7,235.3 846.5,233.4 845.9,231.3 846.6,229.3 846.4,227.2 847.0,225.3 847.5,223.3 846.8,221.2 847.1,219.2 847.8,217.2 848.0,215.1 848.6,213.0 848.6,210.8 848.5,208.6 849.0,206.5 850.0,204.5 849.8,202.3 849.8,200.2 850.1,198.2 850.4,196.1 851.2,194.1 850.5,192.0 851.1,189.9 851.6,187.9 851.5,185.8 851.8,183.7 851.8,181.7 852.6,179.7 852.4,177.6 852.8,175.5 852.3,173.4 853.3,171.4 853.1,169.3 853.0,167.2 853.7,165.2 854.1,163.2 854.2,161.1 854.0,159.0 853.8,156.9 855.0,154.9 854.8,152.8 854.5,150.7 854.8,148.6 855.0,146.6 855.2,144.5 855.9,142.5 855.6,140.4 855.9,138.4 856.1,136.3 856.4,134.1 856.9,132.0 856.4,129.8 856.7,127.7 856.7,125.5 858.9,123.9 859.1,121.8 860.1,120.0 860.5,118.0 861.9,114.8 862.8,117.2 863.0,119.8 863.9,121.8 864.0,124.0 865.2,126.7 865.5,129.7 867.0,133.0 867.8,135.5 868.8,137.9 869.1,140.3 870.7,142.2 871.3,144.5 871.7,146.5 871.9,148.6 872.2,150.7 872.1,152.7 871.7,154.9 872.7,156.9 872.9,158.9 872.9,161.0 873.5,163.0 873.5,165.1 873.8,167.2 874.2,169.2 874.2,171.3 874.5,173.4 874.1,175.5 874.4,177.6 874.6,179.6 875.3,181.6 875.2,183.7 875.4,185.8 876.1,187.8 876.3,189.9 876.5,192.0 876.1,194.1 876.9,196.1 877.7,198.1 878.0,200.2 877.9,202.3 877.8,204.4 878.0,206.5 879.1,208.4 878.8,210.6 879.4,212.6 878.8,214.7 878.9,216.8 879.4,218.8 879.2,220.9 879.8,223.0 880.4,225.0 880.3,227.1 880.9,229.3 880.1,231.6 881.3,233.8 881.5,236.0 881.1,238.3 881.2,240.6 881.8,242.8 882.0,245.0 882.1,247.1 882.5,249.1 882.9,251.2 882.0,253.3 883.1,255.3 882.9,257.3 882.3,259.4 882.5,261.5 882.9,263.5 883.1,265.6 883.7,267.6 883.1,269.6 883.1,271.7 883.6,273.7 883.4,275.7 884.0,277.7 883.9,279.7 883.9,281.7 884.6,283.7 884.1,285.8 884.6,287.8 884.8,289.8 884.9,291.8 884.4,293.9 884.7,295.9 885.7,297.8 885.8,299.8 885.2,301.9 885.6,303.9 885.6,305.9 885.9,307.9 886.4,309.9 885.7,312.0 886.7,314.0 886.9,316.0 886.4,318.0 886.5,320.0 887.0,322.0 886.8,324.1 886.5,326.1 887.4,328.1 887.5,330.1 888.0,332.1 887.9,334.1 887.4,336.2 888.5,338.1 887.7,340.2 888.2,342.2 887.9,344.3 888.1,346.3 888.2,348.3 889.2,350.3 889.3,352.3 889.5,354.3 889.2,356.4 889.7,358.4 890.5,360.3 890.1,362.4 890.1,364.5 891.1,366.4 890.4,368.5 890.5,370.5 890.8,372.6 891.2,374.6 891.5,376.6 891.3,378.6 892.0,380.6 891.8,382.7 892.3,384.6 893.5,386.4 893.2,388.5 893.8,390.4 894.5,392.3 894.9,394.3 894.8,396.4 895.3,398.3 895.6,400.3 896.6,402.1 896.7,404.1 897.1,406.1 897.8,408.1 897.9,410.2 898.7,412.1 899.6,414.0 900.3,415.9 900.1,418.2 901.1,420.0 902.2,421.9 902.2,424.0 902.8,426.0 903.5,427.9 904.0,430.0 905.0,431.8 905.1,433.9 905.2,436.1 906.1,438.0 906.8,439.9 907.3,441.9 908.3,443.8 909.0,445.9 910.7,447.4 911.1,449.6 912.2,451.5 912.7,453.6 914.0,455.4 915.0,457.3 917.0,458.1 918.6,459.6 920.5,460.5 922.4,461.5 924.1,462.8 926.1,463.6 927.8,464.9 929.8,465.2 931.7,465.7 933.7,466.3 935.7,466.3 937.6,466.9 939.6,467.2 941.6,467.5 943.5,468.1 945.5,468.6 947.5,468.8 949.4,469.3 951.5,469.5 953.4,470.0 955.5,470.3 957.7,470.4 959.8,470.7 961.9,470.8 964.0,471.1 966.2,471.3 968.3,471.6 970.4,471.7 972.5,471.9 974.6,472.2 976.8,472.4 978.9,472.6 981.0,472.8 983.1,472.9 985.2,473.0 987.3,473.1 989.4,473.3 991.6,473.4 993.7,473.5 995.8,473.6 997.9,473.8 1000.0,473.9 1002.0,473.9 1004.0,473.9 1006.0,473.9 1008.0,473.9 1010.0,473.8 1012.0,473.8 1014.0,473.8 1016.0,473.8 1018.0,473.8 1020.0,473.8 1022.0,473.8 1024.0,473.8 1026.0,473.8 1028.0,473.8 1030.0,473.8 1032.0,473.7 1034.0,473.7 1036.0,473.7 1038.0,473.7 1040.0,473.7 1042.0,473.7 1044.0,473.7 1046.0,473.8 1048.0,473.9 1050.0,473.9 1052.0,473.9 1054.0,474.0 1056.0,474.1 1058.0,474.1 1060.0,474.1 1062.0,474.2 1064.0,474.2 1066.0,474.3 1068.0,474.4 1070.0,474.4 1072.0,474.4 1074.0,474.5 1076.0,474.5 1078.0,474.6 1080.0,474.6 1082.0,474.7 1084.0,474.8 1086.0,474.8 1088.0,474.8 1090.0,474.9 1092.0,475.0 1094.0,475.0 1096.0,475.1 1098.0,475.1 1100.0,475.2 1102.0,475.2 1104.0,475.2 1106.0,475.3 1108.0,475.4 1110.0,475.4 1112.2,475.5 1114.3,475.7 1116.5,475.8" fill="none" stroke="#3c3c3c" stroke-width="1.4" stroke-linejoin="round"/>
<polyline points="689.6,477.3 691.6,477.3 693.6,477.3 695.6,477.3 697.6,477.3 699.7,477.3 701.7,477.3 703.7,477.3 705.7,477.3 707.7,477.3 709.7,477.3 711.7,477.3 713.7,477.3 715.7,477.3 717.8,477.3 719.8,477.3 721.8,477.3 723.8,477.3 725.8,477.4 727.8,477.4 729.8,477.4 731.8,477.4 733.9,477.4 735.9,477.4 737.9,477.4 739.9,477.4 741.9,477.4 743.9,477.4 745.9,477.4 747.9,477.4 749.9,477.4 752.0,477.4 754.0,477.4 756.0,477.4 758.0,477.4 760.0,477.4 762.0,477.2 764.0,477.1 766.0,476.9 768.0,476.7 770.0,476.5 772.0,476.4 774.0,476.2 776.0,476.0 778.0,475.9 780.0,475.6 782.0,475.5 784.0,475.3 786.0,475.1 788.0,475.0 790.0,474.8 792.0,474.6 794.0,474.4 796.0,474.2 798.0,474.0 800.0,473.9 802.1,473.5 804.3,473.2 806.4,472.8 808.6,472.7 810.7,472.4 812.8,471.9 814.9,471.6 817.1,471.3 819.2,470.9 821.3,470.7 823.5,470.4 825.6,470.0 827.5,469.3 829.3,468.4 831.4,468.2 833.2,467.3 835.1,466.8 837.1,466.2 839.1,465.8 840.9,464.9 842.3,463.4 844.0,462.2 845.4,460.8 847.5,460.0 849.3,459.0 850.3,457.0 852.4,456.4 853.7,454.7 854.3,452.6 855.8,451.0 856.4,448.9 857.5,447.0 858.3,445.1 859.9,443.5 860.6,441.4 861.3,439.4 862.3,437.5 862.5,435.3 862.9,433.3 862.9,431.1 863.5,429.1 864.3,427.1 865.4,425.2 864.9,422.9 865.8,420.9 866.5,418.9 867.6,417.0 867.4,414.8 868.3,412.9 869.0,410.9 869.0,408.7 869.6,406.7 869.8,404.6 870.6,402.6 870.7,400.4 871.6,398.5 872.2,396.5 872.5,394.5 872.9,392.4 874.4,390.7 874.0,388.4 874.8,386.5 875.6,384.6 875.6,382.4 876.7,380.6 877.2,378.5 876.9,376.3 877.2,374.1 878.4,372.1 878.0,369.9 878.9,367.9 879.4,365.7 879.0,363.5 879.8,361.4 880.2,359.3 880.5,357.2 880.5,355.0 881.0,352.9 881.3,350.8 881.9,348.7 882.2,346.6 882.2,344.4 882.6,342.3 882.3,340.1 883.3,338.0 882.9,335.8 883.4,333.7 883.9,331.6 884.3,329.5 885.2,327.4 884.9,325.2 885.3,323.1 885.8,321.0 886.0,318.8 886.3,316.7 887.0,314.6 887.3,312.5 887.2,310.3 887.2,308.1 888.0,306.1 888.2,303.9 888.1,301.9 888.6,299.9 889.1,297.9 888.9,295.8 889.4,293.8 889.3,291.8 889.3,289.8 889.6,287.8 890.4,285.8 890.6,283.8 890.9,281.8 890.5,279.7 890.2,277.6 891.2,275.7 890.7,273.6 891.4,271.6 891.9,269.7 891.6,267.6 892.0,265.6 892.5,263.4 892.6,261.1 892.5,258.8 892.8,256.6 894.1,254.5 894.0,252.2 894.4,250.0 894.7,247.9 895.2,245.9 894.9,243.7 895.2,241.7 896.1,239.7 895.5,237.5 895.5,235.4 896.3,233.4 896.8,231.3 896.2,229.1 896.9,227.1 897.1,225.0 897.6,223.0 898.2,220.9 897.7,218.7 898.1,216.7 898.7,214.6 899.4,212.6 899.3,210.5 900.0,208.5 899.6,206.4 900.4,204.4 900.0,202.2 899.9,200.1 901.0,198.2 900.5,196.0 901.0,194.0 901.1,191.9 901.1,189.9 901.2,187.8 901.8,185.8 902.2,183.7 902.3,181.6 902.0,179.6 902.3,177.5 902.1,175.4 902.5,173.4 903.3,171.3 903.3,169.3 903.5,167.2 902.8,165.1 903.3,163.1 903.5,161.0 904.1,159.0 903.4,156.8 904.6,154.9 903.9,152.7 904.9,150.7 904.6,148.6 904.9,146.6 905.1,144.5 905.4,142.5 905.7,140.4 906.5,138.5 906.8,136.5 907.6,134.6 909.2,133.8 912.5,134.6 915.8,136.3 916.1,134.0 917.2,132.0 917.5,129.7 918.6,127.9 920.0,126.4 921.6,128.0 922.3,130.0 922.8,132.1 923.2,134.2 923.3,136.3 923.8,138.3 923.3,140.5 923.4,142.5 924.3,144.5 924.6,146.6 925.1,148.6 924.8,150.7 924.9,152.8 925.2,154.9 925.2,156.9 926.0,158.9 926.2,161.0 925.5,163.2 925.8,165.2 926.2,167.3 926.6,169.3 927.3,171.3 926.8,173.4 926.9,175.5 927.5,177.5 927.7,179.6 928.4,181.6 928.2,183.7 928.2,185.8 928.4,187.9 928.0,190.0 928.9,192.0 928.9,194.1 928.8,196.2 929.5,198.2 930.2,200.2 929.9,202.3 929.8,204.4 930.3,206.4 930.0,208.6 930.8,210.6 931.4,212.6 930.7,214.7 931.5,216.7 931.2,218.9 931.3,220.9 931.7,223.0 932.4,225.0 932.3,227.1 932.5,229.3 932.8,231.6 932.2,233.8 932.9,236.0 933.3,238.3 932.3,240.5 932.8,242.8 933.0,245.0 932.9,247.1 933.1,249.2 933.4,251.2 933.1,253.3 933.6,255.4 932.9,257.5 933.6,259.6 933.2,261.7 933.2,263.7 934.3,265.8 933.4,267.9 934.2,270.0 933.6,272.1 933.8,274.1 934.3,276.2 934.2,278.3 934.7,280.3 935.0,282.4 934.8,284.4 934.5,286.5 935.6,288.5 934.9,290.6 935.0,292.7 935.3,294.7 936.4,296.7 936.6,298.7 936.6,300.8 936.1,302.9 937.4,304.9 937.2,307.0 937.8,309.0 937.6,311.1 937.4,313.1 938.0,315.2 937.9,317.2 938.8,319.2 938.2,321.3 939.0,323.3 938.8,325.4 939.6,327.4 939.3,329.5 939.2,331.6 939.5,333.6 939.7,335.6 939.8,337.6 940.8,339.5 941.1,341.5 941.3,343.6 941.2,345.6 941.3,347.6 941.6,349.6 942.0,351.6 941.7,353.7 941.8,355.7 942.3,357.7 942.5,359.7 942.1,361.8 942.2,363.8 943.1,365.8 943.1,367.8 943.4,369.9 943.7,372.1 944.1,374.2 944.9,376.3 945.1,378.4 945.1,380.6 945.3,382.7 946.3,384.8 946.4,386.9 946.0,389.2 946.3,391.3 947.0,393.4 947.9,395.3 947.5,397.6 948.2,399.6 948.5,401.7 949.0,403.7 950.4,405.6 950.4,407.7 950.6,409.8 951.5,411.8 952.1,413.8 953.3,415.8 953.6,418.1 955.0,420.0 956.2,422.0 957.2,424.0 958.6,425.5 959.3,427.4 960.5,429.1 961.9,430.5 962.7,432.4 963.6,434.2 964.2,436.3 966.1,437.7 966.6,439.8 968.4,441.2 968.9,443.4 969.8,445.4 971.2,447.0 973.0,448.3 974.1,450.3 976.2,451.3 977.3,453.2 978.9,454.7 981.0,455.5 983.0,456.7 985.1,457.6 987.0,458.9 989.1,459.8 990.9,458.7 993.0,458.2 994.8,457.2 997.0,456.8 998.8,455.8 1000.8,456.4 1002.7,457.2 1004.6,458.1 1006.4,459.1 1008.2,460.1 1010.2,460.1 1012.3,460.1 1014.3,460.1 1016.4,460.1 1018.4,460.1 1020.6,460.9 1022.5,462.1 1024.6,463.0 1026.7,463.9 1028.6,465.2 1030.8,465.8 1033.2,465.9 1035.4,466.5 1037.6,467.0 1040.0,467.1 1042.2,467.7 1044.5,467.8 1046.8,468.1 1049.1,468.1 1051.3,468.3 1053.6,468.4 1055.9,468.6 1058.2,469.0 1060.4,469.5 1062.7,469.8 1064.9,470.4 1067.2,470.9 1069.5,471.2 1071.6,470.9 1073.7,470.5 1075.9,470.1 1078.0,470.0 1080.1,469.7 1082.3,469.3 1084.4,469.0 1086.5,468.6 1088.6,468.7 1090.8,469.0 1092.9,469.3 1095.1,469.4 1097.2,469.7 1099.3,469.9 1101.5,470.1 1103.6,470.3 1105.7,470.6 1107.6,471.3 1109.6,471.8 1111.5,472.8 1113.5,473.0 1115.5,473.7 1118.6,473.7" fill="none" stroke="#22ee22" stroke-width="2.4" stroke-linejoin="round"/>
<polyline points="689.6,477.3 691.6,477.3 693.6,477.3 695.6,477.3 697.6,477.3 699.7,477.3 701.7,477.3 703.7,477.3 705.7,477.3 707.7,477.3 709.7,477.3 711.7,477.3 713.7,477.3 715.7,477.3 717.8,477.3 719.8,477.3 721.8,477.3 723.8,477.3 725.8,477.4 727.8,477.4 729.8,477.4 731.8,477.4 733.9,477.4 735.9,477.4 737.9,477.4 739.9,477.4 741.9,477.4 743.9,477.4 745.9,477.4 747.9,477.4 749.9,477.4 752.0,477.4 754.0,477.4 756.0,477.4 758.0,477.4 760.0,477.4 762.0,477.2 764.0,477.1 766.0,477.1 768.0,476.9 770.0,476.8 772.0,476.7 774.0,476.5 776.0,476.4 778.0,476.4 780.0,476.3 782.0,476.2 784.0,476.0 786.0,475.9 788.0,475.8 790.0,475.7 792.0,475.6 794.0,475.5 796.0,475.3 798.0,475.2 800.0,475.1 802.0,475.0 804.1,474.9 806.1,474.8 808.2,474.6 810.2,474.5 812.2,474.4 814.3,474.2 816.3,474.1 818.4,474.0 820.4,473.9 822.4,473.5 824.4,473.4 826.4,473.0 828.4,472.8 830.3,472.5 832.3,472.3 834.3,471.8 836.3,471.7 838.3,471.3 840.3,470.7 842.3,470.0 844.3,469.2 846.2,468.3 848.2,467.6 850.2,467.0 852.2,466.4 854.2,465.5 856.2,464.9 857.8,463.5 859.9,463.0 861.6,461.9 863.0,460.3 864.5,458.9 866.5,458.1 868.1,456.8 869.6,455.4 871.6,454.7 873.3,453.2 874.2,451.1 875.4,449.3 877.3,447.9 878.4,446.0 880.3,444.7 881.6,442.9 882.8,441.0 884.3,439.4 885.5,437.7 886.5,435.8 887.4,434.0 887.8,431.8 889.0,430.1 890.3,428.4 890.8,426.3 891.6,424.4 892.8,422.7 893.2,420.5 894.6,418.9 895.1,416.9 895.8,415.0 896.7,413.1 896.9,411.1 897.8,409.2 897.6,407.0 898.1,405.0 898.8,403.1 899.8,401.2 900.3,399.2 900.6,397.2 901.8,395.4 902.2,393.4 902.9,391.5 903.0,389.5 902.8,387.4 904.3,385.6 903.7,383.5 904.2,381.5 905.4,379.7 905.7,377.7 905.5,375.6 906.0,373.7 907.0,371.8 907.1,369.8 907.3,367.8 908.1,365.9 908.0,363.8 908.5,361.9 908.8,359.9 909.1,357.9 910.0,356.0 910.0,354.0 910.5,352.1 911.5,350.2 911.6,348.2 912.1,346.2 912.0,344.1 912.5,342.2 912.9,340.2 912.7,338.1 913.8,336.2 913.7,334.1 914.2,332.1 914.4,330.1 914.6,328.0 915.6,326.1 915.6,324.1 915.8,322.0 916.6,320.1 915.9,317.9 916.9,316.0 917.2,314.0 917.6,312.0 917.8,309.9 918.3,308.0 918.1,305.9 918.8,303.9 918.9,301.9 918.9,299.8 919.7,297.9 919.8,295.8 920.7,293.9 921.0,291.9 921.1,289.8 920.7,287.7 921.4,285.8 921.7,283.8 921.7,281.7 921.6,279.6 922.0,277.7 922.6,275.7 923.2,273.7 923.6,271.7 923.6,269.6 923.4,267.6 924.0,265.6 924.0,263.3 924.3,261.1 925.1,258.9 925.5,256.7 926.3,254.5 925.8,252.2 926.6,250.0 926.8,248.0 926.5,245.9 927.0,244.0 926.6,241.9 927.5,239.9 927.2,237.9 927.7,235.9 927.8,233.9 927.7,231.9 927.7,229.8 927.5,227.8 928.6,225.8 928.2,223.8 928.7,221.7 928.7,219.5 929.1,217.4 929.0,215.2 929.4,213.1 929.5,210.9 929.2,208.7 929.7,206.6 930.0,204.5 929.9,202.3 929.9,200.2 929.8,198.1 931.1,196.2 930.9,194.1 931.2,192.0 930.8,189.9 931.6,187.9 931.5,185.8 931.4,183.7 932.2,181.7 931.8,179.6 932.9,177.6 932.2,175.5 933.3,173.5 932.9,171.3 933.2,169.3 932.8,167.1 933.5,164.9 934.2,162.7 933.9,160.5 933.9,158.3 934.6,156.1 934.1,153.9 934.7,151.7 934.8,149.5 934.8,147.4 934.7,145.3 935.2,143.3 936.2,141.3 936.0,139.2 936.1,137.1 936.7,135.1 936.5,133.0 937.1,130.8 937.1,128.6 937.6,126.4 938.1,124.3 938.2,122.0 938.1,119.8 939.2,117.7 938.7,115.3 939.8,113.2 940.7,110.7 942.9,109.0 943.9,106.6 947.2,104.9 949.7,106.6 950.6,108.6 950.8,110.6 950.8,112.8 951.3,114.8 952.1,116.9 952.2,119.2 951.9,121.4 952.5,123.6 952.9,125.8 953.0,128.0 953.5,130.0 953.4,132.1 953.2,134.2 953.4,136.3 953.8,138.3 953.8,140.4 953.9,142.5 954.4,144.5 954.0,146.6 954.8,148.6 954.3,150.7 954.6,152.8 954.9,154.9 955.0,156.9 954.5,159.0 955.4,161.0 955.4,163.1 955.1,165.2 955.6,167.2 956.1,169.2 956.3,171.3 956.5,173.3 955.9,175.5 956.3,177.5 956.1,179.6 957.3,181.6 957.3,183.7 956.6,185.8 957.3,187.8 957.5,189.9 957.6,192.0 957.6,194.1 958.0,196.1 958.7,198.1 959.0,200.2 958.8,202.3 958.9,204.4 959.4,206.4 959.8,208.5 959.1,210.6 960.0,212.6 960.1,214.7 959.4,216.8 959.4,218.9 959.7,220.9 960.1,223.0 960.5,225.0 960.4,227.1 960.9,229.3 960.8,231.6 960.7,233.8 961.5,236.0 961.2,238.3 960.9,240.5 961.8,242.7 961.5,245.0 962.0,247.0 962.2,249.0 962.5,251.0 962.2,253.0 962.8,255.0 962.2,257.0 962.5,259.0 962.8,261.0 962.4,263.1 963.4,265.0 963.5,267.0 963.2,269.1 963.0,271.1 963.7,273.0 963.8,275.1 964.0,277.1 964.4,279.0 964.0,281.1 964.6,283.1 964.3,285.1 964.5,287.1 964.3,289.1 964.9,291.1 965.3,293.1 965.1,295.2 965.7,297.2 965.9,299.2 965.6,301.3 966.3,303.3 965.4,305.5 965.7,307.5 966.0,309.5 966.0,311.6 966.0,313.6 967.2,315.6 967.1,317.7 966.7,319.7 967.3,321.8 967.2,323.8 967.4,325.9 967.2,327.9 967.9,329.9 967.8,332.0 967.9,334.0 968.8,336.0 968.1,338.1 968.0,340.2 968.7,342.2 969.2,344.2 969.5,346.2 969.6,348.2 969.5,350.3 969.4,352.3 970.1,354.3 970.0,356.4 970.3,358.4 970.1,360.4 971.1,362.4 971.2,364.4 970.7,366.5 971.2,368.5 971.9,370.5 972.0,372.5 971.8,374.6 972.6,376.5 972.4,378.6 972.5,380.6 972.6,382.6 972.7,384.7 973.4,386.6 973.3,388.7 973.6,390.7 973.3,392.7 974.0,394.7 973.8,396.8 974.8,398.7 974.3,400.8 975.4,402.7 975.4,404.7 974.8,406.8 975.8,408.8 975.0,410.9 976.2,412.8 976.0,414.9 976.3,416.9 976.4,418.9 977.1,420.9 976.7,423.1 977.9,425.0 977.4,427.1 978.7,429.0 978.7,431.1 978.5,433.3 979.5,435.2 978.9,437.4 979.3,439.4 980.2,441.4 981.0,443.4 981.4,445.4 981.6,447.5 981.5,449.6 982.8,451.4 983.9,453.2 983.8,455.6 985.5,457.2 985.9,459.4 987.4,461.0 987.9,463.1 989.1,464.9 991.0,466.1 992.7,467.6 994.8,468.4 996.2,470.2 998.4,471.0 1000.0,472.6 1002.0,473.7 1004.0,474.7 1006.0,475.7 1008.2,476.3 1010.3,476.4 1012.4,476.5 1014.6,476.6 1016.7,476.7 1018.8,476.8 1021.0,476.9 1023.1,477.0 1025.2,477.1 1027.2,477.1 1029.3,477.1 1031.3,477.1 1033.3,477.1 1035.4,477.1 1037.4,477.1 1039.4,477.1 1041.4,477.1 1043.5,477.1 1045.5,477.1 1047.5,477.1 1049.6,477.1 1051.6,477.1 1053.6,477.1 1055.7,477.1 1057.7,477.1 1059.7,477.1 1061.7,477.1 1063.8,477.1 1065.8,477.1 1067.8,477.1 1069.9,477.1 1071.9,477.1 1073.9,477.1 1076.0,477.1 1078.0,477.1 1080.0,477.1 1082.1,477.1 1084.1,477.1 1086.1,477.1 1088.1,477.1 1090.2,477.1 1092.2,477.1 1094.2,477.1 1096.3,477.1 1098.3,477.1 1100.3,477.1 1102.4,477.1 1104.4,477.1 1106.4,477.1 1108.4,477.1 1110.5,477.1 1112.5,477.1 1114.5,477.1 1116.6,477.1 1118.6,477.1" fill="none" stroke="#00ff00" stroke-width="2.4" stroke-linejoin="round"/>
</g>
<line x1="689.6" y1="40.6" x2="1118.6" y2="40.6" stroke="#222" stroke-width="2"/>
<line x1="689.6" y1="39.6" x2="689.6" y2="478.3" stroke="#222" stroke-width="2"/>
<line x1="680" y1="477.3" x2="689.6" y2="477.3" stroke="#222" stroke-width="2"/>
<line x1="689.6" y1="477.3" x2="1118.6" y2="477.3" stroke="#00ee00" stroke-width="2.2"/>
<line x1="1118.6" y1="40.6" x2="1118.6" y2="477.3" stroke="#00ee00" stroke-width="2.2"/>
<line x1="679.6" y1="477.3" x2="689.6" y2="477.3" stroke="#222" stroke-width="2"/>
<line x1="685.1" y1="433.63" x2="689.6" y2="433.63" stroke="#222" stroke-width="2"/>
<line x1="679.6" y1="389.96000000000004" x2="689.6" y2="389.96000000000004" stroke="#222" stroke-width="2"/>
<line x1="685.1" y1="346.29" x2="689.6" y2="346.29" stroke="#222" stroke-width="2"/>
<line x1="679.6" y1="302.62" x2="689.6" y2="302.62" stroke="#222" stroke-width="2"/>
<line x1="685.1" y1="258.95000000000005" x2="689.6" y2="258.95000000000005" stroke="#222" stroke-width="2"/>
<line x1="679.6" y1="215.28000000000003" x2="689.6" y2="215.28000000000003" stroke="#222" stroke-width="2"/>
<line x1="685.1" y1="171.61" x2="689.6" y2="171.61" stroke="#222" stroke-width="2"/>
<line x1="679.6" y1="127.94" x2="689.6" y2="127.94" stroke="#222" stroke-width="2"/>
<line x1="685.1" y1="84.27000000000004" x2="689.6" y2="84.27000000000004" stroke="#222" stroke-width="2"/>
<line x1="679.6" y1="40.60000000000002" x2="689.6" y2="40.60000000000002" stroke="#222" stroke-width="2"/>
<line x1="706.9010370694904" y1="477.8" x2="706.9010370694904" y2="482.3" stroke="#222" stroke-width="1.8"/>
<line x1="744.6902212628396" y1="477.8" x2="744.6902212628396" y2="482.3" stroke="#222" stroke-width="1.8"/>
<line x1="771.5020741389808" y1="477.8" x2="771.5020741389808" y2="482.3" stroke="#222" stroke-width="1.8"/>
<line x1="792.2989629305096" y1="477.8" x2="792.2989629305096" y2="482.3" stroke="#222" stroke-width="1.8"/>
<line x1="809.2912583323299" y1="477.8" x2="809.2912583323299" y2="482.3" stroke="#222" stroke-width="1.8"/>
<line x1="823.6580393870595" y1="477.8" x2="823.6580393870595" y2="482.3" stroke="#222" stroke-width="1.8"/>
<line x1="836.1031112084711" y1="477.8" x2="836.1031112084711" y2="482.3" stroke="#222" stroke-width="1.8"/>
<line x1="847.080442525679" y1="477.8" x2="847.080442525679" y2="482.3" stroke="#222" stroke-width="1.8"/>
<line x1="856.9" y1="477.8" x2="856.9" y2="487.8" stroke="#222" stroke-width="1.8"/>
<line x1="921.5010370694904" y1="477.8" x2="921.5010370694904" y2="482.3" stroke="#222" stroke-width="1.8"/>
<line x1="959.2902212628396" y1="477.8" x2="959.2902212628396" y2="482.3" stroke="#222" stroke-width="1.8"/>
<line x1="986.1020741389807" y1="477.8" x2="986.1020741389807" y2="482.3" stroke="#222" stroke-width="1.8"/>
<line x1="1006.8989629305096" y1="477.8" x2="1006.8989629305096" y2="482.3" stroke="#222" stroke-width="1.8"/>
<line x1="1023.8912583323299" y1="477.8" x2="1023.8912583323299" y2="482.3" stroke="#222" stroke-width="1.8"/>
<line x1="1038.2580393870594" y1="477.8" x2="1038.2580393870594" y2="482.3" stroke="#222" stroke-width="1.8"/>
<line x1="1050.703111208471" y1="477.8" x2="1050.703111208471" y2="482.3" stroke="#222" stroke-width="1.8"/>
<line x1="1061.6804425256792" y1="477.8" x2="1061.6804425256792" y2="482.3" stroke="#222" stroke-width="1.8"/>
<line x1="1071.5" y1="477.8" x2="1071.5" y2="487.8" stroke="#222" stroke-width="1.8"/>
<text x="665.94" y="484.20" font-size="20.90" textLength="10.23" lengthAdjust="spacingAndGlyphs" fill="#1a1a1a" stroke="#1a1a1a" stroke-width="0.65">0</text>
<text x="655.73" y="396.86" font-size="20.90" textLength="20.46" lengthAdjust="spacingAndGlyphs" fill="#1a1a1a" stroke="#1a1a1a" stroke-width="0.65">20</text>
<text x="655.73" y="309.52" font-size="20.90" textLength="20.46" lengthAdjust="spacingAndGlyphs" fill="#1a1a1a" stroke="#1a1a1a" stroke-width="0.65">40</text>
<text x="655.73" y="222.18" font-size="20.90" textLength="20.46" lengthAdjust="spacingAndGlyphs" fill="#1a1a1a" stroke="#1a1a1a" stroke-width="0.65">60</text>
<text x="655.73" y="134.84" font-size="20.90" textLength="20.46" lengthAdjust="spacingAndGlyphs" fill="#1a1a1a" stroke="#1a1a1a" stroke-width="0.65">80</text>
<text x="645.52" y="47.50" font-size="20.90" textLength="30.69" lengthAdjust="spacingAndGlyphs" fill="#1a1a1a" stroke="#1a1a1a" stroke-width="0.65">100</text>
<text x="843.23" y="510.10" font-size="20.90" textLength="20.46" lengthAdjust="spacingAndGlyphs" fill="#1a1a1a" stroke="#1a1a1a" stroke-width="0.4">10</text>
<text x="864.06" y="502.80" font-size="12.90" textLength="6.10" lengthAdjust="spacingAndGlyphs" fill="#1a1a1a" stroke="#1a1a1a" stroke-width="0.3">3</text>
<text x="1057.83" y="510.10" font-size="20.90" textLength="20.46" lengthAdjust="spacingAndGlyphs" fill="#1a1a1a" stroke="#1a1a1a" stroke-width="0.4">10</text>
<text x="1078.88" y="502.80" font-size="12.90" textLength="6.10" lengthAdjust="spacingAndGlyphs" fill="#1a1a1a" stroke="#1a1a1a" stroke-width="0.3">4</text>
<text x="901.87" y="533.6" font-size="22.03" textLength="27.12" lengthAdjust="spacingAndGlyphs" fill="#111" stroke="#111" stroke-width="0.3">PE</text>
<text transform="rotate(-90)" x="-292.23" y="621.3" font-size="29.35" textLength="65.62" lengthAdjust="spacingAndGlyphs" fill="#222">%Max</text>
<text x="703.19" y="71.6" font-size="23.71" textLength="71.29" lengthAdjust="spacingAndGlyphs" fill="#00a651" stroke="#00a651" stroke-width="0.3">EpCam</text>
<text x="1018.9" y="70.36" font-size="24.37" textLength="83.91" lengthAdjust="spacingAndGlyphs" fill="#111" stroke="#111" stroke-width="0.7">MES-OV</text>
<text x="1013.48" y="107.97" font-size="23.38" textLength="89.65" lengthAdjust="spacingAndGlyphs" fill="#111" stroke="#111" stroke-width="0.7">SK-OV-3</text>
<text x="1028.4" y="145.9" font-size="25.65" textLength="75.33" lengthAdjust="spacingAndGlyphs" fill="#111" stroke="#111" stroke-width="0.7">Isotype</text>
<line x1="1131.2" y1="40.4" x2="1131.2" y2="150.4" stroke="#d4d4d4" stroke-width="1.5"/>
<line x1="1133.5" y1="40.4" x2="1165" y2="40.4" stroke="#c8c8c8" stroke-width="1.5"/>
<line x1="1131.2" y1="150.4" x2="1165" y2="150.4" stroke="#d4d4d4" stroke-width="1.5"/>
<g clip-path="url(#cL2)">
<rect x="1135.3" y="45.2" width="40" height="29.1" fill="#fff" stroke="#00ff00" stroke-width="2.8"/>
<rect x="1135.3" y="81.9" width="40" height="26.8" fill="#dcffdc" stroke="none" stroke-width="0"/>
<rect x="1135.3" y="81.9" width="40" height="26.8" fill="none" stroke="#00e000" stroke-width="2.8"/>
<rect x="1137" y="83" width="40" height="27.3" fill="url(#dotL2)"/>
<rect x="1135.15" y="116.35" width="40" height="29.4" fill="#c0bfc4" stroke="#484848" stroke-width="2.3"/>
</g>
<g clip-path="url(#cA3)">
<polygon points="1400.0,482.3 1402.0,482.2 1404.0,482.1 1406.0,482.0 1408.0,482.0 1410.0,481.9 1412.0,481.8 1414.0,481.7 1416.0,481.7 1418.0,481.6 1420.0,481.5 1422.1,480.9 1424.2,480.7 1426.2,480.1 1428.3,479.5 1430.4,479.0 1432.4,478.1 1434.5,477.7 1436.5,477.0 1438.6,476.5 1440.6,476.1 1442.7,475.8 1444.8,475.3 1446.8,474.0 1447.8,471.8 1449.5,470.1 1451.1,468.5 1453.0,467.1 1454.7,465.3 1455.8,463.2 1456.4,460.7 1458.0,458.8 1458.4,456.7 1459.0,454.6 1459.9,452.6 1460.9,450.7 1461.1,448.5 1461.5,446.4 1462.1,444.3 1462.9,442.3 1463.9,440.3 1463.9,438.0 1463.6,435.7 1464.3,433.6 1465.4,431.6 1465.3,429.4 1465.9,427.3 1466.7,425.2 1466.2,422.9 1467.1,420.8 1467.1,418.7 1467.1,416.6 1467.3,414.6 1467.7,412.5 1468.0,410.5 1468.0,408.4 1468.1,406.4 1468.4,404.3 1468.9,402.3 1469.0,400.2 1469.3,398.2 1469.5,396.1 1469.4,394.0 1469.5,391.9 1469.8,389.9 1470.7,387.9 1470.5,385.8 1470.0,383.7 1470.9,381.6 1470.6,379.5 1471.4,377.5 1470.6,375.4 1470.6,373.3 1471.7,371.3 1471.6,369.2 1472.3,367.2 1472.0,365.1 1472.0,363.0 1472.7,360.9 1472.4,358.8 1472.8,356.8 1473.1,354.7 1473.0,352.6 1472.9,350.5 1473.4,348.4 1473.4,346.3 1473.3,344.2 1473.1,342.1 1473.4,340.0 1473.4,338.0 1473.1,336.0 1473.8,334.0 1473.8,332.0 1474.0,330.0 1474.1,328.0 1474.5,326.0 1473.8,324.0 1473.8,322.0 1474.0,320.0 1474.8,318.0 1475.2,316.0 1474.9,314.0 1474.5,312.0 1475.1,310.0 1475.1,308.0 1475.2,306.0 1475.2,304.0 1475.5,301.9 1475.3,299.9 1476.1,297.9 1476.0,295.8 1476.3,293.8 1475.8,291.7 1476.6,289.7 1475.7,287.6 1476.2,285.6 1476.5,283.5 1476.9,281.5 1476.8,279.5 1477.0,277.4 1477.4,275.4 1476.9,273.3 1477.1,271.3 1477.7,269.3 1477.0,267.2 1477.1,265.1 1478.1,263.1 1478.0,261.1 1477.9,259.0 1478.2,257.0 1478.5,255.0 1478.1,252.9 1478.0,250.8 1479.2,248.9 1478.9,246.8 1478.7,244.7 1479.3,242.7 1479.0,240.7 1479.4,238.6 1479.2,236.6 1479.0,234.5 1479.6,232.5 1479.5,230.5 1479.4,228.4 1479.4,226.3 1479.8,224.3 1480.3,222.3 1479.7,220.2 1480.4,218.2 1480.1,216.2 1480.4,214.1 1480.7,212.1 1480.5,210.0 1481.2,208.0 1481.3,206.0 1481.4,203.9 1480.8,201.9 1480.9,199.8 1480.8,197.8 1482.0,195.8 1481.6,193.7 1482.1,191.7 1481.8,189.6 1482.4,187.6 1482.0,185.5 1481.8,183.5 1482.2,181.5 1482.0,179.4 1482.7,177.4 1482.0,175.3 1482.4,173.3 1482.7,171.2 1482.4,169.2 1482.8,167.2 1483.5,165.2 1482.5,163.1 1483.6,161.1 1483.3,159.0 1483.7,157.0 1483.5,154.9 1483.3,152.8 1483.3,150.7 1483.7,148.6 1483.8,146.6 1483.9,144.5 1484.3,142.5 1485.2,140.4 1485.0,138.4 1484.8,136.3 1484.5,134.2 1485.5,132.2 1484.9,130.0 1485.5,128.0 1485.4,125.9 1485.7,124.0 1486.5,122.1 1487.3,120.2 1487.0,118.1 1487.4,116.1 1487.5,118.1 1487.7,120.1 1488.2,122.1 1488.8,124.0 1489.0,126.0 1489.3,128.0 1489.3,130.1 1489.8,132.1 1490.1,134.2 1490.2,136.3 1490.3,138.3 1490.6,140.4 1490.0,142.5 1490.8,144.5 1490.7,146.6 1490.5,148.7 1490.7,150.8 1490.7,152.8 1491.2,154.9 1492.0,156.9 1491.8,159.0 1491.5,161.1 1492.3,163.1 1491.7,165.1 1492.1,167.2 1492.6,169.2 1492.6,171.2 1492.9,173.3 1493.0,175.3 1493.1,177.4 1492.1,179.4 1492.6,181.5 1492.3,183.5 1493.5,185.5 1492.5,187.6 1492.7,189.6 1493.1,191.7 1493.4,193.7 1492.7,195.8 1493.2,197.8 1493.6,199.8 1494.1,201.9 1493.7,203.9 1493.2,206.0 1493.9,208.0 1494.2,210.0 1494.5,212.1 1494.3,214.1 1494.2,216.2 1494.2,218.2 1494.9,220.2 1494.4,222.3 1494.0,224.4 1494.6,226.4 1495.1,228.4 1494.9,230.4 1494.8,232.5 1494.7,234.5 1494.8,236.6 1494.7,238.6 1494.6,240.7 1495.3,242.7 1494.6,244.8 1495.1,246.8 1494.9,248.8 1495.2,250.9 1495.6,252.9 1494.8,255.0 1495.2,257.0 1495.7,259.0 1495.8,261.1 1495.1,263.1 1495.1,265.2 1495.6,267.2 1495.3,269.3 1495.6,271.3 1496.3,273.3 1495.5,275.4 1495.4,277.4 1496.2,279.5 1496.1,281.5 1496.1,283.5 1496.3,285.6 1495.7,287.6 1496.6,289.7 1495.8,291.7 1496.9,293.7 1496.1,295.8 1496.7,297.8 1497.0,299.9 1496.3,301.9 1496.8,304.0 1496.6,306.0 1496.4,308.0 1496.6,310.0 1496.1,312.0 1497.3,314.0 1496.6,316.0 1496.3,318.0 1497.2,320.0 1496.3,322.0 1496.7,324.0 1496.8,326.0 1497.2,328.0 1497.0,330.0 1496.9,332.1 1497.7,334.1 1497.1,336.2 1497.0,338.3 1497.5,340.3 1496.8,342.4 1497.0,344.4 1497.1,346.5 1496.9,348.6 1497.3,350.6 1497.9,352.7 1498.0,354.7 1497.7,356.8 1497.5,358.9 1497.2,360.9 1497.6,363.0 1497.2,365.1 1497.7,367.1 1497.9,369.2 1498.5,371.3 1498.5,373.3 1498.1,375.4 1498.3,377.5 1498.3,379.6 1498.5,381.6 1498.1,383.7 1498.4,385.8 1498.7,387.8 1498.7,389.9 1498.8,392.0 1499.4,394.0 1499.3,396.1 1499.1,398.2 1499.5,400.2 1500.3,402.2 1500.3,404.3 1499.8,406.4 1499.9,408.5 1500.2,410.5 1500.6,412.5 1500.8,414.6 1500.3,416.7 1501.0,418.7 1500.9,420.8 1500.5,422.9 1501.1,425.0 1501.7,427.0 1501.8,429.1 1502.2,431.1 1502.3,433.2 1502.6,435.2 1503.0,437.3 1502.2,439.5 1503.2,441.4 1503.1,443.5 1503.4,445.6 1504.2,447.7 1503.4,450.1 1504.2,452.2 1504.0,454.5 1504.7,456.6 1504.6,458.9 1505.9,460.9 1506.0,463.2 1505.9,465.4 1507.0,467.2 1506.4,469.4 1508.1,471.0 1508.6,473.0 1508.5,475.1 1509.2,477.0 1511.8,478.4 1514.1,480.3 1516.1,481.0 1517.9,481.9 1520.0,482.3" fill="#c4c4c8" stroke="none" stroke-width="0" stroke-linejoin="round"/>
<polygon points="1436.5,482.3 1438.7,481.9 1440.9,481.7 1443.1,481.2 1445.3,481.0 1447.5,480.7 1449.7,480.3 1451.1,478.7 1453.2,478.1 1454.7,476.6 1456.3,475.3 1458.0,474.1 1459.6,472.8 1461.4,471.8 1462.9,470.4 1465.1,469.8 1467.1,469.0 1469.2,468.1 1471.2,467.1 1472.9,465.8 1473.7,463.6 1474.8,461.9 1476.4,460.4 1477.8,458.8 1478.4,456.9 1479.3,455.1 1480.1,453.2 1480.3,451.1 1481.4,449.4 1481.9,447.4 1482.8,445.6 1483.2,443.4 1483.9,441.2 1484.6,439.0 1484.8,436.7 1485.0,434.5 1486.1,432.4 1486.3,430.2 1486.7,428.1 1487.4,426.0 1488.0,423.9 1489.0,421.9 1488.7,419.6 1489.4,417.5 1489.9,415.3 1490.1,413.0 1490.5,410.8 1491.6,408.7 1491.9,406.4 1492.7,404.3 1493.1,402.3 1493.3,400.3 1493.6,398.3 1494.1,396.4 1494.3,394.4 1495.7,392.4 1496.7,390.1 1497.6,387.8 1498.0,385.8 1498.1,383.7 1498.5,381.6 1499.3,379.6 1498.6,377.4 1499.2,375.4 1500.4,373.4 1500.1,371.3 1500.1,369.2 1500.4,367.1 1500.6,365.0 1501.9,363.1 1501.9,361.0 1502.2,359.0 1502.6,356.9 1502.6,354.8 1503.5,352.8 1503.6,350.7 1503.3,348.6 1504.0,346.6 1504.1,344.5 1504.9,342.5 1505.2,340.4 1505.0,338.3 1506.1,336.3 1507.0,334.3 1507.8,332.2 1508.3,330.0 1508.7,327.8 1509.0,325.5 1508.9,323.2 1509.6,321.1 1510.3,319.0 1510.4,316.8 1511.2,314.7 1511.7,312.5 1511.6,310.3 1512.3,308.2 1512.7,306.0 1513.3,304.0 1513.3,301.9 1512.7,299.8 1513.2,297.8 1514.0,295.8 1513.8,293.7 1513.9,291.7 1514.0,289.6 1514.7,287.6 1514.2,285.5 1514.4,283.5 1515.1,281.5 1516.0,279.5 1516.4,277.5 1515.8,275.2 1517.0,273.3 1517.7,271.4 1517.6,269.2 1517.8,266.6 1519.6,264.5 1520.0,261.9 1520.0,259.8 1520.8,257.9 1520.1,255.7 1520.7,253.7 1521.5,251.7 1521.3,249.7 1521.9,247.7 1521.9,245.6 1521.9,243.5 1522.6,241.5 1521.7,239.4 1522.5,237.4 1522.2,235.2 1523.4,233.1 1523.0,230.9 1524.3,228.9 1523.5,226.6 1523.8,224.4 1525.3,222.4 1525.0,220.2 1525.8,218.1 1526.0,215.9 1525.7,213.6 1526.6,211.6 1526.8,209.4 1527.1,207.2 1526.4,204.9 1527.1,202.8 1527.4,200.6 1527.7,198.5 1528.4,196.6 1528.8,194.5 1528.5,192.4 1529.7,190.5 1529.8,188.4 1530.4,186.4 1531.0,184.4 1531.6,182.4 1533.1,180.7 1533.5,178.6 1533.8,176.6 1533.6,174.5 1533.9,172.5 1533.9,170.4 1534.7,168.4 1534.3,166.3 1535.4,164.4 1535.5,162.3 1535.1,160.2 1535.3,158.2 1535.6,156.1 1535.9,154.1 1536.8,151.7 1537.2,149.2 1538.6,147.7 1540.0,146.3 1540.8,144.3 1542.9,145.2 1544.5,146.7 1545.9,144.8 1546.2,142.4 1546.8,140.1 1548.2,138.2 1550.6,138.2 1551.9,140.0 1552.1,142.3 1553.1,144.3 1553.4,146.5 1554.0,148.5 1554.4,150.7 1555.5,152.6 1555.2,154.9 1556.1,156.9 1556.8,159.0 1556.5,161.2 1557.7,163.2 1557.6,165.3 1557.6,167.5 1557.2,169.6 1557.7,171.7 1558.4,173.8 1558.1,176.0 1558.8,178.0 1558.2,180.2 1558.7,182.3 1559.3,184.4 1559.1,186.5 1559.5,188.6 1559.2,190.8 1558.9,192.9 1559.8,194.9 1559.2,197.1 1559.9,199.1 1560.5,201.2 1560.4,203.3 1560.8,205.4 1560.2,207.5 1561.0,209.6 1561.5,211.6 1561.0,213.8 1562.0,215.8 1561.4,217.9 1562.1,220.0 1562.1,222.1 1561.9,224.2 1562.8,226.2 1562.9,228.3 1562.7,230.4 1562.9,232.5 1563.5,234.5 1562.7,236.6 1563.7,238.6 1563.0,240.7 1563.2,242.7 1563.7,244.8 1564.0,246.8 1564.2,248.8 1563.8,250.9 1563.9,253.0 1565.0,254.9 1565.1,257.0 1564.8,259.0 1565.1,261.1 1564.8,263.2 1565.6,265.1 1565.6,267.2 1565.8,269.2 1565.3,271.3 1566.1,273.3 1566.5,275.3 1566.2,277.4 1566.1,279.5 1566.5,281.5 1567.0,283.5 1567.1,285.6 1566.9,287.6 1567.1,289.7 1567.3,291.7 1567.5,293.7 1567.7,295.8 1568.2,297.8 1567.6,299.9 1567.9,301.9 1567.9,303.9 1568.3,306.0 1568.6,308.0 1568.7,310.0 1568.7,312.1 1568.9,314.1 1569.0,316.1 1569.0,318.2 1569.4,320.5 1569.2,323.0 1569.7,325.3 1570.5,327.6 1570.3,330.0 1570.0,332.1 1570.3,334.1 1571.2,336.2 1571.2,338.2 1570.9,340.3 1570.8,342.4 1571.5,344.4 1571.0,346.5 1570.7,348.6 1570.9,350.6 1571.6,352.7 1572.0,354.7 1571.5,356.8 1572.0,358.9 1571.8,360.9 1571.9,363.0 1572.1,365.1 1572.4,367.1 1572.1,369.2 1572.0,371.3 1572.5,373.4 1573.3,375.4 1572.7,377.5 1572.8,379.6 1573.2,381.6 1573.9,383.7 1573.5,385.8 1573.6,387.8 1574.2,389.9 1574.1,392.0 1574.8,394.0 1574.4,396.1 1574.8,398.1 1574.6,400.2 1575.1,402.3 1574.9,404.4 1575.4,406.4 1574.9,408.5 1575.6,410.5 1575.4,412.6 1576.1,414.6 1575.4,416.8 1575.5,418.8 1576.3,420.9 1576.7,422.9 1576.8,425.0 1576.8,427.0 1576.9,429.1 1577.2,431.2 1577.5,433.2 1577.9,435.3 1578.1,437.4 1577.7,439.5 1578.4,441.5 1579.4,443.5 1578.5,445.7 1579.6,447.7 1579.5,449.8 1580.1,451.8 1580.2,453.9 1581.1,455.9 1581.1,458.0 1581.5,460.1 1582.2,462.1 1581.8,464.3 1583.1,466.2 1583.1,468.3 1583.5,470.4 1584.2,472.5 1585.2,474.5 1586.4,476.4 1586.8,478.6 1589.3,479.8 1591.7,481.1 1593.8,480.9 1595.9,480.8 1597.9,480.6 1600.0,480.5 1602.1,480.3 1604.3,480.2 1606.4,480.0 1608.6,479.9 1610.7,479.8 1612.9,479.6 1615.0,479.5 1617.1,479.3 1619.3,479.3 1621.4,479.1 1623.6,478.9 1625.7,478.8 1627.9,478.6 1630.0,478.5 1632.3,478.2 1634.6,477.8 1637.0,477.6 1639.3,477.2 1641.5,477.5 1643.7,477.8 1645.8,478.2 1648.0,478.5 1650.0,479.0 1652.1,479.6 1654.0,480.3 1656.0,481.0 1658.0,481.0 1660.0,481.0 1662.0,481.0 1664.1,481.1 1666.1,481.1 1668.1,481.1 1670.1,481.1 1672.1,481.1 1674.1,481.1 1676.2,481.1 1678.2,481.2 1680.2,481.2 1682.2,481.2 1684.2,481.2 1686.2,481.2 1688.2,481.2 1690.3,481.3 1692.3,481.3 1694.3,481.3 1696.3,481.3 1698.3,481.3 1700.3,481.3 1702.3,481.4 1704.4,481.4 1706.4,481.4 1708.4,481.4 1710.4,481.4 1712.4,481.4 1714.4,481.4 1716.5,481.4 1718.5,481.5 1720.5,481.5 1722.5,481.5 1722.5,482.3" fill="rgba(255,0,0,0.095)" stroke="none" stroke-width="0" stroke-linejoin="round"/>
<polygon points="1436.5,482.3 1438.7,481.9 1440.9,481.7 1443.1,481.2 1445.3,481.0 1447.5,480.7 1449.7,480.3 1451.1,478.7 1453.2,478.1 1454.7,476.6 1456.3,475.3 1458.0,474.1 1459.6,472.8 1461.4,471.8 1462.9,470.4 1465.1,469.8 1467.1,469.0 1469.2,468.1 1471.2,467.1 1472.9,465.8 1473.7,463.6 1474.8,461.9 1476.4,460.4 1477.8,458.8 1478.4,456.9 1479.3,455.1 1480.1,453.2 1480.3,451.1 1481.4,449.4 1481.9,447.4 1482.8,445.6 1483.2,443.4 1483.9,441.2 1484.6,439.0 1484.8,436.7 1485.0,434.5 1486.1,432.4 1486.3,430.2 1486.7,428.1 1487.4,426.0 1488.0,423.9 1489.0,421.9 1488.7,419.6 1489.4,417.5 1489.9,415.3 1490.1,413.0 1490.5,410.8 1491.6,408.7 1491.9,406.4 1492.7,404.3 1493.1,402.3 1493.3,400.3 1493.6,398.3 1494.1,396.4 1494.3,394.4 1495.7,392.4 1496.7,390.1 1497.6,387.8 1498.0,385.8 1498.1,383.7 1498.5,381.6 1499.3,379.6 1498.6,377.4 1499.2,375.4 1500.4,373.4 1500.1,371.3 1500.1,369.2 1500.4,367.1 1500.6,365.0 1501.9,363.1 1501.9,361.0 1502.2,359.0 1502.6,356.9 1502.6,354.8 1503.5,352.8 1503.6,350.7 1503.3,348.6 1504.0,346.6 1504.1,344.5 1504.9,342.5 1505.2,340.4 1505.0,338.3 1506.1,336.3 1507.0,334.3 1507.8,332.2 1508.3,330.0 1508.7,327.8 1509.0,325.5 1508.9,323.2 1509.6,321.1 1510.3,319.0 1510.4,316.8 1511.2,314.7 1511.7,312.5 1511.6,310.3 1512.3,308.2 1512.7,306.0 1513.3,304.0 1513.3,301.9 1512.7,299.8 1513.2,297.8 1514.0,295.8 1513.8,293.7 1513.9,291.7 1514.0,289.6 1514.7,287.6 1514.2,285.5 1514.4,283.5 1515.1,281.5 1516.0,279.5 1516.4,277.5 1515.8,275.2 1517.0,273.3 1517.7,271.4 1517.6,269.2 1517.8,266.6 1519.6,264.5 1520.0,261.9 1520.0,259.8 1520.8,257.9 1520.1,255.7 1520.7,253.7 1521.5,251.7 1521.3,249.7 1521.9,247.7 1521.9,245.6 1521.9,243.5 1522.6,241.5 1521.7,239.4 1522.5,237.4 1522.2,235.2 1523.4,233.1 1523.0,230.9 1524.3,228.9 1523.5,226.6 1523.8,224.4 1525.3,222.4 1525.0,220.2 1525.8,218.1 1526.0,215.9 1525.7,213.6 1526.6,211.6 1526.8,209.4 1527.1,207.2 1526.4,204.9 1527.1,202.8 1527.4,200.6 1527.7,198.5 1528.4,196.6 1528.8,194.5 1528.5,192.4 1529.7,190.5 1529.8,188.4 1530.4,186.4 1531.0,184.4 1531.6,182.4 1533.1,180.7 1533.5,178.6 1533.8,176.6 1533.6,174.5 1533.9,172.5 1533.9,170.4 1534.7,168.4 1534.3,166.3 1535.4,164.4 1535.5,162.3 1535.1,160.2 1535.3,158.2 1535.6,156.1 1535.9,154.1 1536.8,151.7 1537.2,149.2 1538.6,147.7 1540.0,146.3 1540.8,144.3 1542.9,145.2 1544.5,146.7 1545.9,144.8 1546.2,142.4 1546.8,140.1 1548.2,138.2 1550.6,138.2 1551.9,140.0 1552.1,142.3 1553.1,144.3 1553.4,146.5 1554.0,148.5 1554.4,150.7 1555.5,152.6 1555.2,154.9 1556.1,156.9 1556.8,159.0 1556.5,161.2 1557.7,163.2 1557.6,165.3 1557.6,167.5 1557.2,169.6 1557.7,171.7 1558.4,173.8 1558.1,176.0 1558.8,178.0 1558.2,180.2 1558.7,182.3 1559.3,184.4 1559.1,186.5 1559.5,188.6 1559.2,190.8 1558.9,192.9 1559.8,194.9 1559.2,197.1 1559.9,199.1 1560.5,201.2 1560.4,203.3 1560.8,205.4 1560.2,207.5 1561.0,209.6 1561.5,211.6 1561.0,213.8 1562.0,215.8 1561.4,217.9 1562.1,220.0 1562.1,222.1 1561.9,224.2 1562.8,226.2 1562.9,228.3 1562.7,230.4 1562.9,232.5 1563.5,234.5 1562.7,236.6 1563.7,238.6 1563.0,240.7 1563.2,242.7 1563.7,244.8 1564.0,246.8 1564.2,248.8 1563.8,250.9 1563.9,253.0 1565.0,254.9 1565.1,257.0 1564.8,259.0 1565.1,261.1 1564.8,263.2 1565.6,265.1 1565.6,267.2 1565.8,269.2 1565.3,271.3 1566.1,273.3 1566.5,275.3 1566.2,277.4 1566.1,279.5 1566.5,281.5 1567.0,283.5 1567.1,285.6 1566.9,287.6 1567.1,289.7 1567.3,291.7 1567.5,293.7 1567.7,295.8 1568.2,297.8 1567.6,299.9 1567.9,301.9 1567.9,303.9 1568.3,306.0 1568.6,308.0 1568.7,310.0 1568.7,312.1 1568.9,314.1 1569.0,316.1 1569.0,318.2 1569.4,320.5 1569.2,323.0 1569.7,325.3 1570.5,327.6 1570.3,330.0 1570.0,332.1 1570.3,334.1 1571.2,336.2 1571.2,338.2 1570.9,340.3 1570.8,342.4 1571.5,344.4 1571.0,346.5 1570.7,348.6 1570.9,350.6 1571.6,352.7 1572.0,354.7 1571.5,356.8 1572.0,358.9 1571.8,360.9 1571.9,363.0 1572.1,365.1 1572.4,367.1 1572.1,369.2 1572.0,371.3 1572.5,373.4 1573.3,375.4 1572.7,377.5 1572.8,379.6 1573.2,381.6 1573.9,383.7 1573.5,385.8 1573.6,387.8 1574.2,389.9 1574.1,392.0 1574.8,394.0 1574.4,396.1 1574.8,398.1 1574.6,400.2 1575.1,402.3 1574.9,404.4 1575.4,406.4 1574.9,408.5 1575.6,410.5 1575.4,412.6 1576.1,414.6 1575.4,416.8 1575.5,418.8 1576.3,420.9 1576.7,422.9 1576.8,425.0 1576.8,427.0 1576.9,429.1 1577.2,431.2 1577.5,433.2 1577.9,435.3 1578.1,437.4 1577.7,439.5 1578.4,441.5 1579.4,443.5 1578.5,445.7 1579.6,447.7 1579.5,449.8 1580.1,451.8 1580.2,453.9 1581.1,455.9 1581.1,458.0 1581.5,460.1 1582.2,462.1 1581.8,464.3 1583.1,466.2 1583.1,468.3 1583.5,470.4 1584.2,472.5 1585.2,474.5 1586.4,476.4 1586.8,478.6 1589.3,479.8 1591.7,481.1 1593.8,480.9 1595.9,480.8 1597.9,480.6 1600.0,480.5 1602.1,480.3 1604.3,480.2 1606.4,480.0 1608.6,479.9 1610.7,479.8 1612.9,479.6 1615.0,479.5 1617.1,479.3 1619.3,479.3 1621.4,479.1 1623.6,478.9 1625.7,478.8 1627.9,478.6 1630.0,478.5 1632.3,478.2 1634.6,477.8 1637.0,477.6 1639.3,477.2 1641.5,477.5 1643.7,477.8 1645.8,478.2 1648.0,478.5 1650.0,479.0 1652.1,479.6 1654.0,480.3 1656.0,481.0 1658.0,481.0 1660.0,481.0 1662.0,481.0 1664.1,481.1 1666.1,481.1 1668.1,481.1 1670.1,481.1 1672.1,481.1 1674.1,481.1 1676.2,481.1 1678.2,481.2 1680.2,481.2 1682.2,481.2 1684.2,481.2 1686.2,481.2 1688.2,481.2 1690.3,481.3 1692.3,481.3 1694.3,481.3 1696.3,481.3 1698.3,481.3 1700.3,481.3 1702.3,481.4 1704.4,481.4 1706.4,481.4 1708.4,481.4 1710.4,481.4 1712.4,481.4 1714.4,481.4 1716.5,481.4 1718.5,481.5 1720.5,481.5 1722.5,481.5 1722.5,482.3" fill="url(#dotA3)" stroke="none" stroke-width="0" stroke-linejoin="round"/>
<polyline points="1400.0,482.3 1402.0,482.2 1404.0,482.1 1406.0,482.0 1408.0,482.0 1410.0,481.9 1412.0,481.8 1414.0,481.7 1416.0,481.7 1418.0,481.6 1420.0,481.5 1422.1,480.9 1424.2,480.7 1426.2,480.1 1428.3,479.5 1430.4,479.0 1432.4,478.1 1434.5,477.7 1436.5,477.0 1438.6,476.5 1440.6,476.1 1442.7,475.8 1444.8,475.3 1446.8,474.0 1447.8,471.8 1449.5,470.1 1451.1,468.5 1453.0,467.1 1454.7,465.3 1455.8,463.2 1456.4,460.7 1458.0,458.8 1458.4,456.7 1459.0,454.6 1459.9,452.6 1460.9,450.7 1461.1,448.5 1461.5,446.4 1462.1,444.3 1462.9,442.3 1463.9,440.3 1463.9,438.0 1463.6,435.7 1464.3,433.6 1465.4,431.6 1465.3,429.4 1465.9,427.3 1466.7,425.2 1466.2,422.9 1467.1,420.8 1467.1,418.7 1467.1,416.6 1467.3,414.6 1467.7,412.5 1468.0,410.5 1468.0,408.4 1468.1,406.4 1468.4,404.3 1468.9,402.3 1469.0,400.2 1469.3,398.2 1469.5,396.1 1469.4,394.0 1469.5,391.9 1469.8,389.9 1470.7,387.9 1470.5,385.8 1470.0,383.7 1470.9,381.6 1470.6,379.5 1471.4,377.5 1470.6,375.4 1470.6,373.3 1471.7,371.3 1471.6,369.2 1472.3,367.2 1472.0,365.1 1472.0,363.0 1472.7,360.9 1472.4,358.8 1472.8,356.8 1473.1,354.7 1473.0,352.6 1472.9,350.5 1473.4,348.4 1473.4,346.3 1473.3,344.2 1473.1,342.1 1473.4,340.0 1473.4,338.0 1473.1,336.0 1473.8,334.0 1473.8,332.0 1474.0,330.0 1474.1,328.0 1474.5,326.0 1473.8,324.0 1473.8,322.0 1474.0,320.0 1474.8,318.0 1475.2,316.0 1474.9,314.0 1474.5,312.0 1475.1,310.0 1475.1,308.0 1475.2,306.0 1475.2,304.0 1475.5,301.9 1475.3,299.9 1476.1,297.9 1476.0,295.8 1476.3,293.8 1475.8,291.7 1476.6,289.7 1475.7,287.6 1476.2,285.6 1476.5,283.5 1476.9,281.5 1476.8,279.5 1477.0,277.4 1477.4,275.4 1476.9,273.3 1477.1,271.3 1477.7,269.3 1477.0,267.2 1477.1,265.1 1478.1,263.1 1478.0,261.1 1477.9,259.0 1478.2,257.0 1478.5,255.0 1478.1,252.9 1478.0,250.8 1479.2,248.9 1478.9,246.8 1478.7,244.7 1479.3,242.7 1479.0,240.7 1479.4,238.6 1479.2,236.6 1479.0,234.5 1479.6,232.5 1479.5,230.5 1479.4,228.4 1479.4,226.3 1479.8,224.3 1480.3,222.3 1479.7,220.2 1480.4,218.2 1480.1,216.2 1480.4,214.1 1480.7,212.1 1480.5,210.0 1481.2,208.0 1481.3,206.0 1481.4,203.9 1480.8,201.9 1480.9,199.8 1480.8,197.8 1482.0,195.8 1481.6,193.7 1482.1,191.7 1481.8,189.6 1482.4,187.6 1482.0,185.5 1481.8,183.5 1482.2,181.5 1482.0,179.4 1482.7,177.4 1482.0,175.3 1482.4,173.3 1482.7,171.2 1482.4,169.2 1482.8,167.2 1483.5,165.2 1482.5,163.1 1483.6,161.1 1483.3,159.0 1483.7,157.0 1483.5,154.9 1483.3,152.8 1483.3,150.7 1483.7,148.6 1483.8,146.6 1483.9,144.5 1484.3,142.5 1485.2,140.4 1485.0,138.4 1484.8,136.3 1484.5,134.2 1485.5,132.2 1484.9,130.0 1485.5,128.0 1485.4,125.9 1485.7,124.0 1486.5,122.1 1487.3,120.2 1487.0,118.1 1487.4,116.1 1487.5,118.1 1487.7,120.1 1488.2,122.1 1488.8,124.0 1489.0,126.0 1489.3,128.0 1489.3,130.1 1489.8,132.1 1490.1,134.2 1490.2,136.3 1490.3,138.3 1490.6,140.4 1490.0,142.5 1490.8,144.5 1490.7,146.6 1490.5,148.7 1490.7,150.8 1490.7,152.8 1491.2,154.9 1492.0,156.9 1491.8,159.0 1491.5,161.1 1492.3,163.1 1491.7,165.1 1492.1,167.2 1492.6,169.2 1492.6,171.2 1492.9,173.3 1493.0,175.3 1493.1,177.4 1492.1,179.4 1492.6,181.5 1492.3,183.5 1493.5,185.5 1492.5,187.6 1492.7,189.6 1493.1,191.7 1493.4,193.7 1492.7,195.8 1493.2,197.8 1493.6,199.8 1494.1,201.9 1493.7,203.9 1493.2,206.0 1493.9,208.0 1494.2,210.0 1494.5,212.1 1494.3,214.1 1494.2,216.2 1494.2,218.2 1494.9,220.2 1494.4,222.3 1494.0,224.4 1494.6,226.4 1495.1,228.4 1494.9,230.4 1494.8,232.5 1494.7,234.5 1494.8,236.6 1494.7,238.6 1494.6,240.7 1495.3,242.7 1494.6,244.8 1495.1,246.8 1494.9,248.8 1495.2,250.9 1495.6,252.9 1494.8,255.0 1495.2,257.0 1495.7,259.0 1495.8,261.1 1495.1,263.1 1495.1,265.2 1495.6,267.2 1495.3,269.3 1495.6,271.3 1496.3,273.3 1495.5,275.4 1495.4,277.4 1496.2,279.5 1496.1,281.5 1496.1,283.5 1496.3,285.6 1495.7,287.6 1496.6,289.7 1495.8,291.7 1496.9,293.7 1496.1,295.8 1496.7,297.8 1497.0,299.9 1496.3,301.9 1496.8,304.0 1496.6,306.0 1496.4,308.0 1496.6,310.0 1496.1,312.0 1497.3,314.0 1496.6,316.0 1496.3,318.0 1497.2,320.0 1496.3,322.0 1496.7,324.0 1496.8,326.0 1497.2,328.0 1497.0,330.0 1496.9,332.1 1497.7,334.1 1497.1,336.2 1497.0,338.3 1497.5,340.3 1496.8,342.4 1497.0,344.4 1497.1,346.5 1496.9,348.6 1497.3,350.6 1497.9,352.7 1498.0,354.7 1497.7,356.8 1497.5,358.9 1497.2,360.9 1497.6,363.0 1497.2,365.1 1497.7,367.1 1497.9,369.2 1498.5,371.3 1498.5,373.3 1498.1,375.4 1498.3,377.5 1498.3,379.6 1498.5,381.6 1498.1,383.7 1498.4,385.8 1498.7,387.8 1498.7,389.9 1498.8,392.0 1499.4,394.0 1499.3,396.1 1499.1,398.2 1499.5,400.2 1500.3,402.2 1500.3,404.3 1499.8,406.4 1499.9,408.5 1500.2,410.5 1500.6,412.5 1500.8,414.6 1500.3,416.7 1501.0,418.7 1500.9,420.8 1500.5,422.9 1501.1,425.0 1501.7,427.0 1501.8,429.1 1502.2,431.1 1502.3,433.2 1502.6,435.2 1503.0,437.3 1502.2,439.5 1503.2,441.4 1503.1,443.5 1503.4,445.6 1504.2,447.7 1503.4,450.1 1504.2,452.2 1504.0,454.5 1504.7,456.6 1504.6,458.9 1505.9,460.9 1506.0,463.2 1505.9,465.4 1507.0,467.2 1506.4,469.4 1508.1,471.0 1508.6,473.0 1508.5,475.1 1509.2,477.0 1511.8,478.4 1514.1,480.3 1516.1,481.0 1517.9,481.9 1520.0,482.3" fill="none" stroke="#3c3c3c" stroke-width="1.4" stroke-linejoin="round"/>
<polyline points="1436.5,482.3 1438.7,481.9 1440.9,481.7 1443.1,481.2 1445.3,481.0 1447.5,480.7 1449.7,480.3 1451.1,478.7 1453.2,478.1 1454.7,476.6 1456.3,475.3 1458.0,474.1 1459.6,472.8 1461.4,471.8 1462.9,470.4 1465.1,469.8 1467.1,469.0 1469.2,468.1 1471.2,467.1 1472.9,465.8 1473.7,463.6 1474.8,461.9 1476.4,460.4 1477.8,458.8 1478.4,456.9 1479.3,455.1 1480.1,453.2 1480.3,451.1 1481.4,449.4 1481.9,447.4 1482.8,445.6 1483.2,443.4 1483.9,441.2 1484.6,439.0 1484.8,436.7 1485.0,434.5 1486.1,432.4 1486.3,430.2 1486.7,428.1 1487.4,426.0 1488.0,423.9 1489.0,421.9 1488.7,419.6 1489.4,417.5 1489.9,415.3 1490.1,413.0 1490.5,410.8 1491.6,408.7 1491.9,406.4 1492.7,404.3 1493.1,402.3 1493.3,400.3 1493.6,398.3 1494.1,396.4 1494.3,394.4 1495.7,392.4 1496.7,390.1 1497.6,387.8 1498.0,385.8 1498.1,383.7 1498.5,381.6 1499.3,379.6 1498.6,377.4 1499.2,375.4 1500.4,373.4 1500.1,371.3 1500.1,369.2 1500.4,367.1 1500.6,365.0 1501.9,363.1 1501.9,361.0 1502.2,359.0 1502.6,356.9 1502.6,354.8 1503.5,352.8 1503.6,350.7 1503.3,348.6 1504.0,346.6 1504.1,344.5 1504.9,342.5 1505.2,340.4 1505.0,338.3 1506.1,336.3 1507.0,334.3 1507.8,332.2 1508.3,330.0 1508.7,327.8 1509.0,325.5 1508.9,323.2 1509.6,321.1 1510.3,319.0 1510.4,316.8 1511.2,314.7 1511.7,312.5 1511.6,310.3 1512.3,308.2 1512.7,306.0 1513.3,304.0 1513.3,301.9 1512.7,299.8 1513.2,297.8 1514.0,295.8 1513.8,293.7 1513.9,291.7 1514.0,289.6 1514.7,287.6 1514.2,285.5 1514.4,283.5 1515.1,281.5 1516.0,279.5 1516.4,277.5 1515.8,275.2 1517.0,273.3 1517.7,271.4 1517.6,269.2 1517.8,266.6 1519.6,264.5 1520.0,261.9 1520.0,259.8 1520.8,257.9 1520.1,255.7 1520.7,253.7 1521.5,251.7 1521.3,249.7 1521.9,247.7 1521.9,245.6 1521.9,243.5 1522.6,241.5 1521.7,239.4 1522.5,237.4 1522.2,235.2 1523.4,233.1 1523.0,230.9 1524.3,228.9 1523.5,226.6 1523.8,224.4 1525.3,222.4 1525.0,220.2 1525.8,218.1 1526.0,215.9 1525.7,213.6 1526.6,211.6 1526.8,209.4 1527.1,207.2 1526.4,204.9 1527.1,202.8 1527.4,200.6 1527.7,198.5 1528.4,196.6 1528.8,194.5 1528.5,192.4 1529.7,190.5 1529.8,188.4 1530.4,186.4 1531.0,184.4 1531.6,182.4 1533.1,180.7 1533.5,178.6 1533.8,176.6 1533.6,174.5 1533.9,172.5 1533.9,170.4 1534.7,168.4 1534.3,166.3 1535.4,164.4 1535.5,162.3 1535.1,160.2 1535.3,158.2 1535.6,156.1 1535.9,154.1 1536.8,151.7 1537.2,149.2 1538.6,147.7 1540.0,146.3 1540.8,144.3 1542.9,145.2 1544.5,146.7 1545.9,144.8 1546.2,142.4 1546.8,140.1 1548.2,138.2 1550.6,138.2 1551.9,140.0 1552.1,142.3 1553.1,144.3 1553.4,146.5 1554.0,148.5 1554.4,150.7 1555.5,152.6 1555.2,154.9 1556.1,156.9 1556.8,159.0 1556.5,161.2 1557.7,163.2 1557.6,165.3 1557.6,167.5 1557.2,169.6 1557.7,171.7 1558.4,173.8 1558.1,176.0 1558.8,178.0 1558.2,180.2 1558.7,182.3 1559.3,184.4 1559.1,186.5 1559.5,188.6 1559.2,190.8 1558.9,192.9 1559.8,194.9 1559.2,197.1 1559.9,199.1 1560.5,201.2 1560.4,203.3 1560.8,205.4 1560.2,207.5 1561.0,209.6 1561.5,211.6 1561.0,213.8 1562.0,215.8 1561.4,217.9 1562.1,220.0 1562.1,222.1 1561.9,224.2 1562.8,226.2 1562.9,228.3 1562.7,230.4 1562.9,232.5 1563.5,234.5 1562.7,236.6 1563.7,238.6 1563.0,240.7 1563.2,242.7 1563.7,244.8 1564.0,246.8 1564.2,248.8 1563.8,250.9 1563.9,253.0 1565.0,254.9 1565.1,257.0 1564.8,259.0 1565.1,261.1 1564.8,263.2 1565.6,265.1 1565.6,267.2 1565.8,269.2 1565.3,271.3 1566.1,273.3 1566.5,275.3 1566.2,277.4 1566.1,279.5 1566.5,281.5 1567.0,283.5 1567.1,285.6 1566.9,287.6 1567.1,289.7 1567.3,291.7 1567.5,293.7 1567.7,295.8 1568.2,297.8 1567.6,299.9 1567.9,301.9 1567.9,303.9 1568.3,306.0 1568.6,308.0 1568.7,310.0 1568.7,312.1 1568.9,314.1 1569.0,316.1 1569.0,318.2 1569.4,320.5 1569.2,323.0 1569.7,325.3 1570.5,327.6 1570.3,330.0 1570.0,332.1 1570.3,334.1 1571.2,336.2 1571.2,338.2 1570.9,340.3 1570.8,342.4 1571.5,344.4 1571.0,346.5 1570.7,348.6 1570.9,350.6 1571.6,352.7 1572.0,354.7 1571.5,356.8 1572.0,358.9 1571.8,360.9 1571.9,363.0 1572.1,365.1 1572.4,367.1 1572.1,369.2 1572.0,371.3 1572.5,373.4 1573.3,375.4 1572.7,377.5 1572.8,379.6 1573.2,381.6 1573.9,383.7 1573.5,385.8 1573.6,387.8 1574.2,389.9 1574.1,392.0 1574.8,394.0 1574.4,396.1 1574.8,398.1 1574.6,400.2 1575.1,402.3 1574.9,404.4 1575.4,406.4 1574.9,408.5 1575.6,410.5 1575.4,412.6 1576.1,414.6 1575.4,416.8 1575.5,418.8 1576.3,420.9 1576.7,422.9 1576.8,425.0 1576.8,427.0 1576.9,429.1 1577.2,431.2 1577.5,433.2 1577.9,435.3 1578.1,437.4 1577.7,439.5 1578.4,441.5 1579.4,443.5 1578.5,445.7 1579.6,447.7 1579.5,449.8 1580.1,451.8 1580.2,453.9 1581.1,455.9 1581.1,458.0 1581.5,460.1 1582.2,462.1 1581.8,464.3 1583.1,466.2 1583.1,468.3 1583.5,470.4 1584.2,472.5 1585.2,474.5 1586.4,476.4 1586.8,478.6 1589.3,479.8 1591.7,481.1 1593.8,480.9 1595.9,480.8 1597.9,480.6 1600.0,480.5 1602.1,480.3 1604.3,480.2 1606.4,480.0 1608.6,479.9 1610.7,479.8 1612.9,479.6 1615.0,479.5 1617.1,479.3 1619.3,479.3 1621.4,479.1 1623.6,478.9 1625.7,478.8 1627.9,478.6 1630.0,478.5 1632.3,478.2 1634.6,477.8 1637.0,477.6 1639.3,477.2 1641.5,477.5 1643.7,477.8 1645.8,478.2 1648.0,478.5 1650.0,479.0 1652.1,479.6 1654.0,480.3 1656.0,481.0 1658.0,481.0 1660.0,481.0 1662.0,481.0 1664.1,481.1 1666.1,481.1 1668.1,481.1 1670.1,481.1 1672.1,481.1 1674.1,481.1 1676.2,481.1 1678.2,481.2 1680.2,481.2 1682.2,481.2 1684.2,481.2 1686.2,481.2 1688.2,481.2 1690.3,481.3 1692.3,481.3 1694.3,481.3 1696.3,481.3 1698.3,481.3 1700.3,481.3 1702.3,481.4 1704.4,481.4 1706.4,481.4 1708.4,481.4 1710.4,481.4 1712.4,481.4 1714.4,481.4 1716.5,481.4 1718.5,481.5 1720.5,481.5" fill="none" stroke="#d06464" stroke-width="2.2" stroke-linejoin="round"/>
<polyline points="1292.8,482.3 1294.8,482.3 1296.8,482.3 1298.8,482.3 1300.8,482.2 1302.8,482.2 1304.8,482.2 1306.9,482.2 1308.9,482.2 1310.9,482.2 1312.9,482.2 1314.9,482.2 1316.9,482.1 1318.9,482.1 1320.9,482.1 1322.9,482.1 1324.9,482.1 1326.9,482.1 1328.9,482.1 1331.0,482.0 1333.0,482.0 1335.0,482.0 1337.0,482.0 1339.0,482.0 1341.0,482.0 1343.0,482.0 1345.0,481.9 1347.0,481.9 1349.0,481.9 1351.0,481.9 1353.0,481.9 1355.0,481.9 1357.1,481.9 1359.1,481.9 1361.1,481.8 1363.1,481.8 1365.1,481.8 1367.1,481.8 1369.1,481.8 1371.1,481.8 1373.1,481.8 1375.1,481.7 1377.1,481.7 1379.1,481.7 1381.1,481.7 1383.2,481.7 1385.2,481.7 1387.2,481.7 1389.2,481.6 1391.2,481.6 1393.2,481.6 1395.2,481.6 1397.2,481.6 1399.2,481.6 1401.2,481.6 1403.2,481.6 1405.2,481.5 1407.3,481.5 1409.3,481.5 1411.3,481.5 1413.3,481.5 1415.3,481.5 1417.3,481.5 1419.3,481.4 1421.3,481.4 1423.3,481.4 1425.3,481.4 1427.3,481.4 1429.3,481.4 1431.3,481.4 1433.4,481.3 1435.4,481.3 1437.4,481.3 1439.4,481.3 1441.4,481.3 1443.4,481.3 1445.4,481.3 1447.4,481.2 1449.4,481.2 1451.4,481.2 1453.4,481.2 1455.4,481.2 1457.5,481.2 1459.5,481.2 1461.5,481.2 1463.5,481.1 1465.5,481.1 1467.5,481.1 1469.5,481.1 1471.8,480.6 1474.1,480.0 1476.5,479.7 1478.8,479.2 1481.1,478.6 1482.8,477.0 1484.4,475.3 1485.9,473.5 1488.0,472.3 1489.4,470.4 1490.5,468.4 1491.4,466.4 1492.8,464.7 1494.3,463.0 1495.1,460.8 1496.0,458.8 1496.8,456.8 1497.4,454.8 1497.5,452.6 1498.2,450.6 1499.1,448.6 1499.4,446.5 1499.2,444.3 1500.1,442.3 1500.6,440.2 1501.1,438.1 1500.7,435.8 1501.6,433.8 1501.8,431.6 1501.0,429.3 1502.1,427.3 1502.6,425.2 1502.5,423.0 1502.6,420.8 1502.7,418.7 1502.4,416.6 1502.8,414.6 1503.9,412.6 1503.4,410.5 1503.9,408.5 1504.3,406.4 1503.7,404.3 1504.9,402.3 1505.1,400.3 1505.0,398.2 1505.0,396.1 1505.1,394.0 1505.9,392.0 1505.5,389.9 1506.4,387.9 1506.3,385.8 1506.0,383.7 1506.1,381.6 1506.2,379.5 1507.4,377.6 1507.4,375.5 1507.2,373.4 1507.5,371.3 1508.1,369.3 1507.9,367.2 1507.8,365.1 1508.4,363.1 1508.3,361.0 1508.1,358.9 1508.0,356.8 1509.2,354.8 1509.3,352.7 1508.7,350.6 1508.7,348.5 1509.2,346.5 1508.9,344.4 1509.3,342.3 1509.4,340.3 1510.4,338.3 1509.9,336.2 1510.2,334.1 1511.2,332.1 1510.8,330.0 1511.4,328.0 1511.7,326.0 1510.7,323.9 1511.6,321.9 1511.8,319.9 1511.2,317.8 1512.3,315.9 1512.0,313.8 1512.0,311.8 1512.0,309.8 1512.2,307.8 1512.1,305.7 1512.6,303.7 1512.7,301.7 1513.6,299.7 1513.2,297.7 1513.5,295.7 1513.0,293.6 1513.4,291.6 1513.5,289.6 1514.1,287.6 1513.7,285.5 1514.4,283.5 1514.4,281.5 1514.0,279.4 1514.6,277.4 1514.7,275.4 1514.4,273.3 1514.9,271.3 1515.5,269.3 1515.4,267.2 1515.0,265.1 1515.5,263.1 1515.4,261.1 1516.4,259.1 1516.3,257.0 1515.6,254.9 1516.6,252.9 1516.0,250.8 1517.1,248.9 1517.1,246.8 1516.5,244.7 1517.3,242.7 1516.6,240.6 1517.5,238.6 1517.9,236.6 1518.0,234.6 1517.6,232.5 1517.4,230.4 1518.2,228.4 1517.3,226.3 1518.0,224.3 1518.3,222.3 1517.8,220.2 1518.5,218.2 1518.0,216.1 1518.3,214.1 1518.1,212.1 1518.8,210.0 1519.1,208.0 1519.4,206.0 1518.6,203.9 1519.4,201.9 1519.7,199.9 1518.7,197.8 1519.2,195.7 1519.9,193.7 1519.0,191.6 1519.5,189.6 1520.2,187.6 1519.6,185.5 1520.0,183.5 1520.2,181.5 1520.3,179.4 1520.5,177.4 1520.3,175.3 1520.7,173.3 1520.7,171.2 1521.6,169.2 1521.7,167.2 1521.3,165.1 1521.7,163.1 1521.4,161.0 1521.9,159.0 1522.2,156.9 1522.3,154.9 1521.8,152.8 1521.9,150.8 1522.6,148.8 1522.5,146.7 1522.5,144.6 1522.8,142.5 1523.1,140.4 1523.6,138.4 1524.0,136.3 1524.5,134.3 1524.5,132.2 1524.7,130.1 1524.1,127.9 1524.9,125.9 1527.0,124.0 1527.3,121.7 1527.6,119.3 1528.9,117.2 1529.3,114.9 1530.1,116.9 1530.6,118.9 1529.8,121.1 1530.5,123.1 1530.8,125.1 1531.5,127.1 1531.1,129.3 1531.4,131.4 1532.4,133.4 1531.8,135.6 1532.6,137.7 1531.9,139.9 1532.6,142.0 1532.2,144.1 1532.9,146.2 1532.7,148.4 1533.5,150.5 1533.2,152.6 1533.7,154.7 1532.8,156.9 1533.5,159.0 1533.3,161.1 1534.3,163.0 1534.2,165.1 1534.8,167.1 1535.1,169.1 1534.8,171.2 1534.4,173.3 1534.7,175.4 1535.2,177.4 1535.1,179.5 1535.7,181.5 1535.9,183.5 1536.5,185.5 1536.4,187.6 1536.5,189.6 1535.8,191.7 1536.9,193.7 1537.1,195.7 1536.9,197.8 1537.1,199.8 1536.9,201.9 1537.1,203.9 1536.8,206.0 1537.5,208.0 1537.8,210.0 1538.0,212.1 1537.1,214.1 1537.9,216.1 1537.7,218.2 1537.8,220.2 1538.3,222.3 1537.6,224.4 1538.7,226.3 1538.1,228.4 1538.7,230.4 1538.4,232.5 1538.4,234.5 1539.1,236.6 1538.0,238.6 1538.3,240.7 1538.8,242.7 1538.9,244.7 1538.2,246.8 1538.6,248.8 1539.2,250.9 1538.6,252.9 1538.8,255.0 1538.6,257.0 1539.2,259.0 1539.4,261.1 1539.7,263.1 1538.9,265.2 1539.2,267.2 1539.8,269.2 1539.8,271.3 1539.9,273.3 1539.9,275.4 1539.5,277.4 1539.4,279.5 1539.5,281.5 1540.1,283.5 1540.3,285.6 1540.4,287.6 1540.2,289.7 1540.4,291.7 1539.6,293.8 1540.3,295.8 1540.7,297.8 1540.1,299.9 1539.7,301.9 1540.7,303.9 1540.3,306.0 1540.1,308.0 1540.1,310.0 1540.2,312.0 1540.3,314.0 1540.7,316.0 1541.1,318.0 1540.4,320.0 1540.7,322.0 1541.1,324.0 1541.0,326.0 1541.8,328.0 1541.4,330.0 1541.4,332.1 1542.1,334.1 1541.5,336.2 1541.3,338.3 1542.2,340.3 1542.5,342.3 1541.8,344.5 1541.9,346.5 1542.2,348.6 1541.9,350.6 1542.2,352.7 1542.1,354.8 1542.9,356.8 1542.3,358.9 1542.5,361.0 1543.0,363.0 1543.5,365.1 1543.1,367.1 1543.8,369.2 1543.8,371.3 1543.8,373.3 1543.7,375.4 1543.2,377.5 1544.1,379.5 1544.3,381.6 1544.4,383.7 1544.3,385.7 1544.1,387.8 1544.2,389.9 1544.2,392.0 1544.9,394.0 1544.7,396.1 1545.2,398.1 1544.8,400.2 1544.6,402.3 1545.7,404.3 1545.0,406.5 1545.3,408.5 1545.6,410.6 1545.8,412.6 1546.7,414.6 1546.7,416.7 1546.9,418.8 1546.0,420.9 1546.3,422.9 1546.4,425.0 1546.6,427.1 1547.2,429.1 1547.4,431.2 1548.0,433.2 1548.4,435.3 1548.2,437.4 1548.5,439.4 1548.9,441.5 1549.5,443.5 1548.9,445.7 1549.7,447.7 1550.0,449.8 1550.2,451.8 1550.5,453.9 1551.2,455.9 1551.9,457.9 1551.9,460.1 1552.6,462.1 1552.1,464.3 1553.5,466.2 1553.1,468.4 1553.8,470.4 1554.4,472.9 1555.5,475.1 1557.1,477.1 1557.9,479.5 1559.8,480.1 1561.8,480.6 1563.7,481.1 1565.7,481.1 1567.7,481.1 1569.7,481.1 1571.7,481.2 1573.8,481.2 1575.8,481.2 1577.8,481.2 1579.8,481.2 1581.8,481.2 1583.8,481.3 1585.8,481.3 1587.8,481.3 1589.8,481.3 1591.8,481.3 1593.9,481.3 1595.9,481.3 1597.9,481.4 1599.9,481.4 1601.9,481.4 1603.9,481.4 1605.9,481.4 1607.9,481.4 1609.9,481.4 1611.9,481.5 1614.0,481.5 1616.0,481.5 1618.0,481.5 1620.0,481.5 1622.0,481.5 1624.0,481.6 1626.0,481.6 1628.0,481.6 1630.0,481.6 1632.0,481.6 1634.1,481.6 1636.1,481.6 1638.1,481.7 1640.1,481.7 1642.1,481.7 1644.1,481.7 1646.1,481.7 1648.1,481.7 1650.1,481.8 1652.1,481.8 1654.2,481.8 1656.2,481.8 1658.2,481.8 1660.2,481.8 1662.2,481.8 1664.2,481.9 1666.2,481.9 1668.2,481.9 1670.2,481.9 1672.2,481.9 1674.3,481.9 1676.3,482.0 1678.3,482.0 1680.3,482.0 1682.3,482.0 1684.3,482.0 1686.3,482.0 1688.3,482.0 1690.3,482.1 1692.3,482.1 1694.4,482.1 1696.4,482.1 1698.4,482.1 1700.4,482.1 1702.4,482.1 1704.4,482.2 1706.4,482.2 1708.4,482.2 1710.4,482.2 1712.4,482.2 1714.5,482.2 1716.5,482.3 1718.5,482.3 1720.5,482.3 1722.5,482.3" fill="none" stroke="#ff0000" stroke-width="2.4" stroke-linejoin="round"/>
</g>
<line x1="1292.8" y1="45" x2="1722.5" y2="45" stroke="#222" stroke-width="2"/>
<line x1="1292.8" y1="44" x2="1292.8" y2="483.3" stroke="#222" stroke-width="2"/>
<line x1="1283.8" y1="482.3" x2="1292.8" y2="482.3" stroke="#222" stroke-width="2"/>
<line x1="1292.8" y1="482.3" x2="1722.5" y2="482.3" stroke="#ff1010" stroke-width="2.2"/>
<line x1="1722.5" y1="44" x2="1722.5" y2="464" stroke="#222" stroke-width="2"/>
<line x1="1722.5" y1="464" x2="1722.5" y2="482.3" stroke="#ff1010" stroke-width="2.2"/>
<line x1="1282.8" y1="482.3" x2="1292.8" y2="482.3" stroke="#222" stroke-width="2"/>
<line x1="1288.3" y1="438.57" x2="1292.8" y2="438.57" stroke="#222" stroke-width="2"/>
<line x1="1282.8" y1="394.84000000000003" x2="1292.8" y2="394.84000000000003" stroke="#222" stroke-width="2"/>
<line x1="1288.3" y1="351.11" x2="1292.8" y2="351.11" stroke="#222" stroke-width="2"/>
<line x1="1282.8" y1="307.38" x2="1292.8" y2="307.38" stroke="#222" stroke-width="2"/>
<line x1="1288.3" y1="263.65" x2="1292.8" y2="263.65" stroke="#222" stroke-width="2"/>
<line x1="1282.8" y1="219.92000000000002" x2="1292.8" y2="219.92000000000002" stroke="#222" stroke-width="2"/>
<line x1="1288.3" y1="176.19" x2="1292.8" y2="176.19" stroke="#222" stroke-width="2"/>
<line x1="1282.8" y1="132.45999999999998" x2="1292.8" y2="132.45999999999998" stroke="#222" stroke-width="2"/>
<line x1="1288.3" y1="88.73000000000002" x2="1292.8" y2="88.73000000000002" stroke="#222" stroke-width="2"/>
<line x1="1282.8" y1="45.0" x2="1292.8" y2="45.0" stroke="#222" stroke-width="2"/>
<line x1="1299.4510335325772" y1="482.8" x2="1299.4510335325772" y2="487.3" stroke="#222" stroke-width="1.8"/>
<line x1="1318.4336712587794" y1="482.8" x2="1318.4336712587794" y2="487.3" stroke="#222" stroke-width="1.8"/>
<line x1="1331.9020670651544" y1="482.8" x2="1331.9020670651544" y2="487.3" stroke="#222" stroke-width="1.8"/>
<line x1="1342.3489664674228" y1="482.8" x2="1342.3489664674228" y2="487.3" stroke="#222" stroke-width="1.8"/>
<line x1="1350.8847047913566" y1="482.8" x2="1350.8847047913566" y2="487.3" stroke="#222" stroke-width="1.8"/>
<line x1="1358.1015687135368" y1="482.8" x2="1358.1015687135368" y2="487.3" stroke="#222" stroke-width="1.8"/>
<line x1="1364.3531005977313" y1="482.8" x2="1364.3531005977313" y2="487.3" stroke="#222" stroke-width="1.8"/>
<line x1="1369.867342517559" y1="482.8" x2="1369.867342517559" y2="487.3" stroke="#222" stroke-width="1.8"/>
<line x1="1374.8" y1="482.8" x2="1374.8" y2="492.8" stroke="#222" stroke-width="1.8"/>
<line x1="1407.2510335325771" y1="482.8" x2="1407.2510335325771" y2="487.3" stroke="#222" stroke-width="1.8"/>
<line x1="1426.2336712587796" y1="482.8" x2="1426.2336712587796" y2="487.3" stroke="#222" stroke-width="1.8"/>
<line x1="1439.7020670651543" y1="482.8" x2="1439.7020670651543" y2="487.3" stroke="#222" stroke-width="1.8"/>
<line x1="1450.1489664674227" y1="482.8" x2="1450.1489664674227" y2="487.3" stroke="#222" stroke-width="1.8"/>
<line x1="1458.6847047913568" y1="482.8" x2="1458.6847047913568" y2="487.3" stroke="#222" stroke-width="1.8"/>
<line x1="1465.9015687135368" y1="482.8" x2="1465.9015687135368" y2="487.3" stroke="#222" stroke-width="1.8"/>
<line x1="1472.1531005977315" y1="482.8" x2="1472.1531005977315" y2="487.3" stroke="#222" stroke-width="1.8"/>
<line x1="1477.667342517559" y1="482.8" x2="1477.667342517559" y2="487.3" stroke="#222" stroke-width="1.8"/>
<line x1="1482.6" y1="482.8" x2="1482.6" y2="492.8" stroke="#222" stroke-width="1.8"/>
<line x1="1515.051033532577" y1="482.8" x2="1515.051033532577" y2="487.3" stroke="#222" stroke-width="1.8"/>
<line x1="1534.0336712587796" y1="482.8" x2="1534.0336712587796" y2="487.3" stroke="#222" stroke-width="1.8"/>
<line x1="1547.5020670651543" y1="482.8" x2="1547.5020670651543" y2="487.3" stroke="#222" stroke-width="1.8"/>
<line x1="1557.9489664674227" y1="482.8" x2="1557.9489664674227" y2="487.3" stroke="#222" stroke-width="1.8"/>
<line x1="1566.4847047913568" y1="482.8" x2="1566.4847047913568" y2="487.3" stroke="#222" stroke-width="1.8"/>
<line x1="1573.7015687135367" y1="482.8" x2="1573.7015687135367" y2="487.3" stroke="#222" stroke-width="1.8"/>
<line x1="1579.9531005977315" y1="482.8" x2="1579.9531005977315" y2="487.3" stroke="#222" stroke-width="1.8"/>
<line x1="1585.467342517559" y1="482.8" x2="1585.467342517559" y2="487.3" stroke="#222" stroke-width="1.8"/>
<line x1="1590.3999999999999" y1="482.8" x2="1590.3999999999999" y2="492.8" stroke="#222" stroke-width="1.8"/>
<line x1="1622.851033532577" y1="482.8" x2="1622.851033532577" y2="487.3" stroke="#222" stroke-width="1.8"/>
<line x1="1641.8336712587795" y1="482.8" x2="1641.8336712587795" y2="487.3" stroke="#222" stroke-width="1.8"/>
<line x1="1655.3020670651542" y1="482.8" x2="1655.3020670651542" y2="487.3" stroke="#222" stroke-width="1.8"/>
<line x1="1665.7489664674226" y1="482.8" x2="1665.7489664674226" y2="487.3" stroke="#222" stroke-width="1.8"/>
<line x1="1674.2847047913567" y1="482.8" x2="1674.2847047913567" y2="487.3" stroke="#222" stroke-width="1.8"/>
<line x1="1681.501568713537" y1="482.8" x2="1681.501568713537" y2="487.3" stroke="#222" stroke-width="1.8"/>
<line x1="1687.7531005977314" y1="482.8" x2="1687.7531005977314" y2="487.3" stroke="#222" stroke-width="1.8"/>
<line x1="1693.2673425175592" y1="482.8" x2="1693.2673425175592" y2="487.3" stroke="#222" stroke-width="1.8"/>
<line x1="1698.1999999999998" y1="482.8" x2="1698.1999999999998" y2="492.8" stroke="#222" stroke-width="1.8"/>
<text x="1269.14" y="489.20" font-size="20.90" textLength="10.23" lengthAdjust="spacingAndGlyphs" fill="#1a1a1a" stroke="#1a1a1a" stroke-width="0.65">0</text>
<text x="1258.93" y="401.74" font-size="20.90" textLength="20.46" lengthAdjust="spacingAndGlyphs" fill="#1a1a1a" stroke="#1a1a1a" stroke-width="0.65">20</text>
<text x="1258.93" y="314.28" font-size="20.90" textLength="20.46" lengthAdjust="spacingAndGlyphs" fill="#1a1a1a" stroke="#1a1a1a" stroke-width="0.65">40</text>
<text x="1258.93" y="226.82" font-size="20.90" textLength="20.46" lengthAdjust="spacingAndGlyphs" fill="#1a1a1a" stroke="#1a1a1a" stroke-width="0.65">60</text>
<text x="1258.93" y="139.36" font-size="20.90" textLength="20.46" lengthAdjust="spacingAndGlyphs" fill="#1a1a1a" stroke="#1a1a1a" stroke-width="0.65">80</text>
<text x="1248.72" y="51.90" font-size="20.90" textLength="30.69" lengthAdjust="spacingAndGlyphs" fill="#1a1a1a" stroke="#1a1a1a" stroke-width="0.65">100</text>
<text x="1361.53" y="515.40" font-size="20.90" textLength="20.46" lengthAdjust="spacingAndGlyphs" fill="#1a1a1a" stroke="#1a1a1a" stroke-width="0.4">10</text>
<text x="1382.25" y="508.10" font-size="12.90" textLength="6.10" lengthAdjust="spacingAndGlyphs" fill="#1a1a1a" stroke="#1a1a1a" stroke-width="0.3">2</text>
<text x="1468.93" y="515.40" font-size="20.90" textLength="20.46" lengthAdjust="spacingAndGlyphs" fill="#1a1a1a" stroke="#1a1a1a" stroke-width="0.4">10</text>
<text x="1489.76" y="508.10" font-size="12.90" textLength="6.10" lengthAdjust="spacingAndGlyphs" fill="#1a1a1a" stroke="#1a1a1a" stroke-width="0.3">3</text>
<text x="1576.63" y="515.40" font-size="20.90" textLength="20.46" lengthAdjust="spacingAndGlyphs" fill="#1a1a1a" stroke="#1a1a1a" stroke-width="0.4">10</text>
<text x="1597.68" y="508.10" font-size="12.90" textLength="6.10" lengthAdjust="spacingAndGlyphs" fill="#1a1a1a" stroke="#1a1a1a" stroke-width="0.3">4</text>
<text x="1684.83" y="515.40" font-size="20.90" textLength="20.46" lengthAdjust="spacingAndGlyphs" fill="#1a1a1a" stroke="#1a1a1a" stroke-width="0.4">10</text>
<text x="1705.66" y="508.10" font-size="12.90" textLength="6.10" lengthAdjust="spacingAndGlyphs" fill="#1a1a1a" stroke="#1a1a1a" stroke-width="0.3">5</text>
<text x="1504.32" y="535.0" font-size="22.03" textLength="28.0" lengthAdjust="spacingAndGlyphs" fill="#111" stroke="#111" stroke-width="0.3">PE</text>
<text transform="rotate(-90)" x="-297.33" y="1225.1" font-size="30.22" textLength="66.23" lengthAdjust="spacingAndGlyphs" fill="#222">%Max</text>
<text x="1305.47" y="76.27" font-size="23.1" textLength="57.99" lengthAdjust="spacingAndGlyphs" fill="#ee0000" stroke="#ee0000" stroke-width="0.25">CD81</text>
<text x="1622.6" y="74.97" font-size="23.1" textLength="83.81" lengthAdjust="spacingAndGlyphs" fill="#111" stroke="#111" stroke-width="0.7">MES-OV</text>
<text x="1617.48" y="112.77" font-size="23.24" textLength="89.55" lengthAdjust="spacingAndGlyphs" fill="#111" stroke="#111" stroke-width="0.7">SK-OV-3</text>
<text x="1632.19" y="150.7" font-size="24.2" textLength="75.44" lengthAdjust="spacingAndGlyphs" fill="#111" stroke="#111" stroke-width="0.7">Isotype</text>
<line x1="1734.3" y1="45" x2="1734.3" y2="155.4" stroke="#d4d4d4" stroke-width="1.5"/>
<line x1="1736.5" y1="45" x2="1768" y2="45" stroke="#c8c8c8" stroke-width="1.5"/>
<line x1="1734.3" y1="155.4" x2="1768" y2="155.4" stroke="#d4d4d4" stroke-width="1.5"/>
<g clip-path="url(#cL3)">
<rect x="1738.8" y="49.6" width="40" height="29.7" fill="#fff" stroke="#ff0000" stroke-width="2.8"/>
<rect x="1738.8" y="86.5" width="40" height="27.4" fill="#fde6e6" stroke="none" stroke-width="0"/>
<rect x="1738.8" y="86.5" width="40" height="27.4" fill="none" stroke="#cc6060" stroke-width="2.8"/>
<rect x="1737.4" y="85.1" width="40" height="30.2" fill="url(#dotL3)"/>
<rect x="1738.65" y="120.95" width="40" height="30.2" fill="#c0bfc4" stroke="#484848" stroke-width="2.3"/>
</g>
<line x1="1767.5" y1="48.2" x2="1767.5" y2="80.7" stroke="#ff0000" stroke-width="1"/>
<line x1="1767.5" y1="85.1" x2="1767.5" y2="115.3" stroke="#cc6060" stroke-width="1"/>
<line x1="1767.5" y1="119.7" x2="1767.5" y2="152.4" stroke="#404040" stroke-width="1"/>
<rect x="162.1" y="863.8" width="83.6" height="38.90000000000009" fill="#ff80ff" stroke="#2a2a2a" stroke-width="1.1"/>
<rect x="372.5" y="643.6" width="82.80000000000001" height="259.1" fill="#ff80ff" stroke="#2a2a2a" stroke-width="1.1"/>
<line x1="200.5" y1="854" x2="200.5" y2="882.8" stroke="#505050" stroke-width="2.2"/>
<line x1="190.5" y1="854" x2="210.5" y2="854" stroke="#505050" stroke-width="2.4"/>
<line x1="190.5" y1="882.8" x2="210.5" y2="882.8" stroke="#505050" stroke-width="2.4"/>
<line x1="409.1" y1="634.5" x2="409.1" y2="656.1" stroke="#505050" stroke-width="2.2"/>
<line x1="399.5" y1="634.5" x2="418.70000000000005" y2="634.5" stroke="#505050" stroke-width="2.4"/>
<line x1="399.5" y1="656.1" x2="418.70000000000005" y2="656.1" stroke="#505050" stroke-width="2.4"/>
<rect x="98.8" y="615.2" width="420.2" height="287.5" fill="none" stroke="#222" stroke-width="1.6"/>
<line x1="92.8" y1="902.7" x2="98.8" y2="902.7" stroke="#222" stroke-width="1.5"/>
<text x="69.37" y="907.10" font-size="13.80" textLength="19.18" lengthAdjust="spacingAndGlyphs" fill="#111" font-weight="bold">0.0</text>
<line x1="95.3" y1="873.95" x2="98.8" y2="873.95" stroke="#222" stroke-width="1.5"/>
<line x1="92.8" y1="845.2" x2="98.8" y2="845.2" stroke="#222" stroke-width="1.5"/>
<text x="69.37" y="849.60" font-size="13.80" textLength="19.18" lengthAdjust="spacingAndGlyphs" fill="#111" font-weight="bold">0.2</text>
<line x1="95.3" y1="816.45" x2="98.8" y2="816.45" stroke="#222" stroke-width="1.5"/>
<line x1="92.8" y1="787.7" x2="98.8" y2="787.7" stroke="#222" stroke-width="1.5"/>
<text x="68.89" y="792.10" font-size="13.80" textLength="19.18" lengthAdjust="spacingAndGlyphs" fill="#111" font-weight="bold">0.4</text>
<line x1="95.3" y1="758.95" x2="98.8" y2="758.95" stroke="#222" stroke-width="1.5"/>
<line x1="92.8" y1="730.2" x2="98.8" y2="730.2" stroke="#222" stroke-width="1.5"/>
<text x="69.30" y="734.60" font-size="13.80" textLength="19.18" lengthAdjust="spacingAndGlyphs" fill="#111" font-weight="bold">0.6</text>
<line x1="95.3" y1="701.45" x2="98.8" y2="701.45" stroke="#222" stroke-width="1.5"/>
<line x1="92.8" y1="672.7" x2="98.8" y2="672.7" stroke="#222" stroke-width="1.5"/>
<text x="69.23" y="677.10" font-size="13.80" textLength="19.18" lengthAdjust="spacingAndGlyphs" fill="#111" font-weight="bold">0.8</text>
<line x1="95.3" y1="643.95" x2="98.8" y2="643.95" stroke="#222" stroke-width="1.5"/>
<line x1="92.8" y1="615.2" x2="98.8" y2="615.2" stroke="#222" stroke-width="1.5"/>
<text x="69.37" y="619.60" font-size="13.80" textLength="19.18" lengthAdjust="spacingAndGlyphs" fill="#111" font-weight="bold">1.0</text>
<line x1="98.8" y1="902.7" x2="98.8" y2="907.2" stroke="#222" stroke-width="1.5"/>
<line x1="309.2" y1="899.2" x2="309.2" y2="907.2" stroke="#222" stroke-width="1.5"/>
<line x1="519" y1="902.7" x2="519" y2="907.2" stroke="#222" stroke-width="1.5"/>
<text x="115.16" y="647.5" font-size="20.55" textLength="134.35" lengthAdjust="spacingAndGlyphs" fill="#111" stroke="#111" stroke-width="0.25">CD117/CD81</text>
<text transform="rotate(-90)" x="-888.93" y="50.8" font-size="24.97" textLength="272.11" lengthAdjust="spacingAndGlyphs" fill="#111">CD117 normalized signal</text>
<text x="162.16" y="934.18" font-size="22.39" textLength="87.25" lengthAdjust="spacingAndGlyphs" fill="#111" font-weight="bold">MES-OV</text>
<text x="367.92" y="934.18" font-size="22.25" textLength="90.19" lengthAdjust="spacingAndGlyphs" fill="#111" font-weight="bold">SK-OV-3</text>
<rect x="767.5" y="636.6" width="84.79999999999995" height="261.5" fill="#00ff00" stroke="#2a2a2a" stroke-width="1.1"/>
<rect x="979.6" y="836.2" width="84.89999999999998" height="61.89999999999998" fill="#00ff00" stroke="#2a2a2a" stroke-width="1.1"/>
<line x1="807.6" y1="624" x2="807.6" y2="648.8" stroke="#505050" stroke-width="2.2"/>
<line x1="795.6" y1="624" x2="819.6" y2="624" stroke="#505050" stroke-width="2.4"/>
<line x1="795.6" y1="648.8" x2="819.6" y2="648.8" stroke="#505050" stroke-width="2.4"/>
<line x1="1017.9" y1="825.8" x2="1017.9" y2="846.9" stroke="#505050" stroke-width="2.2"/>
<line x1="1005.9" y1="825.8" x2="1029.9" y2="825.8" stroke="#505050" stroke-width="2.4"/>
<line x1="1005.9" y1="846.9" x2="1029.9" y2="846.9" stroke="#505050" stroke-width="2.4"/>
<rect x="703.2" y="607.5" width="426.29999999999995" height="290.6" fill="none" stroke="#222" stroke-width="1.6"/>
<line x1="697.2" y1="898.1" x2="703.2" y2="898.1" stroke="#222" stroke-width="1.5"/>
<text x="666.11" y="902.50" font-size="13.80" textLength="26.86" lengthAdjust="spacingAndGlyphs" fill="#111" font-weight="bold">0.00</text>
<line x1="699.7" y1="873.8833333333333" x2="703.2" y2="873.8833333333333" stroke="#222" stroke-width="1.5"/>
<line x1="697.2" y1="849.6666666666667" x2="703.2" y2="849.6666666666667" stroke="#222" stroke-width="1.5"/>
<text x="665.90" y="854.07" font-size="13.80" textLength="26.86" lengthAdjust="spacingAndGlyphs" fill="#111" font-weight="bold">0.25</text>
<line x1="699.7" y1="825.45" x2="703.2" y2="825.45" stroke="#222" stroke-width="1.5"/>
<line x1="697.2" y1="801.2333333333333" x2="703.2" y2="801.2333333333333" stroke="#222" stroke-width="1.5"/>
<text x="666.11" y="805.63" font-size="13.80" textLength="26.86" lengthAdjust="spacingAndGlyphs" fill="#111" font-weight="bold">0.50</text>
<line x1="699.7" y1="777.0166666666667" x2="703.2" y2="777.0166666666667" stroke="#222" stroke-width="1.5"/>
<line x1="697.2" y1="752.8" x2="703.2" y2="752.8" stroke="#222" stroke-width="1.5"/>
<text x="665.90" y="757.20" font-size="13.80" textLength="26.86" lengthAdjust="spacingAndGlyphs" fill="#111" font-weight="bold">0.75</text>
<line x1="699.7" y1="728.5833333333334" x2="703.2" y2="728.5833333333334" stroke="#222" stroke-width="1.5"/>
<line x1="697.2" y1="704.3666666666667" x2="703.2" y2="704.3666666666667" stroke="#222" stroke-width="1.5"/>
<text x="666.11" y="708.77" font-size="13.80" textLength="26.86" lengthAdjust="spacingAndGlyphs" fill="#111" font-weight="bold">1.00</text>
<line x1="699.7" y1="680.15" x2="703.2" y2="680.15" stroke="#222" stroke-width="1.5"/>
<line x1="697.2" y1="655.9333333333334" x2="703.2" y2="655.9333333333334" stroke="#222" stroke-width="1.5"/>
<text x="665.90" y="660.33" font-size="13.80" textLength="26.86" lengthAdjust="spacingAndGlyphs" fill="#111" font-weight="bold">1.25</text>
<line x1="699.7" y1="631.7166666666667" x2="703.2" y2="631.7166666666667" stroke="#222" stroke-width="1.5"/>
<line x1="697.2" y1="607.5" x2="703.2" y2="607.5" stroke="#222" stroke-width="1.5"/>
<text x="666.11" y="611.90" font-size="13.80" textLength="26.86" lengthAdjust="spacingAndGlyphs" fill="#111" font-weight="bold">1.50</text>
<line x1="703.2" y1="898.1" x2="703.2" y2="902.6" stroke="#222" stroke-width="1.5"/>
<line x1="916.6" y1="894.6" x2="916.6" y2="902.6" stroke="#222" stroke-width="1.5"/>
<line x1="1129.5" y1="898.1" x2="1129.5" y2="902.6" stroke="#222" stroke-width="1.5"/>
<text x="979.72" y="639.2" font-size="21.66" textLength="129.61" lengthAdjust="spacingAndGlyphs" fill="#111" stroke="#111" stroke-width="0.25">EpCam/CD81</text>
<text transform="rotate(-90)" x="-890.86" y="645.5" font-size="20.55" textLength="278.96" lengthAdjust="spacingAndGlyphs" fill="#111">EpCam normalized signal</text>
<text x="771.37" y="933.98" font-size="22.25" textLength="86.84" lengthAdjust="spacingAndGlyphs" fill="#111" font-weight="bold">MES-OV</text>
<text x="977.03" y="933.98" font-size="22.25" textLength="89.48" lengthAdjust="spacingAndGlyphs" fill="#111" font-weight="bold">SK-OV-3</text>
<rect x="1372.2" y="887" width="84.79999999999995" height="9.600000000000023" fill="#0000ff" stroke="#2a2a2a" stroke-width="1.1"/>
<rect x="1585.9" y="636.2" width="84.09999999999991" height="260.4" fill="#0000ff" stroke="#2a2a2a" stroke-width="1.1"/>
<line x1="1411.2" y1="875.2" x2="1411.2" y2="897.3" stroke="#505050" stroke-width="2.2"/>
<line x1="1397.8" y1="875.2" x2="1424.6000000000001" y2="875.2" stroke="#505050" stroke-width="2.4"/>
<line x1="1397.8" y1="897.3" x2="1424.6000000000001" y2="897.3" stroke="#505050" stroke-width="2.4"/>
<line x1="1626" y1="619" x2="1626" y2="654.9" stroke="#505050" stroke-width="2.2"/>
<line x1="1610.4" y1="619" x2="1641.6" y2="619" stroke="#505050" stroke-width="2.4"/>
<line x1="1610.4" y1="654.9" x2="1641.6" y2="654.9" stroke="#505050" stroke-width="2.4"/>
<rect x="1308.7" y="604.9" width="425.89999999999986" height="291.70000000000005" fill="none" stroke="#222" stroke-width="1.6"/>
<line x1="1302.7" y1="896.6" x2="1308.7" y2="896.6" stroke="#222" stroke-width="1.5"/>
<text x="1278.67" y="901.00" font-size="13.80" textLength="19.18" lengthAdjust="spacingAndGlyphs" fill="#111" font-weight="bold">0.0</text>
<line x1="1305.2" y1="874.1615384615385" x2="1308.7" y2="874.1615384615385" stroke="#222" stroke-width="1.5"/>
<line x1="1302.7" y1="851.723076923077" x2="1308.7" y2="851.723076923077" stroke="#222" stroke-width="1.5"/>
<text x="1278.46" y="856.12" font-size="13.80" textLength="19.18" lengthAdjust="spacingAndGlyphs" fill="#111" font-weight="bold">0.5</text>
<line x1="1305.2" y1="829.2846153846153" x2="1308.7" y2="829.2846153846153" stroke="#222" stroke-width="1.5"/>
<line x1="1302.7" y1="806.8461538461538" x2="1308.7" y2="806.8461538461538" stroke="#222" stroke-width="1.5"/>
<text x="1278.67" y="811.25" font-size="13.80" textLength="19.18" lengthAdjust="spacingAndGlyphs" fill="#111" font-weight="bold">1.0</text>
<line x1="1305.2" y1="784.4076923076923" x2="1308.7" y2="784.4076923076923" stroke="#222" stroke-width="1.5"/>
<line x1="1302.7" y1="761.9692307692308" x2="1308.7" y2="761.9692307692308" stroke="#222" stroke-width="1.5"/>
<text x="1278.46" y="766.37" font-size="13.80" textLength="19.18" lengthAdjust="spacingAndGlyphs" fill="#111" font-weight="bold">1.5</text>
<line x1="1305.2" y1="739.5307692307692" x2="1308.7" y2="739.5307692307692" stroke="#222" stroke-width="1.5"/>
<line x1="1302.7" y1="717.0923076923077" x2="1308.7" y2="717.0923076923077" stroke="#222" stroke-width="1.5"/>
<text x="1278.67" y="721.49" font-size="13.80" textLength="19.18" lengthAdjust="spacingAndGlyphs" fill="#111" font-weight="bold">2.0</text>
<line x1="1305.2" y1="694.6538461538462" x2="1308.7" y2="694.6538461538462" stroke="#222" stroke-width="1.5"/>
<line x1="1302.7" y1="672.2153846153847" x2="1308.7" y2="672.2153846153847" stroke="#222" stroke-width="1.5"/>
<text x="1278.46" y="676.62" font-size="13.80" textLength="19.18" lengthAdjust="spacingAndGlyphs" fill="#111" font-weight="bold">2.5</text>
<line x1="1305.2" y1="649.776923076923" x2="1308.7" y2="649.776923076923" stroke="#222" stroke-width="1.5"/>
<line x1="1302.7" y1="627.3384615384615" x2="1308.7" y2="627.3384615384615" stroke="#222" stroke-width="1.5"/>
<text x="1278.67" y="631.74" font-size="13.80" textLength="19.18" lengthAdjust="spacingAndGlyphs" fill="#111" font-weight="bold">3.0</text>
<line x1="1305.2" y1="604.9" x2="1308.7" y2="604.9" stroke="#222" stroke-width="1.5"/>
<line x1="1308.7" y1="896.6" x2="1308.7" y2="901.1" stroke="#222" stroke-width="1.5"/>
<line x1="1522" y1="893.1" x2="1522" y2="901.1" stroke="#222" stroke-width="1.5"/>
<line x1="1734.6" y1="896.6" x2="1734.6" y2="901.1" stroke="#222" stroke-width="1.5"/>
<text x="1326.8" y="636.6" font-size="21.1" textLength="146.55" lengthAdjust="spacingAndGlyphs" fill="#111" stroke="#111" stroke-width="0.25">CD117/EpCam</text>
<text transform="rotate(-90)" x="-860.32" y="1262.5" font-size="20.69" textLength="217.08" lengthAdjust="spacingAndGlyphs" fill="#111">CD117/EpCam ratio</text>
<text x="1376.48" y="931.98" font-size="22.25" textLength="86.43" lengthAdjust="spacingAndGlyphs" fill="#111" font-weight="bold">MES-OV</text>
<text x="1581.72" y="931.98" font-size="22.25" textLength="90.19" lengthAdjust="spacingAndGlyphs" fill="#111" font-weight="bold">SK-OV-3</text>
<text x="5.53" y="602.7" font-size="38.12" textLength="27.47" lengthAdjust="spacingAndGlyphs" fill="#000" font-weight="bold">B</text>
</svg>
</body></html>
